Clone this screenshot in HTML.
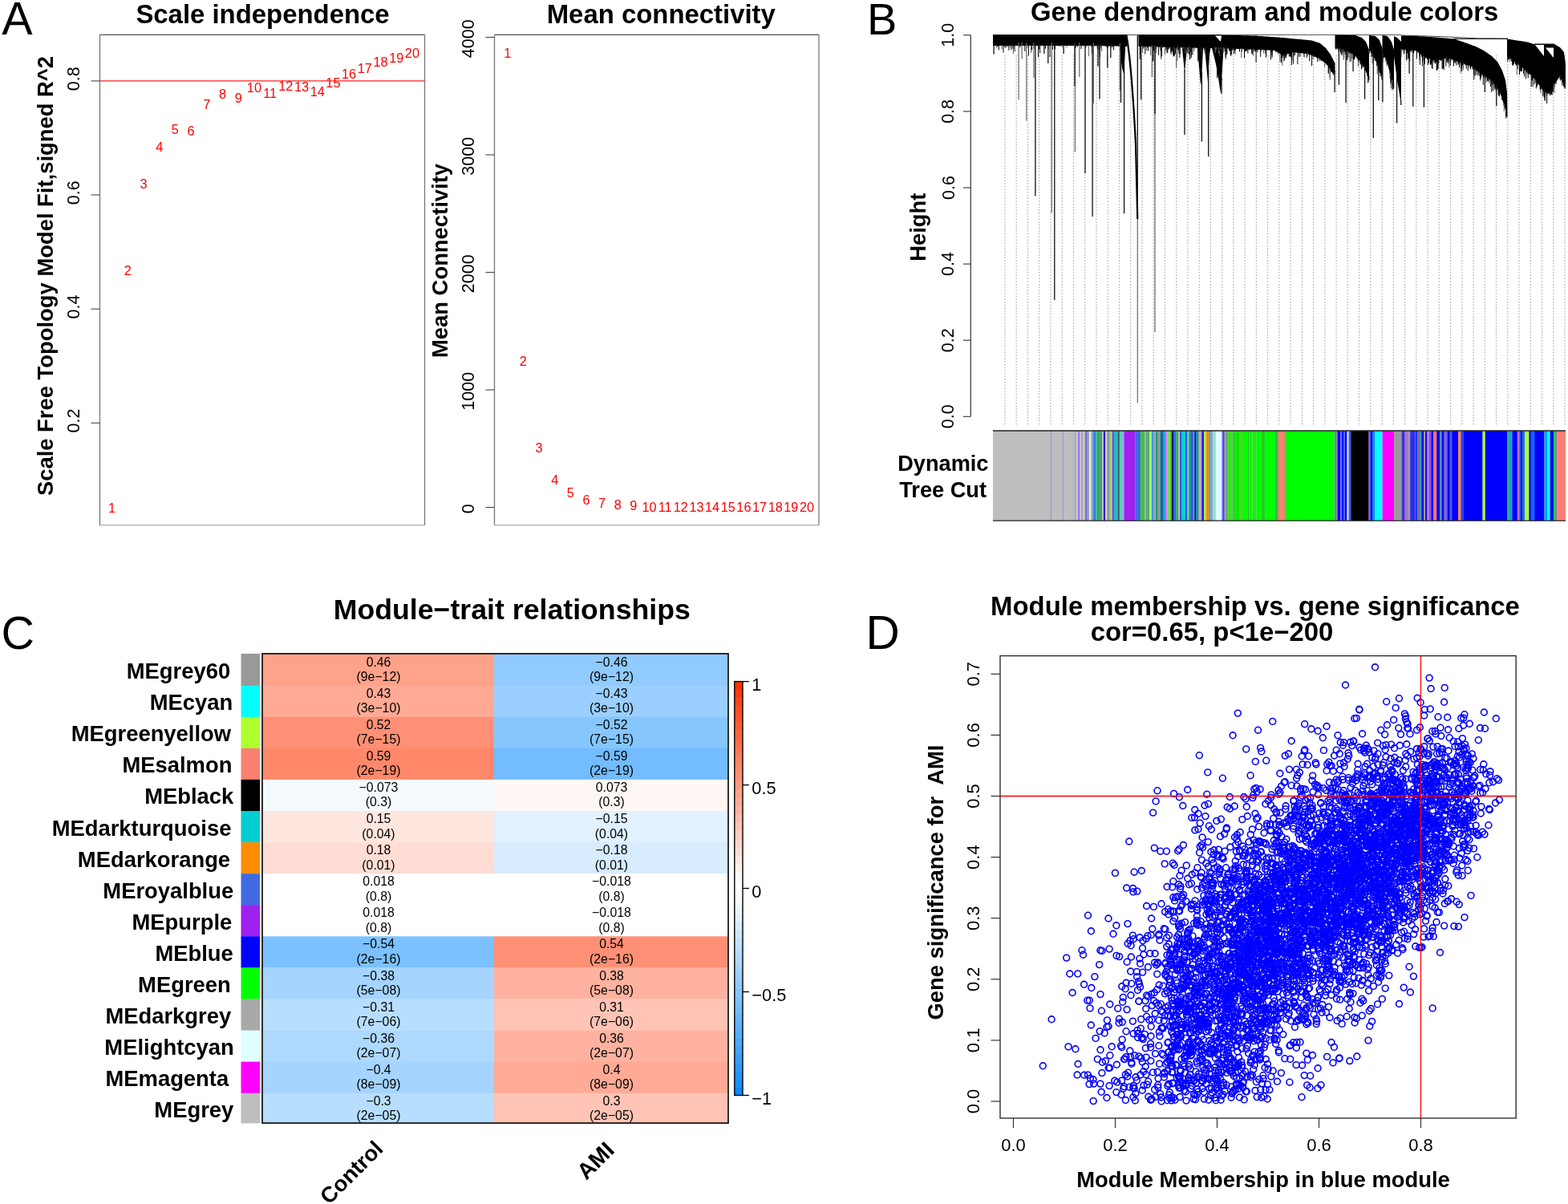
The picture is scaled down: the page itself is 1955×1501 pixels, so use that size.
<!DOCTYPE html><html><head><meta charset="utf-8"><title>WGCNA figure</title><style>html,body{margin:0;padding:0;background:#fff;overflow:hidden}svg{display:block}</style></head><body><svg width="1955" height="1501" viewBox="0 0 1955 1501" font-family="'Liberation Sans', Arial, Helvetica, sans-serif"><rect width="1955" height="1501" fill="#fff"/><text x="2.3" y="43.3" font-size="57.5">A</text><text x="1081" y="42.6" font-size="56">B</text><text x="1.6" y="809.3" font-size="57.5">C</text><text x="1079.5" y="809.3" font-size="58.5">D</text><text x="327.5" y="28.7" font-size="32.9" font-weight="bold" text-anchor="middle">Scale independence</text><line x1="124.5" y1="43.3" x2="529.5" y2="43.3" stroke="#222" stroke-width="1.1"/><line x1="529.5" y1="43.3" x2="529.5" y2="654.7" stroke="#777" stroke-width="1.3"/><line x1="124.5" y1="654.7" x2="529.5" y2="654.7" stroke="#999" stroke-width="1.1"/><line x1="124.5" y1="43.3" x2="124.5" y2="654.7" stroke="#777" stroke-width="1.3"/><line x1="113.5" y1="527.3" x2="124.5" y2="527.3" stroke="#444" stroke-width="1.1"/><text x="99" y="524.6" font-size="21.5" text-anchor="middle" transform="rotate(-90 99 524.6)">0.2</text><line x1="113.5" y1="385.2" x2="124.5" y2="385.2" stroke="#444" stroke-width="1.1"/><text x="99" y="382.5" font-size="21.5" text-anchor="middle" transform="rotate(-90 99 382.5)">0.4</text><line x1="113.5" y1="243" x2="124.5" y2="243" stroke="#444" stroke-width="1.1"/><text x="99" y="240.3" font-size="21.5" text-anchor="middle" transform="rotate(-90 99 240.3)">0.6</text><line x1="113.5" y1="100.9" x2="124.5" y2="100.9" stroke="#444" stroke-width="1.1"/><text x="99" y="98.2" font-size="21.5" text-anchor="middle" transform="rotate(-90 99 98.2)">0.8</text><text x="66" y="344" font-size="27.4" font-weight="bold" text-anchor="middle" transform="rotate(-90 66 344)">Scale Free Topology Model Fit,signed R^2</text><line x1="124.5" y1="100.8" x2="529.5" y2="100.8" stroke="#ff2020" stroke-width="1.2"/><text x="139.6" y="639" font-size="16.3" text-anchor="middle" fill="#ff0000">1</text><text x="159.3" y="342.6" font-size="16.3" text-anchor="middle" fill="#ff0000">2</text><text x="179" y="234.5" font-size="16.3" text-anchor="middle" fill="#ff0000">3</text><text x="198.7" y="188.5" font-size="16.3" text-anchor="middle" fill="#ff0000">4</text><text x="218.4" y="167" font-size="16.3" text-anchor="middle" fill="#ff0000">5</text><text x="238.1" y="168.9" font-size="16.3" text-anchor="middle" fill="#ff0000">6</text><text x="257.8" y="136" font-size="16.3" text-anchor="middle" fill="#ff0000">7</text><text x="277.5" y="123.4" font-size="16.3" text-anchor="middle" fill="#ff0000">8</text><text x="297.2" y="128.3" font-size="16.3" text-anchor="middle" fill="#ff0000">9</text><text x="316.9" y="115.1" font-size="16.3" text-anchor="middle" fill="#ff0000">10</text><text x="336.6" y="121.5" font-size="16.3" text-anchor="middle" fill="#ff0000">11</text><text x="356.3" y="113.2" font-size="16.3" text-anchor="middle" fill="#ff0000">12</text><text x="376" y="113.5" font-size="16.3" text-anchor="middle" fill="#ff0000">13</text><text x="395.7" y="119.7" font-size="16.3" text-anchor="middle" fill="#ff0000">14</text><text x="415.4" y="108.6" font-size="16.3" text-anchor="middle" fill="#ff0000">15</text><text x="435.1" y="98.2" font-size="16.3" text-anchor="middle" fill="#ff0000">16</text><text x="454.8" y="90.8" font-size="16.3" text-anchor="middle" fill="#ff0000">17</text><text x="474.5" y="82.8" font-size="16.3" text-anchor="middle" fill="#ff0000">18</text><text x="494.2" y="77.9" font-size="16.3" text-anchor="middle" fill="#ff0000">19</text><text x="513.9" y="72.4" font-size="16.3" text-anchor="middle" fill="#ff0000">20</text><text x="824.3" y="28.9" font-size="32.9" font-weight="bold" text-anchor="middle">Mean connectivity</text><line x1="616.5" y1="43.3" x2="1021" y2="43.3" stroke="#222" stroke-width="1.1"/><line x1="1021" y1="43.3" x2="1021" y2="654.7" stroke="#777" stroke-width="1.3"/><line x1="616.5" y1="654.7" x2="1021" y2="654.7" stroke="#999" stroke-width="1.1"/><line x1="616.5" y1="43.3" x2="616.5" y2="654.7" stroke="#777" stroke-width="1.3"/><line x1="605.5" y1="632.5" x2="616.5" y2="632.5" stroke="#444" stroke-width="1.1"/><text x="591" y="634.3" font-size="21.5" text-anchor="middle" transform="rotate(-90 591 634.3)">0</text><line x1="605.5" y1="486" x2="616.5" y2="486" stroke="#444" stroke-width="1.1"/><text x="591" y="487.8" font-size="21.5" text-anchor="middle" transform="rotate(-90 591 487.8)">1000</text><line x1="605.5" y1="339.5" x2="616.5" y2="339.5" stroke="#444" stroke-width="1.1"/><text x="591" y="341.3" font-size="21.5" text-anchor="middle" transform="rotate(-90 591 341.3)">2000</text><line x1="605.5" y1="193" x2="616.5" y2="193" stroke="#444" stroke-width="1.1"/><text x="591" y="194.8" font-size="21.5" text-anchor="middle" transform="rotate(-90 591 194.8)">3000</text><line x1="605.5" y1="46.5" x2="616.5" y2="46.5" stroke="#444" stroke-width="1.1"/><text x="591" y="48.3" font-size="21.5" text-anchor="middle" transform="rotate(-90 591 48.3)">4000</text><text x="558" y="325" font-size="27.4" font-weight="bold" text-anchor="middle" transform="rotate(-90 558 325)">Mean Connectivity</text><text x="632.8" y="72.1" font-size="16.3" text-anchor="middle" fill="#ff0000">1</text><text x="652.4" y="456.3" font-size="16.3" text-anchor="middle" fill="#ff0000">2</text><text x="672.1" y="563.8" font-size="16.3" text-anchor="middle" fill="#ff0000">3</text><text x="691.7" y="603.8" font-size="16.3" text-anchor="middle" fill="#ff0000">4</text><text x="711.4" y="620.3" font-size="16.3" text-anchor="middle" fill="#ff0000">5</text><text x="731" y="628.6" font-size="16.3" text-anchor="middle" fill="#ff0000">6</text><text x="750.6" y="632.8" font-size="16.3" text-anchor="middle" fill="#ff0000">7</text><text x="770.3" y="634.8" font-size="16.3" text-anchor="middle" fill="#ff0000">8</text><text x="789.9" y="636.3" font-size="16.3" text-anchor="middle" fill="#ff0000">9</text><text x="809.6" y="638.3" font-size="16.3" text-anchor="middle" fill="#ff0000">10</text><text x="829.2" y="638.3" font-size="16.3" text-anchor="middle" fill="#ff0000">11</text><text x="848.8" y="638.3" font-size="16.3" text-anchor="middle" fill="#ff0000">12</text><text x="868.5" y="638.3" font-size="16.3" text-anchor="middle" fill="#ff0000">13</text><text x="888.1" y="638.3" font-size="16.3" text-anchor="middle" fill="#ff0000">14</text><text x="907.8" y="638.3" font-size="16.3" text-anchor="middle" fill="#ff0000">15</text><text x="927.4" y="638.3" font-size="16.3" text-anchor="middle" fill="#ff0000">16</text><text x="947" y="638.3" font-size="16.3" text-anchor="middle" fill="#ff0000">17</text><text x="966.7" y="638.3" font-size="16.3" text-anchor="middle" fill="#ff0000">18</text><text x="986.3" y="638.3" font-size="16.3" text-anchor="middle" fill="#ff0000">19</text><text x="1006" y="638.3" font-size="16.3" text-anchor="middle" fill="#ff0000">20</text><text x="638.3" y="772.2" font-size="35.7" font-weight="bold" text-anchor="middle">Module−trait relationships</text><rect x="300.5" y="814.9" width="23.5" height="40.1" fill="#999999"/><rect x="327" y="814.9" width="289" height="40.1" fill="#FFA28A"/><rect x="616" y="814.9" width="292" height="40.1" fill="#90CAFF"/><text x="287.2" y="846.1" font-size="27.4" font-weight="bold" text-anchor="end">MEgrey60</text><text x="472" y="830.7" font-size="15.8" text-anchor="middle">0.46</text><text x="472" y="849.1" font-size="15.8" text-anchor="middle">(9e−12)</text><text x="762.5" y="830.7" font-size="15.8" text-anchor="middle">−0.46</text><text x="762.5" y="849.1" font-size="15.8" text-anchor="middle">(9e−12)</text><rect x="300.5" y="854.7" width="23.5" height="39.4" fill="#00FFFF"/><rect x="327" y="854.7" width="289" height="39.4" fill="#FFAA95"/><rect x="616" y="854.7" width="292" height="39.4" fill="#9ACFFF"/><text x="290.2" y="885.2" font-size="27.4" font-weight="bold" text-anchor="end">MEcyan</text><text x="472" y="869.8" font-size="15.8" text-anchor="middle">0.43</text><text x="472" y="888.2" font-size="15.8" text-anchor="middle">(3e−10)</text><text x="762.5" y="869.8" font-size="15.8" text-anchor="middle">−0.43</text><text x="762.5" y="888.2" font-size="15.8" text-anchor="middle">(3e−10)</text><rect x="300.5" y="893.8" width="23.5" height="39.4" fill="#ADFF2F"/><rect x="327" y="893.8" width="289" height="39.4" fill="#FF9075"/><rect x="616" y="893.8" width="292" height="39.4" fill="#86C6FF"/><text x="288.1" y="924.3" font-size="27.4" font-weight="bold" text-anchor="end">MEgreenyellow</text><text x="472" y="908.9" font-size="15.8" text-anchor="middle">0.52</text><text x="472" y="927.3" font-size="15.8" text-anchor="middle">(7e−15)</text><text x="762.5" y="908.9" font-size="15.8" text-anchor="middle">−0.52</text><text x="762.5" y="927.3" font-size="15.8" text-anchor="middle">(7e−15)</text><rect x="300.5" y="932.8" width="23.5" height="39.4" fill="#FA8072"/><rect x="327" y="932.8" width="289" height="39.4" fill="#FF886A"/><rect x="616" y="932.8" width="292" height="39.4" fill="#72BCFF"/><text x="289.4" y="963.3" font-size="27.4" font-weight="bold" text-anchor="end">MEsalmon</text><text x="472" y="947.9" font-size="15.8" text-anchor="middle">0.59</text><text x="472" y="966.3" font-size="15.8" text-anchor="middle">(2e−19)</text><text x="762.5" y="947.9" font-size="15.8" text-anchor="middle">−0.59</text><text x="762.5" y="966.3" font-size="15.8" text-anchor="middle">(2e−19)</text><rect x="300.5" y="971.9" width="23.5" height="39.4" fill="#000000"/><rect x="327" y="971.9" width="289" height="39.4" fill="#F5FAFF"/><rect x="616" y="971.9" width="292" height="39.4" fill="#FFF7F4"/><text x="291.3" y="1002.4" font-size="27.4" font-weight="bold" text-anchor="end">MEblack</text><text x="472" y="987" font-size="15.8" text-anchor="middle">−0.073</text><text x="472" y="1005.4" font-size="15.8" text-anchor="middle">(0.3)</text><text x="762.5" y="987" font-size="15.8" text-anchor="middle">0.073</text><text x="762.5" y="1005.4" font-size="15.8" text-anchor="middle">(0.3)</text><rect x="300.5" y="1011" width="23.5" height="39.4" fill="#00CED1"/><rect x="327" y="1011" width="289" height="39.4" fill="#FFE6DF"/><rect x="616" y="1011" width="292" height="39.4" fill="#E1F1FF"/><text x="288.4" y="1041.5" font-size="27.4" font-weight="bold" text-anchor="end">MEdarkturquoise</text><text x="472" y="1026.1" font-size="15.8" text-anchor="middle">0.15</text><text x="472" y="1044.5" font-size="15.8" text-anchor="middle">(0.04)</text><text x="762.5" y="1026.1" font-size="15.8" text-anchor="middle">−0.15</text><text x="762.5" y="1044.5" font-size="15.8" text-anchor="middle">(0.04)</text><rect x="300.5" y="1050.1" width="23.5" height="39.4" fill="#FF8C00"/><rect x="327" y="1050.1" width="289" height="39.4" fill="#FFDDD4"/><rect x="616" y="1050.1" width="292" height="39.4" fill="#D7ECFF"/><text x="287.1" y="1080.6" font-size="27.4" font-weight="bold" text-anchor="end">MEdarkorange</text><text x="472" y="1065.2" font-size="15.8" text-anchor="middle">0.18</text><text x="472" y="1083.6" font-size="15.8" text-anchor="middle">(0.01)</text><text x="762.5" y="1065.2" font-size="15.8" text-anchor="middle">−0.18</text><text x="762.5" y="1083.6" font-size="15.8" text-anchor="middle">(0.01)</text><rect x="300.5" y="1089.2" width="23.5" height="39.4" fill="#4169E1"/><rect x="327" y="1089.2" width="289" height="39.4" fill="#FFFFFF"/><rect x="616" y="1089.2" width="292" height="39.4" fill="#FFFFFF"/><text x="291.2" y="1119.7" font-size="27.4" font-weight="bold" text-anchor="end">MEroyalblue</text><text x="472" y="1104.3" font-size="15.8" text-anchor="middle">0.018</text><text x="472" y="1122.7" font-size="15.8" text-anchor="middle">(0.8)</text><text x="762.5" y="1104.3" font-size="15.8" text-anchor="middle">−0.018</text><text x="762.5" y="1122.7" font-size="15.8" text-anchor="middle">(0.8)</text><rect x="300.5" y="1128.2" width="23.5" height="39.4" fill="#A020F0"/><rect x="327" y="1128.2" width="289" height="39.4" fill="#FFFFFF"/><rect x="616" y="1128.2" width="292" height="39.4" fill="#FFFFFF"/><text x="289.3" y="1158.7" font-size="27.4" font-weight="bold" text-anchor="end">MEpurple</text><text x="472" y="1143.3" font-size="15.8" text-anchor="middle">0.018</text><text x="472" y="1161.7" font-size="15.8" text-anchor="middle">(0.8)</text><text x="762.5" y="1143.3" font-size="15.8" text-anchor="middle">−0.018</text><text x="762.5" y="1161.7" font-size="15.8" text-anchor="middle">(0.8)</text><rect x="300.5" y="1167.3" width="23.5" height="39.4" fill="#0000FF"/><rect x="327" y="1167.3" width="289" height="39.4" fill="#7CC1FF"/><rect x="616" y="1167.3" width="292" height="39.4" fill="#FF9075"/><text x="290.8" y="1197.8" font-size="27.4" font-weight="bold" text-anchor="end">MEblue</text><text x="472" y="1182.4" font-size="15.8" text-anchor="middle">−0.54</text><text x="472" y="1200.8" font-size="15.8" text-anchor="middle">(2e−16)</text><text x="762.5" y="1182.4" font-size="15.8" text-anchor="middle">0.54</text><text x="762.5" y="1200.8" font-size="15.8" text-anchor="middle">(2e−16)</text><rect x="300.5" y="1206.4" width="23.5" height="39.4" fill="#00FF00"/><rect x="327" y="1206.4" width="289" height="39.4" fill="#A4D4FF"/><rect x="616" y="1206.4" width="292" height="39.4" fill="#FFB29F"/><text x="287.8" y="1236.9" font-size="27.4" font-weight="bold" text-anchor="end">MEgreen</text><text x="472" y="1221.5" font-size="15.8" text-anchor="middle">−0.38</text><text x="472" y="1239.9" font-size="15.8" text-anchor="middle">(5e−08)</text><text x="762.5" y="1221.5" font-size="15.8" text-anchor="middle">0.38</text><text x="762.5" y="1239.9" font-size="15.8" text-anchor="middle">(5e−08)</text><rect x="300.5" y="1245.5" width="23.5" height="39.4" fill="#A9A9A9"/><rect x="327" y="1245.5" width="289" height="39.4" fill="#B8DEFF"/><rect x="616" y="1245.5" width="292" height="39.4" fill="#FFC4B5"/><text x="288.2" y="1276" font-size="27.4" font-weight="bold" text-anchor="end">MEdarkgrey</text><text x="472" y="1260.6" font-size="15.8" text-anchor="middle">−0.31</text><text x="472" y="1279" font-size="15.8" text-anchor="middle">(7e−06)</text><text x="762.5" y="1260.6" font-size="15.8" text-anchor="middle">0.31</text><text x="762.5" y="1279" font-size="15.8" text-anchor="middle">(7e−06)</text><rect x="300.5" y="1284.6" width="23.5" height="39.4" fill="#E0FFFF"/><rect x="327" y="1284.6" width="289" height="39.4" fill="#AED9FF"/><rect x="616" y="1284.6" width="292" height="39.4" fill="#FFB29F"/><text x="291.7" y="1315.1" font-size="27.4" font-weight="bold" text-anchor="end">MElightcyan</text><text x="472" y="1299.7" font-size="15.8" text-anchor="middle">−0.36</text><text x="472" y="1318.1" font-size="15.8" text-anchor="middle">(2e−07)</text><text x="762.5" y="1299.7" font-size="15.8" text-anchor="middle">0.36</text><text x="762.5" y="1318.1" font-size="15.8" text-anchor="middle">(2e−07)</text><rect x="300.5" y="1323.6" width="23.5" height="39.4" fill="#FF00FF"/><rect x="327" y="1323.6" width="289" height="39.4" fill="#A4D4FF"/><rect x="616" y="1323.6" width="292" height="39.4" fill="#FFAA95"/><text x="285.2" y="1354.1" font-size="27.4" font-weight="bold" text-anchor="end">MEmagenta</text><text x="472" y="1338.7" font-size="15.8" text-anchor="middle">−0.4</text><text x="472" y="1357.1" font-size="15.8" text-anchor="middle">(8e−09)</text><text x="762.5" y="1338.7" font-size="15.8" text-anchor="middle">0.4</text><text x="762.5" y="1357.1" font-size="15.8" text-anchor="middle">(8e−09)</text><rect x="300.5" y="1362.7" width="23.5" height="37.7" fill="#BEBEBE"/><rect x="327" y="1362.7" width="289" height="37.7" fill="#B8DEFF"/><rect x="616" y="1362.7" width="292" height="37.7" fill="#FFC4B5"/><text x="291.3" y="1393.2" font-size="27.4" font-weight="bold" text-anchor="end">MEgrey</text><text x="472" y="1377.8" font-size="15.8" text-anchor="middle">−0.3</text><text x="472" y="1396.2" font-size="15.8" text-anchor="middle">(2e−05)</text><text x="762.5" y="1377.8" font-size="15.8" text-anchor="middle">0.3</text><text x="762.5" y="1396.2" font-size="15.8" text-anchor="middle">(2e−05)</text><rect x="327" y="814.9" width="581" height="585.2" fill="none" stroke="#1a1a1a" stroke-width="1.8"/><text x="479.2" y="1433.8" font-size="27.4" font-weight="bold" text-anchor="end" transform="rotate(-45 479.2 1433.8)">Control</text><text x="767.5" y="1435.5" font-size="28.2" font-weight="bold" text-anchor="end" transform="rotate(-45 767.5 1435.5)">AMI</text><rect x="915.8" y="1355.2" width="10.2" height="10.7" fill="#0D8CFF"/><rect x="915.8" y="1344.9" width="10.2" height="10.7" fill="#1791FF"/><rect x="915.8" y="1334.5" width="10.2" height="10.7" fill="#2196FF"/><rect x="915.8" y="1324.2" width="10.2" height="10.7" fill="#2B9BFF"/><rect x="915.8" y="1313.9" width="10.2" height="10.7" fill="#359FFF"/><rect x="915.8" y="1303.6" width="10.2" height="10.7" fill="#3FA4FF"/><rect x="915.8" y="1293.3" width="10.2" height="10.7" fill="#49A9FF"/><rect x="915.8" y="1283" width="10.2" height="10.7" fill="#53AEFF"/><rect x="915.8" y="1272.6" width="10.2" height="10.7" fill="#5EB2FF"/><rect x="915.8" y="1262.3" width="10.2" height="10.7" fill="#68B7FF"/><rect x="915.8" y="1252" width="10.2" height="10.7" fill="#72BCFF"/><rect x="915.8" y="1241.7" width="10.2" height="10.7" fill="#7CC1FF"/><rect x="915.8" y="1231.4" width="10.2" height="10.7" fill="#86C6FF"/><rect x="915.8" y="1221" width="10.2" height="10.7" fill="#90CAFF"/><rect x="915.8" y="1210.7" width="10.2" height="10.7" fill="#9ACFFF"/><rect x="915.8" y="1200.4" width="10.2" height="10.7" fill="#A4D4FF"/><rect x="915.8" y="1190.1" width="10.2" height="10.7" fill="#AED9FF"/><rect x="915.8" y="1179.8" width="10.2" height="10.7" fill="#B8DEFF"/><rect x="915.8" y="1169.5" width="10.2" height="10.7" fill="#C2E2FF"/><rect x="915.8" y="1159.1" width="10.2" height="10.7" fill="#CDE7FF"/><rect x="915.8" y="1148.8" width="10.2" height="10.7" fill="#D7ECFF"/><rect x="915.8" y="1138.5" width="10.2" height="10.7" fill="#E1F1FF"/><rect x="915.8" y="1128.2" width="10.2" height="10.7" fill="#EBF5FF"/><rect x="915.8" y="1117.9" width="10.2" height="10.7" fill="#F5FAFF"/><rect x="915.8" y="1107.5" width="10.2" height="10.7" fill="#FFFFFF"/><rect x="915.8" y="1097.2" width="10.2" height="10.7" fill="#FFFFFF"/><rect x="915.8" y="1086.9" width="10.2" height="10.7" fill="#FFF7F4"/><rect x="915.8" y="1076.6" width="10.2" height="10.7" fill="#FFEEEA"/><rect x="915.8" y="1066.3" width="10.2" height="10.7" fill="#FFE6DF"/><rect x="915.8" y="1056" width="10.2" height="10.7" fill="#FFDDD4"/><rect x="915.8" y="1045.6" width="10.2" height="10.7" fill="#FFD4CA"/><rect x="915.8" y="1035.3" width="10.2" height="10.7" fill="#FFCCBF"/><rect x="915.8" y="1025" width="10.2" height="10.7" fill="#FFC4B5"/><rect x="915.8" y="1014.7" width="10.2" height="10.7" fill="#FFBBAA"/><rect x="915.8" y="1004.4" width="10.2" height="10.7" fill="#FFB29F"/><rect x="915.8" y="994.1" width="10.2" height="10.7" fill="#FFAA95"/><rect x="915.8" y="983.7" width="10.2" height="10.7" fill="#FFA28A"/><rect x="915.8" y="973.4" width="10.2" height="10.7" fill="#FF9980"/><rect x="915.8" y="963.1" width="10.2" height="10.7" fill="#FF9075"/><rect x="915.8" y="952.8" width="10.2" height="10.7" fill="#FF886A"/><rect x="915.8" y="942.5" width="10.2" height="10.7" fill="#FF8060"/><rect x="915.8" y="932.1" width="10.2" height="10.7" fill="#FF7755"/><rect x="915.8" y="921.8" width="10.2" height="10.7" fill="#FF6E4A"/><rect x="915.8" y="911.5" width="10.2" height="10.7" fill="#FF6640"/><rect x="915.8" y="901.2" width="10.2" height="10.7" fill="#FF5E35"/><rect x="915.8" y="890.9" width="10.2" height="10.7" fill="#FF552A"/><rect x="915.8" y="880.6" width="10.2" height="10.7" fill="#FF4D20"/><rect x="915.8" y="870.2" width="10.2" height="10.7" fill="#FF4415"/><rect x="915.8" y="859.9" width="10.2" height="10.7" fill="#FF3C0B"/><rect x="915.8" y="849.6" width="10.2" height="10.7" fill="#FF3300"/><rect x="915.8" y="849.6" width="10.2" height="515.9" fill="none" stroke="#000" stroke-width="1.4"/><line x1="926" y1="849.6" x2="934" y2="849.6" stroke="#000" stroke-width="1.3"/><text x="937.3" y="860.8" font-size="21.8">1</text><line x1="926" y1="978.6" x2="934" y2="978.6" stroke="#000" stroke-width="1.3"/><text x="937.3" y="989.8" font-size="21.8">0.5</text><line x1="926" y1="1107.5" x2="934" y2="1107.5" stroke="#000" stroke-width="1.3"/><text x="937.3" y="1118.8" font-size="21.8">0</text><line x1="926" y1="1236.5" x2="934" y2="1236.5" stroke="#000" stroke-width="1.3"/><text x="937.3" y="1247.7" font-size="21.8">−0.5</text><line x1="926" y1="1365.5" x2="934" y2="1365.5" stroke="#000" stroke-width="1.3"/><text x="937.3" y="1376.7" font-size="21.8">−1</text><text x="1565" y="766.8" font-size="32.9" font-weight="bold" text-anchor="middle">Module membership vs. gene significance</text><text x="1511" y="799" font-size="32.9" font-weight="bold" text-anchor="middle">cor=0.65, p&lt;1e−200</text><defs><marker id="mk" markerUnits="userSpaceOnUse" markerWidth="12" markerHeight="12" refX="6" refY="6" viewBox="0 0 12 12" overflow="visible"><circle cx="6" cy="6" r="3.9" fill="none" stroke="#0000FF" stroke-width="1.6"/></marker></defs><polyline fill="none" stroke="none" marker-start="url(#mk)" marker-mid="url(#mk)" marker-end="url(#mk)" points="1652.8,1062.3 1459.9,1318.8 1582.2,1215 1604.4,1254.9 1823.7,980.9 1653.6,1210 1659.3,1125.4 1611.9,1190.3 1558.5,1197 1777.6,953.9 1560.4,1165.5 1517.4,1293.8 1686.5,1081.8 1662.6,1198.2 1696.9,1090.2 1646.6,1175.3 1592.4,1210.3 1601.9,1111.8 1785.8,1161 1675.6,1039.1 1585.2,1186.2 1819.6,1069.7 1633.9,1104.8 1660,986.2 1666.8,1107.7 1520.9,1246.1 1518.4,1149.7 1581.3,1191.6 1830.7,1019.7 1580.7,1139.8 1644.2,1157.3 1576.4,1226.7 1410.4,1193 1738.9,944.3 1735.9,1116.3 1508.5,1184.7 1828.4,970.4 1666.2,971.9 1607.5,959.1 1726.3,1104.3 1821,1028 1571.6,1242.2 1500.5,1243.3 1618.2,1110.8 1757.2,1031.7 1462.6,1350.7 1791.1,1058.8 1680.1,1166.4 1728.9,1074.3 1811.4,976.8 1553.2,996 1631.7,1213.3 1758.2,987.5 1593.4,1229.9 1632.8,1030.8 1589.1,1142.9 1726.7,1090 1538.4,1208.3 1751.2,1090.1 1728,1124.2 1778.9,1142.1 1550.9,1210 1501.3,1361.3 1656.2,1110.2 1776.6,1025.8 1493.9,1342.4 1718.5,975.6 1674.7,1080.1 1551.2,1370.9 1608.9,1175 1768,1037.8 1476.8,1252 1563,1281.6 1730.6,1056.6 1676.1,1166.6 1622.4,1082.1 1566.4,1348.7 1490.1,1365.2 1696.8,1021 1560.4,1182 1520.4,1339.9 1689.1,1103.4 1801.5,1009.8 1625.2,1018.6 1567.1,1254.4 1741,1108.5 1595.1,1178.5 1725.8,1159.8 1772.7,1050.6 1480.2,1172.3 1575.1,1148.8 1483.3,1302.5 1593,1236 1769,1017.5 1762.3,1006.7 1557,1180.7 1794.4,1137.4 1579.5,1026.9 1533,1243.2 1667.2,1272.5 1758.4,1237 1639.8,1106.4 1457.4,1311.6 1794.7,1028.1 1449.9,1282.2 1440.8,1367.4 1633.7,1341.2 1454.8,1235 1659.7,1152.7 1698.4,1079.1 1857.6,966.4 1519.1,1334.6 1760.3,1016.8 1716.5,1149.6 1673.3,1059.8 1492.6,1357.8 1462.6,1183.6 1727.2,969 1618,1215.1 1763.1,1005.9 1504.7,1203.7 1602,1165.1 1769.2,1123.7 1682.6,1192.2 1564.9,1150.7 1513.8,1312.4 1763.8,1143 1608.7,1232.8 1501.3,1250.3 1771.7,1088.5 1559.9,1124.3 1806.2,992.7 1657.9,1226.6 1488.6,1151.2 1665.1,1216 1771.3,1038.6 1735.3,984.1 1565.1,1265.3 1475.8,1232.1 1685.3,1123.4 1523,1284.3 1444.8,1303.7 1506.6,1205.9 1468.7,1060.7 1827.9,946.1 1595.6,1140.8 1611.3,1188.4 1588.2,1267.2 1669.9,1223.5 1760.8,1021.4 1718.7,1120.4 1656.2,1213.6 1715.1,1113.1 1773.2,1051.2 1460.2,1199.2 1846.3,1014 1485.3,1127.7 1770.4,906.8 1660.1,1191.8 1707.1,1142.9 1729.8,1057.8 1559.2,1342.8 1578,1358.6 1746.7,983.6 1653.2,1162.4 1521,1191.5 1705,1208.5 1786.3,1119 1591.5,1097.2 1543.1,1199.2 1533.4,1156.3 1723.9,1078.8 1574.8,1131.9 1830.3,1085.2 1856.5,1008.5 1471.5,1356.1 1567.3,1277.8 1733.2,1008 1612.8,1065.6 1663.4,1134.7 1803.5,970.3 1497.2,1310.3 1700.7,1048.4 1768.4,1020.4 1684.5,1058.5 1656.2,1013.2 1597.8,1107.5 1373.4,1260.2 1552.1,1273.4 1504.8,990.2 1683.1,1086.9 1681.9,1116.1 1728.6,1060.4 1771,1090.6 1741,1122.8 1643.6,1258 1639.3,1145.6 1727.2,1232.1 1683,1240.5 1690.2,1152.5 1697,1142 1727.1,934.7 1673.9,968.2 1621.9,986.4 1672.1,1040.1 1754.8,1094.9 1556.9,1218.5 1555.1,1181.5 1610.1,1136.2 1826.2,1003.4 1560.8,1202.1 1518,1137.1 1807,1072 1448.7,1313.5 1566.5,1053 1478.1,1228.9 1531.8,1195.7 1534.3,1117.1 1370.7,1202.6 1738,992.3 1754.4,1122.7 1721.9,1167.3 1613.1,1107 1696.6,1024 1703.4,1016.8 1451.4,1342.9 1630.3,1141.7 1652.8,1077.2 1727.8,1122.9 1575.5,1184.9 1777.7,1033.1 1358.1,1351.6 1521.8,1095.3 1726.6,1112.7 1494.5,1311.8 1488.2,1268 1542.5,1158.1 1685.2,1137.4 1788.5,1046.9 1539,1246.8 1498,1291.7 1619.7,1115.9 1770.1,991.9 1653.4,1161.2 1662.1,1154.5 1535.1,1319.6 1729.6,1176.5 1663.6,942 1506.6,1137.2 1751.9,1041.4 1521.2,1251.4 1776.3,884.6 1686.6,971.6 1780.1,1085.2 1619.7,1017.1 1744.1,1009.9 1656,1091.8 1786.1,1069.7 1775.4,939.6 1552.1,1058.7 1790.5,1046.2 1669.8,1082 1533.1,1122.2 1626.2,1149.3 1667.1,1142.1 1579.4,1029.6 1827.9,960.7 1720.3,1166.5 1509,1154.7 1664.3,1036 1629.3,1171.9 1526.7,1203.6 1574.1,1230.3 1532.6,1258.4 1704.1,1076.9 1461.7,1350.2 1819,937.5 1819,1022.1 1696.1,1006.8 1359.4,1344.3 1732.1,1016.8 1456.5,1254.2 1629.9,1114.5 1608.3,1169.2 1549,1234.9 1599.1,1092.7 1524.2,1177.1 1604.1,1127.2 1743.5,993.5 1460.2,1232.6 1748.8,1098.2 1496.2,1026.1 1540.6,1053.1 1818,1011.3 1612.2,1235 1636.7,1029.1 1699.9,979.8 1586.7,1092.9 1526.6,1326.1 1620.6,1171.6 1758.4,1078.7 1760.2,991.8 1707.1,1066.6 1565.2,1089.8 1482,1347.2 1852,983.3 1770.4,1098.6 1687.4,1159.5 1458.5,1224.2 1458.4,1361.9 1575.6,1104.2 1736,1090.5 1691.6,1035.4 1547.7,1140.3 1599.8,1185.3 1655.3,1166 1792.2,969 1563.7,983.8 1722,1043.2 1680.2,1163 1529.3,1124.3 1475.7,1219.6 1588.9,1097.6 1560,1122 1439.3,1057.1 1677.5,854 1675.6,1030.6 1753.6,1011.9 1623.7,1121 1721.7,910.1 1681.3,1155.6 1509.5,1365.7 1565,1359.5 1557.9,1189.7 1696.8,1088.8 1775,1168.1 1660.4,1182.6 1508.9,1111.2 1715.1,944.2 1564.1,1282.6 1577.8,1258.8 1655.5,1067.2 1580.4,1175.1 1660.5,1032.1 1541.6,1351.2 1739,1159.7 1534.6,1115.3 1549.9,1287.6 1705.1,933 1474.3,1350.5 1629.8,1093.9 1641.4,1020.9 1779.9,989.1 1481.1,1347.5 1758.2,1023 1647,1352.6 1790,976.8 1422,1340 1846.9,1005.6 1767.9,1069.4 1547.7,1323.9 1777.5,1148.1 1651.4,1169.4 1654.2,1064.3 1489.4,1180.2 1485.3,1248.9 1462.8,1309.7 1790.8,986.6 1504.7,1228.5 1736,1026.7 1534.3,1205.8 1556.5,1134 1726.2,1118.3 1567.6,1128 1494,1033.7 1585.7,1124.9 1712,1053 1533.4,1294.8 1519.2,1150.4 1671.3,1045.2 1701.5,1020.9 1360.4,1160.8 1434.6,1370.9 1534.3,1176 1472.1,1292 1766.9,997.3 1583.2,1121.1 1669.7,1218.2 1468.2,1298.4 1694.9,884.9 1727.5,987.6 1434.8,1322.6 1753.7,1011.3 1666.2,935.2 1615.6,1098 1697.6,1160.4 1514.6,1097.9 1592.2,1129 1596.4,1098 1542.9,1278.4 1724.7,1138.5 1569.7,1160.2 1831.8,1057.1 1449.7,1261.7 1765.8,993.8 1622.8,1123.8 1753.7,1072.7 1610.6,1107.8 1577.3,1079.5 1666.7,1137.8 1597.6,1228 1738.5,1058.5 1610.8,1071.6 1583.4,1184.6 1747.2,1093.3 1710.5,992.6 1782,973.5 1699.7,1088 1569.1,1071.9 1564.3,1242 1609.8,1149.7 1611.5,1054.5 1715.3,1099 1612.9,1202.6 1593.5,1270.4 1566.2,1209.8 1696.6,1084.7 1611.1,1144.9 1497,1301.4 1382.2,1331.5 1602.2,974.7 1514.7,1368.6 1771.7,1108 1560.6,1142.8 1682.5,1075.7 1747.4,1162.6 1680.7,1101.5 1649.5,1087.7 1565,1014.3 1564,1097.9 1693.5,1062 1471.1,1345.4 1602.5,1137.3 1812.1,1015.7 1601.8,1050.1 1736,1080.3 1551,1206.1 1754.4,1016 1702.7,999 1682.5,1199.4 1703.3,1038.1 1445.9,1291.7 1550.1,1099.1 1667.2,1090.3 1645.6,1150 1709.1,1064.3 1728.2,1032.1 1655.9,1170.8 1605.8,1078.8 1483.4,1186.3 1604.5,1118.8 1508.3,1313.6 1594.8,1156.8 1576.2,1305.7 1536.8,1125.2 1603.9,1170.8 1482.6,1245.7 1651.5,1145.2 1527.5,1218 1733.5,1166.1 1403.3,1339.8 1721.5,1039.5 1729.5,1046.1 1570.2,1126 1463.9,1244 1559.5,1195 1512.6,1100.3 1652.7,1102.1 1684.6,1112.8 1581.6,1258.1 1763.8,1041.3 1691.3,895.4 1612.2,1062.8 1726.7,915.7 1544.8,1213.2 1580.3,1219.8 1689.5,1061.6 1740.5,1075.9 1676,955.8 1750.5,1161.2 1776.2,1083.3 1578.3,1237.8 1773,1059.9 1808.5,1006.9 1717.2,967.3 1752.2,1013.7 1744.8,1016.3 1554.9,1232.2 1709.7,1108.1 1711.4,1001.4 1538,1359.4 1491.5,1267.4 1691.1,1202.8 1692.7,1179.9 1713.8,1145.5 1552.5,1191.6 1721.7,1210 1654.7,1205.7 1470.2,1343.5 1626,1263.7 1572.4,1302.3 1535.5,1200.1 1631.2,1096.5 1587.4,1233.2 1690.4,1091.9 1552.5,1335.7 1537.9,1227.1 1573.8,1230.1 1727.8,1081 1746.8,1036.6 1785.5,1024.7 1573.6,1156.9 1708.2,1011.1 1644.6,1175.9 1782.2,1100.4 1710,1001.9 1703.1,1142 1723.1,1174.5 1553.4,1241.6 1619.5,1114 1543.1,1280.1 1660.6,1064.4 1559.6,1177.8 1469.8,1135.3 1515.1,1211.9 1639,1051.4 1755,1170.8 1793.1,1032.6 1749.3,1027.6 1703.3,929.1 1710.9,1061.9 1665.1,982.7 1670.9,1076.7 1569.5,1124.8 1717.5,1186.2 1519.9,1363.1 1726.7,1043.7 1527.2,1061.1 1622,1024.8 1686,1202 1746,1046.1 1469.4,1165.3 1722.4,1180.2 1583.2,1028.2 1505.6,1325.7 1615.8,1108.2 1498.1,1269.9 1778.6,1016.7 1470.6,1136 1649.2,1209 1618.7,1212.4 1845,979.2 1601.2,1124.9 1563.4,1243.5 1626.3,1132.9 1619.4,1166.5 1594.8,1054.7 1526.4,1235.3 1648.2,1093.5 1446.8,1061.2 1798.8,1036.1 1620,1260.1 1714.8,995.4 1754.1,1015.3 1550.6,1229.9 1535.4,1191.9 1722.2,1011.8 1438.4,1130.4 1706.2,1021 1609.3,1185.4 1735.1,1046 1696.1,1049.1 1813.4,1071.4 1633.6,1108.1 1643.2,1049.5 1800.6,965.9 1672,1140.5 1669.7,1121.8 1716.5,1083.6 1700.7,1189.3 1417.8,1111.1 1431.6,1348.2 1592.3,1082.4 1631.7,1216.5 1762.7,1164.6 1560.3,1229.5 1574.5,1287.2 1497.2,1148.7 1805.1,956.8 1569.6,1030.4 1574.3,1244.1 1799.6,957.1 1653,1236.4 1614.9,1010.1 1791.1,967.7 1340.9,1307.8 1596.8,1063.5 1793.3,1018.5 1579.6,1076.2 1674.4,929.2 1699.1,1035.2 1467.4,1200.2 1829.3,974.8 1475.3,1199 1590.2,1233.2 1764.8,1017.7 1698.8,1078.5 1544.4,1328.6 1591.6,1174.6 1836.7,1036.8 1488.9,1188.4 1624.3,1136 1561.6,1141.4 1629.5,1209.4 1545,1226.3 1680.9,1057 1602.5,1139.2 1412.4,1273.1 1605.7,1110.6 1781.5,1097.9 1691.2,1104.7 1641.1,1131.7 1641.7,1273.2 1786,1021.2 1685.4,1115.3 1588.4,1207.4 1536.7,1239.3 1541,1224.8 1636.5,1315.5 1707.6,1049.5 1601.2,975.4 1533.1,1334.9 1673,1218.4 1750.1,1145.1 1541.9,1114.7 1792.8,1100.8 1364.9,1217.6 1802.5,996.2 1677.4,1087.7 1499.1,1043.9 1630.7,1243.6 1520.3,1086.6 1624.6,1133.9 1474.8,1004.5 1457.3,1352 1812.4,1021.1 1555.3,1303.1 1524.4,970.2 1670.8,1126.8 1698.3,1266.1 1380,1368.5 1538.4,1138.4 1719.3,1022.6 1401.5,1320.5 1655,1201.4 1705.8,1139.9 1545.3,1232 1671.5,1141.9 1738.6,1059.4 1617.3,1214.9 1471.9,1281.2 1817.2,990.1 1658.5,1095.6 1337.1,1237.5 1500.4,1215.9 1525.6,1307.8 1590.8,1106 1372,1308.8 1569.4,1160.9 1700.7,1096 1549.7,1234 1594.4,1113.5 1573.6,1350.7 1746.5,1048.3 1464.5,1302.4 1555.1,1342.5 1700.2,1165.4 1441.8,1250.4 1568.1,1064.6 1570.9,1279.5 1576.3,1221.2 1620.5,1169.7 1714.4,946.5 1549.8,1355.7 1520.7,1131.7 1787.7,950 1698.3,1018.4 1578.9,1167.6 1789.1,1131.8 1751.3,1074 1478,1209.1 1644.1,1140.6 1682.7,1031.3 1546.4,1133.9 1792.4,1137.3 1434.5,1301.1 1633.7,1024 1403.1,1232.8 1470,1293.7 1680.9,1190.8 1636,1245.5 1589.1,1276.7 1584.8,1205.6 1525.9,1104.3 1530.6,1090.5 1756.5,1029.2 1676.2,1112.9 1401.5,1354.6 1785.2,957.3 1406,1151.6 1592.5,1214.3 1591.3,1040.1 1525,1364.5 1662.4,1214.4 1538.1,1225.4 1578.5,1199.3 1604,1154.1 1679.2,1167.1 1444.3,1253.3 1493.4,1182.7 1431.5,1205.5 1591.5,1182.7 1765.3,996.4 1624.1,1071.6 1636.3,1008.5 1486.3,1090.3 1738.5,1043.7 1643.1,911.3 1643.6,1175.5 1473.1,1320.3 1789.7,1029.8 1503,1104.7 1702.1,1171.6 1612.5,1033.2 1768.8,1021.1 1748.9,971.3 1657.7,1034 1849.2,959.8 1658.3,1163.7 1723.1,1154.6 1643.1,1167.3 1498,1093.7 1471,1154.1 1457.8,1321.3 1537,1221.3 1586.1,1127.7 1716.2,1056.6 1786.7,1112.8 1664.4,1093.7 1734.8,1027.7 1785.7,986.1 1826.2,1009 1482.7,1174.8 1721.3,1086.3 1604.2,1216.8 1529,1176.1 1495.3,941.7 1653.3,1180.8 1689,1193.7 1531.8,1174.3 1410,1240.8 1590.2,1102.6 1588,1201.2 1504,1140 1647.8,1058.3 1625.1,1114.1 1610.2,1139.7 1549.7,1213.2 1610.2,923.8 1752.5,1028.3 1475.5,1325.7 1581.3,1240.4 1712.6,1086.3 1507.6,1260.2 1598,1150.5 1642.6,979.2 1582.4,1186.6 1565.3,949.4 1790.5,1092.3 1545.3,1109.3 1527.1,1130.2 1734.7,1075.9 1566.3,1176.6 1383.6,1331.2 1660.2,1098.7 1701.8,1158 1461.6,1252 1786.8,1030.4 1741.8,951.1 1736.2,998.4 1586.7,1213.6 1579.8,1079.5 1733.2,1120 1708.8,974.1 1684.3,1084.7 1743.8,907.6 1643.5,1107.1 1480.7,984.5 1628.2,1151.2 1750.2,1040.9 1579.6,1173.1 1414.7,1315.9 1770.1,1087.4 1395.1,1275.3 1540,1143.1 1711.3,1081.4 1718.7,1115.4 1525.2,1147.9 1392.9,1349.1 1565.5,1173.7 1815.8,1017 1671.3,1145.2 1672.5,1065.5 1701.4,1089.5 1499.6,1348.1 1561,1149.8 1590.1,1215.7 1717.8,1135.2 1706.3,1205.9 1556.3,1135 1532.8,1155.7 1636,1168.9 1736.1,1018.6 1664.6,1123.2 1744.9,984.8 1686,1103.6 1616.4,1229.7 1489.5,1236.4 1708.2,1047 1735.4,993.8 1683.5,1173.3 1717.1,1083 1750.4,1057.6 1563.2,1163.1 1507.9,1218.1 1556.2,1197.2 1482.7,1299 1732.7,1052.4 1709.1,1052.8 1491.5,1303.9 1713.6,1141 1726.3,1048.7 1681,1090.2 1541.6,1352.5 1530,1287.7 1360.8,1231.5 1468,1248.7 1688.2,1153 1596,1262.9 1538.4,1190.3 1716.4,1203.3 1729.6,1052.5 1669.1,1040.2 1769.7,1019.5 1785.3,1004.2 1476.2,1178.7 1799.8,958.3 1480.7,1213.1 1794.7,1021.9 1738.7,1023.5 1456.7,1139.9 1545.6,1086.2 1640.4,1079.3 1476.8,1170.9 1580.5,1180 1470,1178.2 1779.1,1089.6 1461.7,1105.9 1802.3,1010.3 1777.1,1053 1800.5,1002.9 1473.6,1249 1508,1251.2 1498,1321.5 1540.2,1144.8 1663.4,1305.4 1477.2,1319.8 1814.1,930.4 1589,1257.7 1389.8,1347.3 1525,1256.7 1576.5,1159.3 1567.2,1081.9 1613.9,1101.5 1471.2,1260.3 1725.1,1150.9 1752.7,955.9 1471.1,1234.2 1839.9,999.4 1763.8,1014.9 1588.3,1047.8 1563.9,1228.7 1574.7,1201.4 1593.2,1036 1761.9,1091.7 1493.2,1251.4 1564.1,1311.1 1469.8,1247.7 1798.6,933.8 1467.6,1209.8 1548.1,1230 1485.9,1280.1 1524.5,1300.7 1532.1,1208.8 1723.3,1188.4 1555.4,1069 1763.9,1037.5 1696.9,1124.7 1796.5,995.5 1533.7,1280.9 1808.7,950.7 1722.9,1209.7 1738.7,1085.5 1743.7,1029.4 1797.6,1054.2 1583.9,1258.6 1610.5,1162.9 1702.8,1088.6 1508,1338.7 1833.6,975.4 1778.7,1067.9 1834.9,986.3 1597.8,1151.9 1690.2,1081.8 1691.9,1146.1 1469.7,1255.2 1562.8,1267.2 1731.9,1128.1 1592.7,1148.6 1477.5,1337.6 1503.8,1351.3 1675.9,1093.8 1612.4,1179.5 1858,961.8 1709.2,989.3 1482.6,1218.3 1750.4,1039.3 1502.6,1305.6 1820.4,1039.1 1654.8,1161 1712.4,1229.4 1627,1119.9 1776,1008 1785.9,1129.9 1770.9,1132.1 1489.9,1277 1446.7,1363.7 1540.7,1160.1 1758.5,1055 1599.3,1126.6 1510,1313.7 1651.4,1194.8 1779.4,1035.5 1474.5,1266.4 1585.6,1146.8 1727.7,1006.7 1570.7,1321.2 1819.2,1127.6 1716.8,1088.7 1560.5,1097.4 1796.7,1002.5 1526.7,1201.3 1786.3,1027.6 1517.6,1192.4 1546.1,1147.6 1711.8,965.2 1762,1065.2 1714.5,1068.3 1704.6,1013.8 1650.6,1029.3 1520.5,1227.9 1676.2,1098.6 1534.4,1201.3 1748.8,1049.2 1530.2,1006.3 1507.5,1144 1610,1088 1647.6,1092.3 1569.5,1195 1692.4,1057.7 1497.4,1238.5 1626.6,1133.9 1502.9,1215.6 1571.8,1358.4 1599.6,1144.2 1524.5,1203.8 1635.1,1141.2 1686.3,1062.3 1689.6,985.4 1686,1154.7 1613.7,1075 1593.7,1143 1695.2,1061 1661.4,1073.4 1575.1,1214.9 1649.3,1136.2 1602,1186.3 1636.7,1160.3 1668.7,1109 1528.5,1081.7 1795.5,1072.3 1794.3,968.4 1561.1,1136.4 1664.3,1149 1679.1,1075.1 1414.1,1087.2 1659.3,1168.1 1561.3,1172.8 1710.2,1055.3 1638.5,1168.4 1675,1093.3 1663.1,1169.8 1681.8,1048.4 1581.8,1194.5 1515.3,1345.4 1636.7,1124.3 1649.3,919.8 1669,1048.4 1633.2,1124 1544.2,1162 1741.9,1050.6 1831.9,1046.7 1540.4,1274.1 1671.4,1221.5 1451.8,1338.8 1412.9,1111.9 1574.4,1186.3 1825.3,1028.1 1486.1,1180.1 1657.9,1050.3 1542.4,1178.9 1769,1068.4 1628.9,1313.1 1728.3,1059.9 1826.2,1055.1 1585.9,1110.5 1684.2,1151.2 1659,1055.9 1750.7,1021.6 1612.7,1030 1623.6,1158 1718.1,1038.9 1587.2,1076.7 1391.9,1153.8 1618.9,1104.2 1639.1,1147 1695.1,1181 1585.3,1144.2 1667.5,1066.3 1656.1,1048.5 1562.5,1195.9 1801.4,1048.5 1790.4,987.1 1738.1,1126.4 1495.7,1254.4 1655.1,1047.9 1620.8,1060.4 1809.4,1043.8 1608.7,1152.4 1712.5,1087 1763.5,1055.9 1622.3,1243.8 1713.4,1042.3 1810,1013.4 1736,1061.4 1661.4,1101.3 1616.1,1148.7 1691.2,1044 1668.4,984.4 1764,1078.1 1545.4,1158.5 1788.7,954.9 1659.8,1155.2 1702.9,1041.4 1399.2,1295.9 1544.7,1217.7 1660.4,1133.4 1407.8,1049 1455.1,1105.5 1472.5,1183 1667.5,1045.8 1523.3,1322.1 1758.3,1072.2 1675.7,1049.2 1659.5,1028.2 1818,1011 1802.3,1072.7 1698.9,985.9 1759.7,1030.6 1658.3,1175.5 1565.2,1067.6 1793,893.7 1690.6,1081 1630.2,1212.6 1455.5,1371.8 1599.8,1289.6 1710.6,1087.7 1735.9,1141.2 1565.2,1178 1613.2,1084.1 1801.8,1015.3 1761.1,1009.6 1696.4,1020.7 1363.2,1372.6 1441.1,998.9 1581.6,1131.1 1718.8,1007.5 1467.4,1249.6 1700.4,936 1710.6,1273.4 1679.8,1152.2 1700.5,1043.4 1595.9,1176.6 1760.1,971.5 1776.3,1005.6 1765.2,1008.1 1737.4,994 1779.7,1035.4 1708.1,1031.8 1554.6,1099.1 1537.6,1259.4 1455.1,1190.6 1480.4,1200 1653.7,1177.2 1569.6,1345.6 1496.7,1317.7 1614.3,1155.6 1523.5,1192.2 1597.4,1183.1 1470.2,1190.4 1781.6,1016.9 1802.7,1051.3 1570.3,1122.4 1612.2,1138.3 1652.5,1120.6 1641.1,1038.3 1510.3,1034 1537,1272.5 1753,1079.3 1503.2,1123.9 1549.3,1128.7 1794.3,1046.6 1540.9,1303.1 1705.9,1055.9 1670.9,1020.5 1657.4,975.3 1472.6,1202.8 1716.9,1127.3 1713.3,1129.4 1545.9,1151.2 1732,1101.4 1585.1,1149.9 1679.2,1107 1568,1184.4 1729,1037.7 1809.4,995.6 1588.1,1243.8 1766.4,944.6 1754,1065.2 1343.1,1340 1649.3,1140.1 1704.7,1132.3 1506.1,1279.6 1731.7,997.4 1587.4,1126.4 1784.1,858.5 1495,1208.5 1708.9,969.3 1744.1,1114.1 1769.7,984.4 1672.7,1122.7 1584,1149 1739.7,1018 1660.2,1024.4 1534,1320.2 1492.9,1081.7 1480,1179.6 1533.6,1159.4 1739.5,1057.7 1580.1,1236.7 1602.3,942.1 1749.8,1096.6 1597.6,1262.5 1735.8,1091.1 1693.9,1144.4 1767.5,1038.4 1551.9,1204.3 1676.8,1032.2 1582.1,1173.4 1571.3,1210.8 1501.7,1181.4 1619.1,1082.3 1830.5,952.8 1589.5,1121.3 1531.2,1273.4 1537.9,1095.7 1791.6,1085.2 1798.9,1114 1789.9,996.5 1495.3,1272 1613.6,1056 1484.2,1309.4 1561.1,1222.1 1576.3,1102.8 1614,1143.3 1767.8,973.3 1667.3,1144.2 1471.1,1252 1751.4,1006.2 1720.2,1066.8 1785.9,1101.3 1512.7,1076 1656.9,1196.8 1472.7,1252.5 1527.6,1108.1 1586.3,1076.4 1569.2,1179.3 1553.6,1174.9 1779.2,997.2 1828.1,949.5 1696.4,1040.3 1598.9,1186 1467.8,1303.4 1567.6,1245.4 1751.4,1053.9 1674.1,1099.5 1734.6,1153.7 1563.3,1099.1 1661.1,1119.2 1553.7,1195.2 1681.8,1126.8 1767.8,1046.1 1588.7,1220.5 1503,1214.8 1561.4,1199.2 1676.7,991.3 1832,981.7 1712.6,991.5 1650.1,1005.9 1426,1353.3 1831.7,949.2 1713.7,1191 1687.1,1141.4 1717.9,1043.7 1638,1054.9 1654.9,1035.7 1732.8,1158.2 1516.6,1179.7 1812.9,1154.6 1658.5,1080.2 1538.7,1169.4 1682.6,1022.8 1584.3,1165.1 1651.2,1051.7 1575.3,1050.6 1483.1,1174.7 1616.6,970.4 1700.6,1081.4 1562,1315.8 1519.3,1283.1 1605.7,1227.3 1681,938.8 1631.7,942.7 1698.6,914.8 1572.3,1146.1 1674.1,1140.5 1511.4,1258.6 1494.6,1299.4 1443,985.7 1715.4,1051 1572.2,1224.1 1557.5,1103.7 1691.1,1082.2 1600.7,1084.4 1544.5,1318.4 1771.9,1039.9 1778.7,1107.7 1514,1217.5 1645,1182.9 1667.1,1040.7 1820.8,971.4 1550.1,1248.3 1506.3,1344.9 1742.5,1031 1503.3,1238.7 1712,970.1 1607.7,1201.3 1631.3,1030.4 1472.6,1243.6 1422.7,1270.7 1701.9,1160.6 1663,1161 1840.5,998.3 1506.7,1271.5 1694.8,1058.4 1655.4,1030.1 1757,1061.4 1382,1145 1729.8,987.9 1607.8,1250.3 1657.6,1182.8 1671.2,1176.2 1593.8,1175.8 1659.3,1019 1558.9,1259 1804.5,969.8 1646.9,1000.8 1655,1197.9 1731.8,1216.1 1612.7,1121.2 1697.5,1029.8 1793.1,1085.3 1751.5,1066 1801.8,1095.8 1630.1,1118.3 1581.4,998.3 1642.4,1095.7 1685.4,1114.1 1620,1137.8 1647.7,1138.3 1581.2,1333 1617.9,1196.7 1629.3,1043 1664.4,1124.7 1573.7,1292.2 1563.4,1244.2 1601.8,1182.8 1690.7,973.1 1359,1256.9 1585.1,1276.9 1576.8,1186.6 1711.9,993.6 1689.5,1027.7 1748.7,1040 1682.8,1007.2 1768.7,1071.6 1343.7,1213.9 1673,1096.9 1513.6,1242.2 1460.7,1367.9 1588,1220.6 1691.4,1067.7 1558.8,1223.2 1584.4,1003.6 1406.6,1337.2 1647.2,1217 1511.2,1224.5 1702.1,955.8 1730.3,1161.1 1586,1148.6 1686.8,1132.4 1349,1184.7 1764.6,1040 1769,1057.9 1568.6,1065.1 1643.1,1131.7 1691.9,1063.4 1718.7,1095.8 1633.4,1093.8 1584,1088.3 1771.6,1106 1650.8,1112.1 1471.4,1207.9 1630.6,1159.4 1832,984 1635.9,1089.9 1681.6,1111.6 1566.5,1073.7 1512.9,1167.9 1522.1,1209.6 1522.6,1229.1 1392.4,1327.3 1629,1082.3 1494.7,1179.8 1543.2,1293.7 1473.9,1282 1696.9,1046.9 1649.2,1130 1606.5,1065.2 1597,1193.8 1750.4,1058.7 1578.7,1104.8 1637.3,1125.1 1640.3,950.9 1653.4,985.2 1777.3,1015.6 1543.5,1171.9 1752.1,1008.8 1534.1,1200.1 1618.4,1107.3 1674.8,1048.4 1694.5,1067.6 1692.2,1035.5 1571.5,1280.5 1795.9,1012 1591.9,1186.4 1544.1,1178 1715.8,1056.5 1767.2,870.3 1493.8,1361.1 1547.8,1254.1 1534.4,1177.4 1467.3,1182.2 1697.8,1169.8 1701.7,1029.6 1774.4,1056.7 1709.7,1104 1538.8,1323.7 1590.6,1080.3 1637.9,1016 1857.4,1009.5 1764.8,1060.3 1570.7,1110.2 1620.5,1129.4 1779.7,1017.3 1740.7,993.9 1663,1128.7 1722.8,1072.2 1766.7,1043 1690.7,1225.8 1715.1,963.9 1621.9,1179.7 1733.2,1060.2 1428,1247.6 1691.3,1049.4 1559.3,1138.1 1869.4,997.1 1592.3,1220.1 1597.6,1176.7 1522.7,1326.6 1464.9,1371.3 1693.6,1029.5 1492.6,1135 1692,1135.8 1737.3,1000.2 1749.4,976.6 1615.9,1143.9 1485.9,1019.4 1549.2,1354.9 1553.5,1283.3 1598.8,1105.6 1767,962.7 1594.3,1309.8 1531.4,1305 1649.1,1041.9 1674.4,991.4 1589.9,1164.2 1433.9,1188.6 1554,1249.6 1719.6,1090.2 1644.4,981.6 1573.8,1125.2 1792,988.9 1588.6,1202.3 1568.1,1019.4 1695.5,1146 1447.4,1251.7 1607.6,1130.3 1715.4,1014 1643.5,1131.4 1697.8,991 1451.3,1157.8 1740.2,882.4 1471.4,1108 1418.5,1234.4 1538.6,1193.1 1631.4,1135.7 1452.2,1266.1 1492.8,1240.3 1772.1,1105.5 1763.5,1139.3 1529.3,1240.7 1555.6,1174.9 1583.9,1027.4 1586.1,1058.6 1488.5,1181.9 1589.3,1176.1 1485.2,1306.7 1487.1,1202.6 1640.9,1068.9 1723.9,986.9 1507.7,1189.9 1506.5,1137.9 1612.9,1211.2 1664.4,1058.5 1626.9,1167.7 1527.7,1264.4 1813.1,966.4 1795.5,1080.2 1765.5,1055.4 1587.8,1234.9 1590.1,1092.2 1834,1116.4 1457.4,1177 1522.3,1278.9 1705.4,1090.3 1621.5,1203.3 1706.9,937.9 1522.3,1195.7 1652.3,1054 1548.2,1220.2 1660.4,1142.4 1573.5,1275.6 1614.3,1146.2 1410.1,1178.8 1717.1,1148.3 1526.6,1159.6 1458.9,1221 1678,1136.2 1540.6,1082.8 1770.1,1015.9 1602.4,1105.8 1540.1,1328.1 1511.2,1189.1 1534.9,1268.7 1795,951.9 1603.9,1255.4 1627.4,1266.4 1549.7,1067.1 1543.4,1176.4 1645.6,1102.3 1701.3,966.2 1671,1101.2 1623,1270.2 1826.2,1023.3 1786.4,1028.5 1556.2,1123.5 1617.1,1168.1 1736.1,972.2 1591,1012.1 1553.1,1087.8 1628.2,1240.6 1746.3,1035.5 1524.1,1237.4 1704.4,1077.7 1776,956.2 1568.6,1246 1582.7,1122 1488.2,1370.1 1463.9,1237.5 1734.3,1104.4 1560.4,1276.5 1485.3,1242 1671.3,1082.4 1595,1170.3 1806.3,1033.6 1558.7,1290.2 1553.3,1088 1586.9,1115 1511.3,1204.6 1649.1,1155.9 1692,1081.8 1614.5,1162.2 1693.2,987.9 1590.6,1087.2 1606.6,1231.2 1471.5,1209.6 1515.4,1141.6 1750.1,988.8 1667.8,1024.7 1628.7,1258.7 1507.3,1183.3 1455.9,1237.5 1684.2,1149.3 1694.8,1095.9 1526.8,1213.4 1651.7,1073.2 1612.1,1153.9 1519.5,1337 1631.4,1011.7 1547.4,1154.2 1332,1304.9 1576.8,1207.5 1578.3,1098.5 1388,1164.3 1713.8,1105.5 1674.7,1193.4 1436.4,1253.6 1815.2,964.4 1630.2,1135.9 1505.1,1344.4 1584.7,994.1 1757.7,1041.4 1533.9,1199.4 1577,1159.6 1663.9,1211.6 1450.2,1229.2 1562,1216.2 1544.6,1082.5 1571.5,1168.4 1526.7,1039.6 1583.6,1200.5 1721.3,1055.7 1738.3,950.7 1607.2,1082.1 1571.7,1166 1516.1,1293.5 1655.1,1087.5 1732.7,982.9 1748.7,1045.8 1752.9,1083.9 1377.1,1287.9 1590.3,1185 1506.3,1049.6 1687.5,1009.8 1751.5,1028 1713.7,1100.4 1718,1071.6 1783,1121.9 1772.9,1139 1531.6,1093.9 1628,1066.1 1588,1252 1693.7,1113.8 1510.6,1287.3 1739.7,982.2 1619.5,1002 1774.7,1055.4 1721,1046.6 1460.4,1305.1 1760.2,1153.3 1635.3,1007.2 1661,1074.1 1527.9,1291.6 1667.8,975.6 1650.9,1108.6 1804.4,1065.9 1725.2,1119 1633.9,1138 1578.2,1158.8 1603,1098.6 1712.9,1057.2 1472.8,1277.2 1489.8,1009.5 1524.2,1202.3 1458.7,1202.2 1813.9,1024.9 1512.1,1265.5 1671.6,1154.4 1657.3,1082.9 1670.6,959.8 1565,1245.9 1811.2,1030.2 1771.9,1009.9 1537.2,1084 1793.8,1060.9 1737.3,1071.1 1608.6,1055.8 1614.2,1103.9 1547.2,1213.2 1374.4,1324.2 1639.5,1165.6 1445,1164.6 1480.8,1095.3 1630.7,995.9 1690.9,1115.6 1640.6,1109.5 1814,1035.5 1758,914.9 1562,1282.9 1516.9,1174.2 1711.9,1065.1 1592,1042.1 1517.5,1163.8 1654.5,1102.5 1709.2,1220 1626.2,1340.6 1720.6,986.4 1726.3,1085.2 1480,1305.7 1720.9,1012.5 1692.5,1145.3 1530.4,1309.3 1645.3,1040 1561.2,1231.7 1562.6,991.2 1572.1,1282.4 1544.1,1298.3 1529.2,1352.7 1545.2,1197.5 1485.1,1316 1688,1081.7 1722.6,1026.3 1733,1003.5 1532.5,1250.5 1531.5,1313.5 1540.2,1135.1 1779.8,920.9 1616.4,1306.2 1569.7,1161.7 1447.8,1260.3 1485.4,1304.3 1626.8,1152.5 1513.4,1255.8 1802.7,987.3 1504.1,1274.4 1639.4,1148.7 1730.9,1182.6 1613,1078.9 1749.4,960.5 1543.9,1273.1 1591.2,1210.6 1764,1073 1614,1122.3 1529.3,1102.3 1695.1,1196.5 1675.2,1179.7 1753.9,1137.5 1720,1206.6 1711.2,1142.1 1690.8,1115.1 1730.7,1090.5 1646.9,1044.3 1642.9,1068.6 1570.2,1181 1692,1116.1 1703.8,1054.2 1796.8,1053.6 1563.9,1151.6 1613.6,1250 1470.5,1253 1794,1063.6 1530.1,1205.1 1637.3,1046.8 1536.2,1249.4 1663.7,1051.2 1790.5,952.4 1693.2,1076.2 1651.1,1104.6 1631.9,1102.1 1572.9,1229.4 1577,1196 1658.2,1050 1561,1159.3 1596.2,1013.3 1483.3,1158.8 1813.1,1010 1734.5,1113.6 1584.6,1205.3 1595.1,1029.3 1637,1250.3 1652.6,1114.5 1704.5,1017.1 1413.3,1353.5 1718.7,1001.1 1642.4,1141.6 1706.2,934.3 1531.6,1234.7 1460.1,1202.3 1603.6,1186.4 1675,1080.1 1659.4,1166.8 1623.1,1153.8 1586.1,1126.7 1637.2,1212.5 1678.8,1208.2 1718.1,953.3 1608.1,1129.5 1781.8,983.5 1523.4,1288.1 1769.9,1139.9 1670.2,1074.9 1665.7,1152.3 1655.7,1233 1716.6,968.4 1570.5,1258.4 1745.1,1147.2 1593.3,1202.8 1652.6,1073.2 1578.9,1166 1724.2,1059.8 1796.6,1107.1 1535.3,1230.3 1623.9,1177.6 1497,1266.1 1625.1,1076 1625,1085.4 1635.3,1071.6 1553.1,1360.7 1587.5,1087.6 1825.3,1052.6 1462.7,1258.8 1540.4,1133 1713.3,1115 1458.7,1323.1 1604.3,1030.3 1827.6,940.8 1562.8,1187.5 1492.3,1147.5 1717.9,939.7 1575.2,1220.2 1557.1,1256.4 1768.2,1005.4 1556.8,1292.4 1577.3,1135.5 1811.7,1028.1 1542.2,1046 1523,1153.6 1647.3,1059.3 1546.9,1179 1756.7,1080.8 1833.5,1030 1695.7,1170.9 1682.8,1322.6 1601.9,1114.5 1662.3,1054.9 1418.7,1288.5 1772.2,1082.5 1535.5,1142.7 1503.2,1165.6 1739.6,1048.1 1715.9,1001.9 1439.2,1237.5 1749.1,1061 1679.7,1128.9 1612.7,1158.1 1723.6,1006.3 1482.9,1311.2 1787.3,1097.9 1739.6,1065.4 1648.2,1076 1824.1,1010.9 1719.8,1106.1 1707.6,1052.6 1552.2,1115.2 1684.7,1115.3 1712.7,1052.6 1632.6,1073.6 1670,1190.9 1463.6,1136.4 1582.9,1358.6 1576.6,1201.7 1783.7,1020.1 1659.6,1134.2 1705.2,1076.7 1762.7,1018.8 1843.7,1041.1 1676.9,1005.3 1392.1,1191.4 1577.6,1051.1 1730.5,1078.2 1474.2,1238.9 1648.1,1177.8 1785.8,911.7 1556.5,1312.9 1720.3,999.7 1783.2,883.9 1791.1,979.9 1742.6,1188.3 1494.6,1265.6 1686.2,1070.2 1681.4,969.7 1818.4,965.3 1530.2,1258.1 1690.9,1041.7 1604,1088.3 1676.1,1006.9 1760.3,1066.1 1412.4,1166.1 1686.4,1083.7 1639.5,1087 1551.4,1175.3 1583.5,1143 1666.8,1233.6 1532.1,1286.7 1763.7,1002.8 1461.3,1247.4 1550.9,1099.3 1509.3,1215.9 1738,1083.4 1475.6,1115.5 1499,1224.8 1772.6,990.8 1443.5,1201.3 1588.4,1156 1520.8,1325.7 1637,1148.7 1664,1085 1467.1,1196.6 1535.2,1302.5 1742.3,1057.6 1519.4,1059.1 1759.1,1009.7 1792.2,998.4 1435.6,1145 1613,1182.4 1546.9,1148.3 1624.6,1158.9 1678.1,1144.3 1543.6,1049.7 1764.6,1158.6 1826.6,1028.9 1763.7,1092.9 1618.5,1072 1729.3,1038.7 1560,1226.3 1745.5,1037.3 1693.5,1063.7 1654.6,1094.2 1679,1123.4 1641.6,1137.4 1814.1,1015.7 1621.9,1097.6 1567,1159.5 1744.5,1251.5 1630.3,1046 1796.8,917.5 1701.8,1042.5 1723.9,1060.3 1635,1055.8 1472.2,1333.9 1783.3,1074.3 1716.3,1120.5 1618,1213.3 1602.7,1127 1473.2,1274.4 1548.9,1264.8 1611.1,1017.4 1827.5,989.7 1502.3,1228.5 1592.2,1063.1 1799.8,993.6 1774.1,973.3 1700.1,1066 1464.8,1308.3 1692.9,1161.1 1610.1,1173.5 1476.6,1191.7 1748.4,1132.7 1774.9,1122.4 1770,958 1516.5,1258.1 1740.8,1177.5 1723.7,1080 1553.7,1097.4 1473.2,1151.3 1640.9,1114.6 1737.7,1057.6 1617,1006.1 1579.8,1232.5 1532.7,1317.1 1480.4,1222.9 1683.6,1014.9 1764.1,970.1 1607.2,1256.9 1789.7,994.7 1725,1127.8 1412.6,1107.5 1576.1,1038.3 1722.3,1014.6 1537.1,1338.3 1781.4,939.7 1614,1223.4 1557.8,1173.8 1600.9,1255.1 1551.7,1248.2 1540.2,1096.7 1744.3,947.6 1564.2,1265.2 1687.5,1015.4 1721.1,1117.5 1378.4,1322.7 1699.6,1069.5 1670.2,939.8 1670.3,1105.5 1684.2,981.7 1654.7,1113.8 1644.8,1111.5 1663.7,1013.8 1618.9,1272.3 1623.6,1235.7 1583,1208 1461.8,1336.2 1499.6,1056.4 1685.2,1056.5 1576.2,1204.2 1763.7,1015.1 1504.6,1238.9 1575.5,1129.6 1662.3,961.4 1601.8,1210.7 1836.7,979.5 1616.4,959.2 1785.9,1024.6 1627,1150.8 1567.2,1367.6 1801.3,1126.5 1541,1254.9 1730.7,1105.3 1759.9,1026.8 1728.1,928.7 1672.2,1081.5 1649.5,1075.8 1496.2,1055.4 1467.3,1180.2 1705.5,1132.7 1600.7,1207.9 1529.1,1033.7 1617.7,1096.9 1771.1,933.3 1537,1137.1 1692.8,1075.8 1715.9,1042.1 1575.1,1195.2 1637.7,1160.7 1738.6,1082.4 1707.6,960.4 1728.6,1010.8 1544.9,1351.9 1610.4,1132.3 1576.6,1203.5 1624.1,1094 1729,1064.8 1754.9,1067.8 1503.5,1274.3 1757.9,1022.5 1435.2,1279.7 1500,1343.8 1708.3,1092.6 1751.8,1073.6 1732.1,1038.9 1495.8,1282.8 1767.4,953.2 1635.4,1068.8 1488.2,1255.1 1764.2,1047.1 1726.1,1094.6 1650,1063.3 1373.9,1185.4 1714,1050.8 1816.5,975 1817.3,942.8 1531.3,1262.5 1732.4,1017 1504.9,1255.9 1552,1244.5 1380.4,1271.9 1677.9,1089 1612.7,998.7 1487.8,1307.3 1600.3,1026.4 1521.2,1119.1 1620,1037 1687.6,924.1 1843.4,980.4 1726.6,1065.8 1686.5,1071.8 1533.5,1143.8 1591.8,1133 1610.8,1198.6 1784.9,964.7 1782.3,923.5 1451.1,1272.3 1541.4,1061.6 1767,1066.6 1488.7,1245.6 1653.6,1151 1736.9,1070.2 1476.6,1329.3 1554.6,1168.9 1739.9,1033 1776.9,1071.1 1702,1123.4 1628.7,1149 1779.4,1092.6 1717.1,1074.5 1806.8,1073.1 1521.7,1271.6 1737.6,1081.2 1571.2,1050.5 1566,1211.5 1608,1111.7 1619.3,1185.8 1645.1,1148.5 1663.2,975.7 1640.5,1049.3 1762.2,1043.4 1711.7,1057.6 1705,1053.5 1577.7,1083.5 1485.9,1270.7 1578.3,1131.5 1607.5,1201.6 1563.2,1244.5 1638.9,1139.8 1726.6,1133.8 1654.5,1078.9 1693.1,1043.7 1462.3,1076.2 1469.9,1356.1 1507.8,1192.7 1564.3,1252.2 1720.5,1120.4 1710.6,994.3 1677.9,1085.1 1599.5,1247.5 1700,1066.1 1788.5,1026.1 1584.9,1284.8 1616.6,1105.9 1739.4,1093.6 1775.9,1024.2 1634.2,1147.9 1534.7,1234.4 1527.9,1241.1 1552.6,1202 1731,1010.7 1678.8,1097.3 1511.4,1248.3 1736,1160.3 1836.9,945.6 1670.1,1069.2 1680.9,1151.6 1581.4,1264.1 1563.3,1173.3 1759.1,1025 1819.1,1039.7 1583.4,1201.7 1593.9,985 1732.7,1065.8 1411,1326.3 1809.6,949.6 1684.7,1140.4 1470.1,1232.6 1613.6,1170.7 1437.6,1013.1 1752.8,939.8 1716.5,1121.7 1660,1185.6 1694.7,1059 1671.6,1129.4 1740.7,975.4 1678.2,1209.7 1571.1,984 1445.4,1286.4 1490.6,1265.5 1696.1,1106.6 1586.2,1070.3 1544.4,1125.4 1728.8,1014 1868.5,972.6 1668,1010.3 1660.9,1091.7 1540.1,1234.7 1764.4,1009.5 1544.3,1326.1 1544.6,1138.6 1529.7,1236.8 1718.5,1172.3 1662.2,1091.7 1831.8,1005.2 1678.8,1103 1665.7,1071.5 1502.6,1222.6 1694,1027.7 1552.6,1228.6 1732,1108.6 1614.8,1058.3 1422.3,1282.1 1559.4,1191.8 1713.7,964.7 1554.2,1187.4 1580.2,1093.5 1514.5,1173.2 1651.7,1165.1 1573.9,1093.7 1528.9,1332.3 1714.2,1100.8 1788.7,1077.2 1733,1110.9 1727.6,1092.8 1652.8,1154.5 1770.3,965.9 1607.4,1092 1591,1078.3 1730.7,1142 1757,1074.9 1771.8,1049.9 1570.4,1107.2 1842.4,1041.3 1573.8,1181.4 1584.3,1266.2 1467.5,1168.3 1695.6,1039.8 1510.2,1089 1520.5,1235.5 1588.4,1228.5 1589.1,1108.7 1614.2,1213.5 1699.6,1047.6 1696.7,1094.7 1565.2,1113.2 1699.9,1206.5 1719.8,1145.6 1639.8,1250.6 1464.7,1144.4 1703,1093.8 1677.2,1151.4 1626.5,1012.6 1782,972.1 1471.4,1341.6 1583.8,1128.3 1535.3,1306.5 1537.9,1274.5 1789.7,1043.6 1814.1,948.3 1483.6,1339.7 1641.8,1121.7 1533,1188.6 1608.9,1302.7 1750.2,1231.1 1669.2,1048.4 1535.8,1161.6 1715.8,1147.6 1789.9,954.9 1606.5,1073.2 1665.5,1150.3 1494.1,1172.8 1511.1,1362.1 1576,1136.1 1536.5,1292.2 1601.2,1201.8 1767.8,1095.1 1462.5,1289 1516.8,1214.2 1782.1,845.1 1493,1184.9 1557.8,1296.6 1479.3,1078.9 1800.6,1084.4 1788.4,997.7 1532.8,1151.7 1619.7,1073.3 1674.2,1165 1828.7,1032.6 1643.6,1085.4 1640.3,1112.9 1712.2,1066.6 1467.8,1225.4 1647.3,1076 1600.5,1057.9 1534.3,1247.1 1713.7,1094.3 1570,1177.7 1674.4,1011.6 1461.4,1272.3 1667.6,1120.3 1565.3,1273.4 1526.8,1120.9 1716.1,1005.3 1731,1188.1 1535.4,1205.3 1572.8,1270 1408.8,1310 1467.3,1307.2 1602.8,1008.7 1524.4,1223.2 1743.1,1028.5 1424.2,1293.5 1598.6,1099.3 1743.4,1007.2 1397.6,1303.8 1676,1216.1 1498.7,1309.8 1455.9,1300.1 1624.1,952.9 1636.3,1090.4 1534.2,1245.3 1639.2,1135.8 1637.3,1219.6 1628.8,1256.5 1742.8,975.5 1692.1,1151.5 1723.4,1124.8 1569.2,1166.3 1681.7,942.1 1533.4,1008.2 1534.9,1120.3 1516.1,1238.3 1796,907.2 1738.9,971.9 1591.5,1207.7 1652,1165.9 1555.5,1133.1 1581.9,1193.8 1511.1,1100.2 1703.4,1046.6 1693.5,1101.6 1765,1083.6 1794,1081.5 1565.9,1176.7 1462.8,1148.5 1568.1,1074.7 1760.8,1145 1782.8,1110.6 1686.9,1147.9 1759.5,1068 1508.3,1093.3 1617.7,1080.5 1822.4,940.8 1721.9,1172.1 1522.9,1251.9 1855.9,1028.7 1649.4,1198.3 1667.8,1062.4 1695.9,1099.4 1749.3,1058.3 1697.5,1065.1 1820.8,1000.2 1363.6,1351.1 1663.2,1146.4 1556.5,1186.3 1554.4,1219.1 1752.8,1113.2 1773.9,1062.3 1593,1170.5 1748.2,1086.8 1719.6,1047.2 1740.1,974.3 1712.6,1091.7 1395.4,1270.2 1627.6,1080.7 1431.9,1367.3 1733.1,1060.3 1736.2,971.8 1528.6,1268.7 1626.7,902.7 1525.1,1070.7 1672.8,1091.7 1661.9,1139.7 1587.1,1178.8 1691.8,1317 1743,952.1 1633,1148.2 1653.6,1174.1 1826.9,976.4 1744.9,1060.6 1598.7,1064.6 1758.1,1004.3 1592,1278.9 1661.5,1125.1 1729.6,1012.7 1759.5,1059.7 1637.9,1090.3 1613.2,1066.5 1650.5,1077.5 1617.6,1123.5 1545.5,1368 1815.6,1005.5 1605,1178.7 1789.7,1121.1 1749.1,1034.3 1782.3,1113 1808.2,977.6 1700.9,1123.4 1579,1274.2 1617.9,1183.9 1501.4,1240.1 1695.6,1109.4 1625.2,1122.4 1711.7,1085.5 1537.1,916.8 1805.8,1051.7 1749.5,1057 1804.3,1057 1768.2,1025.3 1812.3,1055 1653,1184.4 1653.4,1127.2 1705.2,1074.6 1611.1,1188.8 1616.6,1090.1 1765.6,972.2 1521.2,1211.7 1600.2,1053.4 1707.6,1106.8 1739.1,1020.1 1723.3,1245.4 1647,1096.2 1700.2,1127.3 1416.1,1342.8 1719.4,1215.3 1500.2,1272.1 1653.5,1069.2 1651.5,1087.3 1732.3,964.7 1795.9,990.8 1687.7,1132.9 1758.6,937 1558.8,1174 1517.2,1158.1 1523.8,1068.5 1424.2,1359.3 1725.3,950.7 1592,1261 1837.5,1057.9 1585.7,1116.2 1611.8,1146.9 1583.5,1235.9 1664.3,1100.2 1659.8,1117.5 1484.2,1312.5 1560.5,1323.7 1585.6,1160.8 1622.4,1032.6 1744.2,982.6 1755.8,908.2 1567,1179.4 1773.4,1105.8 1796.3,1046.6 1406.2,1176.4 1671.3,925.5 1749.9,1055 1601.2,1231.6 1812.4,952.9 1800.9,1016.4 1680.7,1068.1 1668.9,1104.7 1712.1,1050.7 1642.1,1117 1696.9,1147.9 1765.4,1030.3 1554.7,1087 1465.1,1269.9 1500.8,1116.6 1664.5,1078.7 1783.9,995.2 1777.4,1008.6 1644.3,1134.8 1707.4,1004.5 1717,1059.2 1686.1,1226.5 1693.1,952.3 1549.1,1257.4 1715.8,1097.8 1574.3,1134.3 1553.8,1085.4 1503.3,1324.9 1542.6,1095.6 1594.4,1312 1818.9,908.2 1573.4,1257.1 1753.9,1058.2 1676.4,1000.3 1689.6,1091.3 1769.1,1093.3 1420.1,1248.2 1525.8,1239.8 1460.8,1286.5 1791.2,974.1 1383.8,1252 1408.3,1355.2 1763.4,1117.1 1781.1,1167.8 1467.2,1343.5 1725.6,1085.8 1693.9,1005.8 1574.7,1139.5 1583.7,1168.3 1700.2,1119.9 1584.2,1167.5 1813.8,951.8 1460.8,1183.3 1655.5,1092.9 1603.1,1004.8 1517.5,1357.1 1687.6,923.9 1717.6,1040.1 1559.7,1119.9 1819.7,944.3 1536.4,1173.7 1780.3,977.4 1762.1,962.4 1680.8,1047.1 1788.8,1032.8 1677,1122.3 1692.4,1057.9 1462.8,1118.7 1703.6,1201.4 1521,1159.1 1698.1,1245.2 1541.8,1304.3 1679.1,1154.5 1502.9,1017.6 1734.3,988.6 1684,1249.2 1720.7,1018.1 1469.5,1308.6 1514.2,1233.6 1626.3,1203.7 1533.9,1221.9 1651.9,1103.2 1650.5,1180.6 1559.4,1121.5 1728.9,1167.4 1550,1126.6 1641.9,1039.5 1684.7,1061.4 1594.5,990.1 1718.1,1136 1705.4,1097.3 1538.5,1178.3 1566.9,1104.6 1696.2,1124.7 1603.6,1120.1 1532.1,1114.4 1604.9,1230.6 1829.6,1045.1 1557.1,1234.8 1643.1,1198.1 1499.5,1222.7 1724.2,953.8 1415.3,1372 1635.5,1052.8 1452.5,1136.6 1770.3,1061.2 1531.6,1319.2 1578.4,1179.7 1535.7,1119.2 1690.6,1104 1675.6,1094 1546.9,1281.6 1723.9,1192.9 1744.1,1172.3 1587.2,1117.7 1498.4,1346.9 1789.8,1094.7 1486.6,1191.9 1581.7,1096.8 1644.7,1091.7 1759.7,1039.8 1644.8,1141.8 1540.2,1337.1 1663.2,1048.5 1645.3,1185.8 1351.6,1227.3 1487,1275.7 1707.2,1157.9 1421.6,1201.3 1633.9,1172.8 1786.9,972.2 1696.6,1041 1494.3,1207.5 1786.8,1024.6 1727.8,1079.8 1577.9,1002.3 1793.2,1025.7 1706.8,1190.6 1697.4,1154.7 1557,1049.6 1665.9,998.3 1705.6,1161.9 1665.9,1155.7 1567.2,1174.6 1503.7,1158.5 1457.5,1221.1 1770.8,1052.6 1776.7,970.7 1800.6,875.3 1470.9,1196.4 1796.8,1056.6 1509.9,1243 1633.4,1111.8 1492.4,1133.7 1515.7,1357 1621.8,1114.5 1569.1,1196.7 1620.4,963 1584,1142.5 1796.7,1046.5 1622.8,1200.3 1805.5,909.8 1815.6,1006.5 1597.1,1147.5 1510.7,1212.5 1683.2,1052.7 1480.3,1261.8 1688.4,1068.7 1561.9,1279.1 1593.6,1183.3 1642,1129.3 1717.4,1112.1 1594.1,1132.7 1692.9,1077.5 1766.6,910.1 1594.4,1024.3 1674.5,1081.4 1562.9,1147.1 1701.8,938.2 1481.3,1259.7 1728.8,1113.2 1690.5,1089.3 1683.1,1029.3 1398.8,1229.8 1636.2,1004.2 1492.1,1323.3 1699.8,1199.8 1745.3,1130.2 1570.5,1135.9 1838.8,967.3 1478.4,1350.5 1712.2,1063.5 1790.5,1048.7 1783.6,1074.9 1700.5,1166 1726.6,1152.1 1685.1,1097.5 1590.7,1166.1 1753.6,991.9 1486.6,1310.5 1734.6,960 1814.8,1020.5 1647,1096.9 1414.2,1357 1692.7,1153.1 1672.1,1086.4 1592.2,1206.2 1617.1,1174.7 1805.1,1053.1 1705.4,1144.3 1628.2,1199.4 1715.6,1083.9 1711.7,1079.4 1785.7,1111.1 1552.2,1184.3 1627,1035.1 1590.6,1270.6 1769.5,1181.4 1804.3,1066.8 1589.2,1186.1 1670,1319 1657.4,1005.9 1520.7,1294.9 1588.9,1212.5 1653.6,1043.6 1510.7,1299.6 1528.6,1247.3 1606.5,939.8 1517.6,1355.6 1639.5,1146 1795.4,1074.7 1417.5,1217.7 1630.5,1127.3 1776.9,985.1 1492.7,1343.8 1596.8,1124.5 1661.8,1137.2 1705.8,1097.2 1721,1146.2 1749.2,1129.4 1728.6,1100.2 1728.4,1015.5 1725,1103.5 1773.2,1117.4 1482.7,1346.2 1518,1162.2 1692.4,965 1714.4,1091.8 1567.4,1182.7 1845.5,907.5 1675.1,1044 1368.4,1320.4 1693,1163.7 1826.6,1024.8 1466,1327.3 1621.3,1142 1662.7,1109.1 1620.2,1134.8 1731.5,1059.1 1604.1,1025.2 1490.2,1195.4 1818.5,1001.1 1658.4,1109.3 1766.5,933.5 1555.5,1180.2 1698.9,1054.1 1501.7,1333.6 1737.9,1113.4 1533.3,993.5 1614.8,1015.6 1576.5,1232.9 1742,1122.5 1413.3,1170.7 1484.2,1253 1654.5,1098.3 1595,1224.4 1497.3,1272.2 1810.4,986.9 1598.9,1082 1654.5,1017.2 1620.2,1179.4 1605.4,1211.1 1505.9,1109.6 1669.8,1089.4 1562,1249 1630.9,1117.2 1743.1,992.1 1697,1095.3 1487.6,1294.6 1572.9,1105.8 1677.1,1120.6 1808.7,1015.6 1535.9,1212.2 1593.5,1219 1604,1136.9 1658.9,983.3 1591,1177.1 1679.4,1005.6 1515.7,1272.8 1625.4,1123.5 1731.9,1099.1 1586.9,1258.6 1466.8,1222.7 1646.3,1044.5 1574.3,1125.9 1531.3,1105.9 1486.2,1207.5 1548.7,1168 1415.9,1363.1 1506.9,1254 1466,1303.9 1704.7,1051.5 1668.8,1097.6 1784.4,988.6 1607.2,1083.4 1621.5,1110.7 1694.8,1078.4 1747.8,1019.4 1445,1271.9 1752.6,892.7 1799.5,1029.5 1694.6,1126.7 1620.2,1088.3 1733.3,1159.7 1529.5,1139.7 1600.2,1092.9 1616.8,1222.4 1597.1,1199.7 1671.7,1223.5 1505.9,1328.4 1662,1324.9 1559.5,1294.4 1602.7,1149.5 1717.9,1060 1715.8,1106.3 1618.9,1039.7 1779.2,1034.3 1578.1,1117.5 1835.4,1004.5 1663.4,992 1518.1,1314.1 1675.1,1044.6 1675.2,995.5 1538.1,1283.1 1539.2,1005 1601.1,1252.3 1350.5,1190.2 1400.3,1243.4 1652,1163.1 1560.8,1128.8 1723.1,1054.8 1677.8,1227.1 1515.3,1265 1485.2,1346.7 1536.3,1238.9 1525.4,1319 1639.9,1161.5 1650.1,1013.4 1540,1325.2 1587.9,1192.6 1670.2,1016.4 1572.9,1168.8 1455.7,1335.3 1727.6,1096.6 1464,1292.5 1621.1,1124.4 1693.4,1010.5 1587.1,1334.9 1642.9,1050.4 1598.1,1110.3 1506.8,1371.2 1566.3,1209.7 1599.8,1239.4 1781.9,1040.1 1765.3,1000.7 1586.9,1172.3 1723.3,1020.4 1526.1,1222.4 1719.2,1106.4 1631.8,1179.3 1696.7,934.9 1784,999 1835.9,960.1 1734,1039 1522.4,1021.2 1673.7,1066 1643.8,1137.6 1453.2,1216 1496.5,1244.6 1748.6,1050 1621,1269.2 1758.9,1046.2 1803.9,1056.4 1541.3,1204.7 1769.9,1054 1768.6,1007.2 1631.9,1029.4 1627.7,1209.4 1464.8,1188.8 1702.7,1103.3 1525.1,1282.2 1744.3,1007.1 1665.6,1007.9 1570.8,1119.5 1576.8,1275.6 1626.9,1113.8 1656.8,1093.5 1561.2,1202.8 1812.3,1015.3 1627.8,1266.9 1584.5,1201.6 1793.5,981.2 1750.1,1013.3 1746.1,1129.5 1653,1196.7 1629.2,1161 1635.2,1171.4 1623.8,1018.7 1607.9,1094.4 1723.3,998.7 1639.5,1094.6 1679.5,1060.8 1655.9,1102.9 1499.1,1272.8 1751.2,1069.2 1660.1,1072.9 1692.9,959.7 1713,995.2 1487.5,1284.7 1721.5,1122.9 1667.3,1068.1 1728.6,1141.1 1469.7,1155.4 1730.8,1039.6 1524,1248.7 1562,1113.1 1469.7,1102.5 1624.9,1156.2 1699.1,1033.9 1482.8,1327.3 1539.3,1267.6 1864.5,1001 1826.6,928.1 1636.4,1090.4 1676.6,1081.7 1461.9,1329.2 1781.3,1027.1 1585.6,1177.8 1614.9,1242.7 1721.5,962.1 1778.9,1022.1 1521.5,1179.4 1745.4,985.3 1542.9,1295.3 1753.8,927.8 1815.6,954.9 1707.1,1088 1638.1,1264.7 1656.2,1092.5 1576.7,1188.7 1751.7,1135.7 1569.6,1116 1627.2,1140.1 1759.7,1040.9 1488.6,1270.8 1761.4,1066.9 1545.8,1203.4 1565.9,1199.5 1708.7,1187.6 1632.5,1199 1746.5,1033.2 1615.8,1205.7 1636.3,1095.3 1405.1,1258.6 1802.3,1072.9 1671.3,1105.5 1670.7,1246.3 1735.2,1185.1 1556.1,1276 1651.2,1072.5 1641.4,981.3 1421.1,1168.8 1544.8,1120.5 1573.3,1277.3 1612.6,1210.2 1443.8,1355.6 1583.8,1130.6 1786.2,989.7 1663.5,1166.9 1578.7,1199.9 1740.4,1096.2 1767.7,1082.7 1674,1026.8 1554.3,1005.8 1498.4,1072.1 1688.6,1170.8 1476.1,1359.6 1695,1005.1 1482.5,1102.7 1491.1,1350 1706,1297.1 1490.9,1282.1 1481.9,1329.9 1693.3,1094.6 1506.4,1195.8 1747.6,1027.9 1696.7,1158.5 1446,1172.2 1511.1,1071.4 1731.2,1006.5 1579,1070.5 1510.9,1156.7 1850.4,888 1623,1101.2 1404.1,1225.3 1575.9,1133.1 1673.6,1077 1617.4,1108.7 1703.9,1055.3 1799.4,1110 1702.4,1004.9 1418.1,1284.4 1624.9,983.7 1675.8,1042.2 1765.8,1068.5 1687.1,1182.8 1561.4,1340.3 1530.3,1245.4 1486.3,1353.7 1540.5,1205.1 1680.8,997.7 1622.3,1083.4 1782.2,1053.6 1813.6,991.2 1614.1,1005.3 1598.4,1097.7 1596.6,1098.5 1671.1,1129.9 1538.1,1296.8 1777.7,1019.8 1737.7,897.4 1638.1,1150.5 1798.3,1031.6 1561.2,1288.9 1577,1122.5 1688.5,1143.9 1417.4,1346.9 1752.4,1095.2 1782.4,1113.3 1516.9,1185.5 1721.4,1011.1 1786.1,1156.8 1521.5,1164.4 1778.7,976.9 1791.5,939.7 1703.4,1086.5 1610.2,979.2 1531.2,1209.3 1634.1,1017.1 1424.5,1182 1694.5,1026.4 1577.7,1229.1 1456.6,1299.2 1619.8,1196.4 1574.5,1237.4 1488.2,1258.1 1766,1118.9 1783.1,1026.6 1504.4,1286 1710.8,944.6 1795.5,1187.5 1642.2,1247.6 1567.4,1187.2 1537.7,1236.8 1785.9,1064.7 1783,1026.9 1656.2,1166.5 1373.2,1361.3 1584.7,1188 1552.3,1238.6 1493.1,1237.2 1554,1307.7 1704.5,1013.9 1766.4,1009 1686.9,1238.6 1742.6,1022.7 1515.1,1186.4 1543.5,1263.2 1495.9,1322.9 1519,1225 1680.5,1149.6 1695.7,1206.9 1557.9,1213.6 1556.9,1170.8 1732.8,1066.4 1628.9,1277 1768.9,1089.8 1683.9,1109.5 1660.4,1034.5 1756.3,1148.1 1683.6,1066.2 1734,1087.4 1731.4,1173.1 1561.6,1236.1 1554.9,1196 1818.3,1091.2 1515.1,1122.9 1756.6,1077.2 1725.8,1136.9 1577.7,1153.3 1715.1,1197.6 1559.4,1340.3 1695.4,1037.4 1520.1,1285.4 1707.3,1260.2 1833.2,950.8 1544.3,1189 1667.6,1124.5 1673.5,1114.3 1648.8,1161.5 1554.9,1173.4 1590.5,1055.5 1725.7,1070.3 1861.5,974.8 1466.4,1266 1483.7,1288.5 1629.6,1161.8 1704.3,1045.5 1729.5,1131.1 1746.5,915.5 1604.3,1222.2 1672,998.6 1424.2,1324 1541.3,1263 1625.8,1221.1 1572.7,1215.5 1626.2,936.2 1578.3,1320.5 1587.7,1154 1796,1052 1498.1,1209.7 1558.3,1168.3 1711.6,1033.7 1607.9,1349.2 1629.3,1101.6 1830.3,957.9 1581.7,1256.6 1717.5,1009.4 1826,1143.6 1638.8,1053.1 1599.4,1119.5 1673.7,1033.8 1585.4,1075.8 1434.6,1305.8 1601.8,1194.6 1467.8,1206.4 1674.3,1041.5 1690.6,1203.6 1754.3,1130.8 1505.8,962.9 1801.3,992.6 1731.8,1149.4 1701.3,963.6 1514.5,1082.2 1618.1,1172.6 1577.4,1144.8 1647.6,1121.4 1579.1,1272.9 1763.4,1035.1 1723,1197.1 1534.4,1144.3 1681.5,1086.5 1775,1038.5 1590.6,1301.5 1493,1297.1 1601.3,1141.5 1675.5,950.8 1418.7,1293.5 1736.5,1022.7 1484.3,1332.6 1806.4,1069.4 1745.4,1072.6 1648.2,1131.6 1608.7,1174.6 1582.8,1127.8 1562.7,1209.9 1635.7,1121.4 1658.9,1022.4 1627,1081.8 1613.3,1128 1605.9,1174.5 1758.1,1041.5 1771.1,875.7 1600.6,1186.7 1513.2,1157.3 1773.2,1069 1548.8,1199.2 1561.4,1127.9 1632.9,1120.2 1593.5,1061.9 1563.2,1160.5 1652.2,1081.8 1472.2,1292.6 1796.4,1023.3 1474,1127.5 1669.4,1150.3 1669.8,1216.7 1537.8,1094.6 1750.6,982.3 1770.2,1021.3 1577.3,1276.6 1545.4,1060 1667.3,1047.3 1661.4,1130.4 1489.5,1187 1725,1138.4 1545.3,1195.8 1417.3,1211.4 1792.6,1090.7 1590.6,1092.7 1716.8,1007.6 1654.8,1070.2 1548.5,1340.7 1615.5,1109.5 1729.6,1113.6 1487.8,1220.4 1550,1124.6 1551.8,1124.2 1720.2,1127.5 1608.5,1183.5 1608.5,1072.8 1650.6,1015.4 1824.7,933.4 1568.3,1157.3 1667.2,1051.7 1444.1,1344.5 1607.8,1189.1 1480,1170.4 1552.9,1182.1 1687.9,1048.9 1554.6,1094.2 1685.1,1063.4 1576.1,1366.7 1634.5,1073.7 1605,1193.4 1558.7,1202.3 1481.4,1179.6 1516.5,1118.2 1474.4,1119.8 1763.5,1047.9 1598.3,1205.1 1597.9,1042.9 1641.2,1112.1 1593.2,1111.9 1595.3,1088.9 1710.8,1132.9 1728.7,1032.7 1705.6,1127.3 1681.8,1089.2 1490.1,1122.9 1786.9,931.1 1595.9,988.1 1518.2,1157.7 1576.7,1098.4 1562.7,1224.9 1665.8,1141.6 1824.6,1025.2 1658.4,1036.6 1636.7,1106.8 1589.2,1248.2 1605.8,1216.9 1763,946.1 1568.5,910.2 1792.2,1100.6 1666.8,1086 1555.8,1217 1817.4,975.7 1706.7,1018.2 1682,1078.9 1640,1109.7 1582.8,1149 1673.4,1139.4 1660,954.6 1767,978.4 1458.4,1279.1 1745.7,1097.8 1572.8,1170.7 1612,1187 1420.9,1195.1 1738.7,1043.1 1481.8,1306.7 1577.5,1221.8 1513,1302.8 1685.3,999.5 1599.3,1056.8 1829.8,1073.5 1576.9,1269.6 1591,1160.2 1771.8,973.1 1718.4,1173.2 1760.7,1040.2 1716.5,1196.5 1538.2,1227.1 1525.8,1280.9 1546.5,1187.1 1509.9,1061.9 1484.9,1186 1748,994 1621.7,983.3 1536.5,1163.1 1537.9,1171.2 1597.9,1200.3 1631.9,1137.3 1746.1,1038.4 1739.2,1152.6 1461.6,1261.4 1681.8,1094.3 1675.1,1109.7 1514.7,1344.2 1768.6,1133.8 1735.7,1086.3 1719.4,1094.2 1634.1,1210.2 1574.6,1117.4 1707,968.7 1727,1005.9 1751.6,1144.3 1513.1,1302.7 1648.5,1072.3 1554.6,1209.8 1747.2,1074.4 1684.8,1131.3 1598.2,1202.4 1781.4,974.8 1548.1,1126.7 1800.7,1154.1 1695.8,1111.4 1532.1,1188.8 1689.9,1141.5 1525.7,1352.7 1552.3,1153.5 1616.7,1064 1649.7,1157.5 1821.7,1028.5 1457,1351.2 1556.5,1130.9 1538.8,1163.6 1751.1,1131 1580.4,1128.9 1683.4,998.7 1608.5,1125.2 1638,1125.3 1490.8,1229.6 1567.2,1202.4 1495.3,1198.8 1591.5,1051.3 1856.8,975.8 1524.4,1239.8 1617.2,1009.3 1731.1,1142.7 1689.2,1186.8 1643.3,1242.9 1719,1147 1526.3,1298.3 1591.3,1148.7 1743.5,1042.1 1740.4,1111.2 1523,1102.6 1561.7,1316.3 1657.3,1160.4 1515.1,1257.8 1587.5,1259.5 1700.1,1082.7 1644.2,1214.8 1689.9,1120.4 1548.6,1124.6 1757.1,1063.4 1675.1,1047.3 1687.9,1177 1539.5,1244.2 1544.3,1357.2 1692.6,969.4 1536.4,1099.5 1826.4,1052.9 1616.8,979.9 1690.5,1174.4 1670.2,996.5 1646.7,1001.5 1806,936 1503.7,1224.8 1801.3,959.6 1504,1334.4 1555.8,1182.9 1645.8,1101.9 1733.3,1008.6 1536.7,1227.6 1479.7,1260.9 1510.3,1121.5 1729.5,903.8 1509.9,1150.7 1640.5,1125.5 1668,916.7 1593.4,1189 1833.1,1016.4 1618.8,1170.6 1612.6,1299.6 1697.3,1228.1 1724.1,1128.2 1773.5,1053.7 1689.1,1035.2 1728.3,1103.9 1515,1341.1 1484.5,1253.2 1609.3,1272.8 1818.2,930.7 1702.1,1178.1 1527.7,1290.5 1794.2,1004.6 1600.1,1209 1559.2,1324.9 1669.7,1319.7 1759.9,1059.1 1563.6,1105.4 1787.1,1058.2 1514.2,1205.1 1830.6,1037 1602.3,1074.2 1607.8,1145.9 1577,1276.3 1609.2,1074.3 1485.2,1257.4 1682.3,1042.5 1730.6,1030 1704.6,985.6 1649.5,1079.9 1672.6,1146.9 1786.3,1051 1601.7,1148.4 1460.2,1314.8 1617.7,1093.7 1552,1148.4 1622.8,1119.3 1472.6,1201.3 1529.9,1097.2 1661.9,982.3 1607.9,1113.2 1571.1,1105.7 1731.7,1039.3 1675.8,1154.7 1634.9,908.8 1566.5,1178 1673.2,988.7 1580.3,1130.1 1597.5,980.3 1682.3,1224.2 1585.8,1190.2 1551.1,1236.6 1540.7,1213.9 1826.5,989.2 1578.7,948.2 1509.8,1123.7 1455.5,1323.9 1440.2,1263.5 1563,1127.9 1464.1,1078.5 1555.4,1138 1671.5,1021.7 1785.8,1087.9 1458.8,1188.7 1581.1,1273.7 1614.9,1089.6 1676.5,1070.2 1701.3,1081.2 1683.7,1173.9 1498.8,1254.1 1649.4,1074.9 1591.5,1108 1742.1,1131.8 1695.6,1039.2 1505.8,1157.4 1762.1,1012.8 1685.7,929.6 1677.1,993.1 1690.4,1126.1 1529.3,1176.4 1674.2,971.9 1553.2,1094.6 1836.4,980.3 1567.4,1227.6 1575.4,1142.4 1780.4,920.7 1748,1074.4 1618.9,1063.9 1628.2,998 1752.8,1062.4 1700.8,1109.1 1501.9,1170.4 1725.2,976.6 1745.3,929.3 1601.9,1319.7 1712.3,1015.4 1555.3,1293.7 1655.3,1113.2 1694.9,931.8 1412.9,1367.9 1801.2,857.4 1716,1143.5 1730.3,1112.7 1777.7,954.9 1561.4,1033.9 1662.4,1042.9 1528.5,1257.4 1726.7,1010.5 1790,959.3 1632.9,1174.5 1732.9,1117.5 1778.7,1124.5 1722.7,981.8 1707.6,967 1744,1029.1 1733.5,955.8 1784.1,1039.4 1480.7,1164.3 1738.5,1156.1 1520.5,1174.1 1770.5,1057.1 1529.2,1232.7 1716.5,1215.9 1745,1119.2 1687.6,1018.1 1687.9,1183.6 1485.7,1231.2 1736.3,1008.3 1570.5,1113.6 1471.5,1349.3 1606,1240.9 1474.3,1232.3 1680.8,1079.8 1496.9,1176.8 1464.6,1122.9 1631.2,1136.6 1550.4,1348.5 1741.5,984.6 1701.6,1114.8 1744.8,1142 1644.9,1097.7 1540.8,1079.5 1742,1143.5 1462,1208.1 1543.3,889.1 1568.3,1246.8 1506.1,1128.1 1579.3,1130.1 1551.5,1199.6 1711.2,1138.6 1832.5,1006.4 1745.2,1072.1 1798.2,1006.7 1533.7,1114.8 1528.6,1261.5 1528.2,1227.6 1779.3,966.4 1498.1,1087.9 1566.8,1114.4 1534.3,1107.3 1704.5,1139.8 1498.6,1185.5 1502.7,1344.7 1788.1,1003.3 1469.4,1342 1514.7,1141 1827.6,957.7 1724.8,980 1479.8,1279.3 1660.1,1141 1582.4,1150 1656.5,1121.2 1520.5,1306.4 1812.1,1021.8 1609,1190.4 1673.5,1054.3 1623.7,1111.3 1618,966.6 1458.3,1192 1550,1200.2 1735.9,1184.1 1558.9,1184.5 1701.2,1053.8 1476.9,1185.8 1549,1156.5 1605.1,1186.4 1687.9,998.3 1520.6,1148.9 1773.8,955.9 1666.1,1236 1810.8,1008.3 1654.4,1070.3 1665.2,1184.7 1630.6,1179.9 1547,1222.3 1410.7,1324.5 1625.9,1205.9 1671.9,1132.4 1721.4,1113.4 1540.7,1094.8 1623.7,1147.8 1711.5,1123 1782.7,977.1 1774.4,1064.5 1497.3,1254.2 1700.2,1127.4 1466.8,1328.4 1657.2,1119.5 1455.4,1205.6 1329.7,1194.1 1635.8,1174.5 1422.9,1319.2 1476,1227.7 1502,1004 1686.2,1119 1485.4,1133 1680.4,1072.8 1550.7,1151.3 1525.9,1269.9 1643.8,1172.5 1627.6,1040.7 1592.2,1226.8 1587.4,1089.1 1775.6,1157.9 1677,1109.8 1561.3,1114.8 1771.1,1057.7 1760.4,1053.5 1574.1,1190.2 1553.9,1293 1498.9,1320.2 1473.1,1085.2 1580.7,1137.6 1531.4,1262.2 1701.8,1084.2 1719.6,1083.3 1571.6,1062.1 1704.1,1141.1 1598.2,1122.4 1576.3,1227.4 1656.1,1102.8 1588.9,1165.4 1571.7,1270.7 1753.7,992.4 1769.6,998.8 1633.2,1161.6 1717,1193.4 1593.5,1188.1 1620.5,1170.6 1587.2,1143.3 1792.5,1017 1643.2,1218.8 1694,1008.1 1629.5,1109.9 1582.3,1125.2 1643.9,1031.4 1582.6,1205.9 1743.1,974.8 1460.6,1328.7 1546.1,1037.5 1485,1287.5 1635.9,1175.9 1489.5,1019.1 1624.2,1220 1598.8,1222 1845.7,959.4 1584.2,1035.9 1599.7,1225.2 1697.9,1201.7 1800.2,1025.2 1687.2,1074.9 1682.6,1210.4 1504,1164.9 1770,943.2 1443.1,1336.3 1760.9,1096.4 1530.6,1136 1734.6,928.1 1615.2,1194.8 1709.5,1159.7 1567.2,987.1 1626.9,1124.9 1351.7,1340.3 1634.2,1078.1 1556,1285.1 1740.9,1130.9 1668.5,1041.5 1638.6,1163.4 1829.9,942.1 1643.8,1087.2 1660.3,1007 1610.4,1063.3 1724.7,1028.2 1805.8,1048.6 1705.6,993.3 1626.5,1108.6 1586,1132.8 1664,1206.3 1818.5,975.3 1696.2,1069.5 1758.6,1104.6 1705.7,1126.1 1694.7,1171.8 1522.5,1276.7 1787.4,967 1699,972.2 1631.5,1190.8 1524.2,1069.3 1594.2,1155.7 1475.4,1053.5 1539,1280.5 1735.3,1003.7 1600,1204.4 1556.9,1285.3 1750.4,1049.4 1704.8,1095.9 1571.2,1186 1596.2,1090.2 1774.4,1069.6 1623.7,1084.9 1635.1,1072 1584.4,1217.2 1689.6,1111.5 1536,1178.6 1478.8,1305.4 1697.5,1025.4 1613.4,1099.1 1727.3,1201.4 1823.4,920.6 1484.4,1215.5 1481.5,1160.1 1550.5,1196.9 1556.1,1192.8 1683.4,1104.4 1516.5,1345.7 1580.4,1351.9 1613.8,1118.7 1727.2,1104.2 1817.6,924.7 1636,1174.7 1452.9,1201.4 1471,1091.7 1607.2,1091.8 1606.4,1139.4 1823.6,1048.9 1725,1021.2 1725.3,1087.1 1539.2,1135.6 1827.1,1028 1632.7,1083.7 1708.8,1022.8 1752.3,1069.4 1554.5,1360.8 1720.6,1149.1 1598.9,1122.7 1718.5,1074 1634,1070.7 1798.8,1003.4 1728.3,1051.6 1605.8,1021.2 1544.8,1204.7 1651.2,1070.9 1527.8,1127.7 1537.7,1259.5 1501.2,1307.8 1738.6,1114.3 1674.6,1118.7 1803.6,1023.7 1429.6,1129.5 1535.6,1334.3 1476.5,1230.1 1765.4,974.7 1557.4,1292.8 1708.2,1025.8 1428.4,1306.7 1515,1250.6 1531.6,1232.9 1637.5,1185 1709.4,1054.5 1532,1159.3 1423.6,1294.2 1471.5,1157.9 1544.3,1328.2 1622.9,1061 1713.7,1087.6 1653.8,1039.6 1736.7,1026.8 1516.8,1118 1755,902.4 1754.6,1003.8 1706.7,1166 1588.3,1271.5 1734.4,1158.1 1605.7,1063.8 1781.7,972.4 1706.7,1066.1 1560,1123.6 1704,1000.2 1712.1,1021.4 1626.5,1110.2 1635.2,1104.3 1775.2,1067.1 1722.8,1067.9 1594.8,1163.2 1462.4,1280.6 1429.6,1267.2 1719.7,1016.1 1741.1,1005.5 1565,1320.5 1584.7,1141.9 1502.2,1200.5 1487,1166.9 1491.8,1261.3 1715.8,1148.5 1747.2,991 1562.7,1191.3 1471,1177.1 1676,1180.1 1500.2,1198 1625.9,1004.8 1821.4,1025.1 1584.9,1342.1 1695.1,1034.8 1788.9,1098.8 1629.2,1049.8 1574.7,1251.4 1515.8,1218.7 1741.1,1089.5 1484.1,1192.4 1734.5,1106.2 1567.9,1224.8 1563.5,1110.9 1490.6,1370.7 1747.2,968.9 1695.9,1097.9 1493,1241.7 1518.3,1237.7 1383.1,1183.1 1563.8,1214.2 1643.5,1135.6 1743,1066.8 1704.5,1111.4 1775.7,892 1479.8,1223.6 1592.8,1202.5 1533.7,1193.2 1543.6,1227.4 1600.4,1055.9 1684.2,1101.2 1479.8,1281.6 1497.1,1093.1 1739.4,965.6 1591.1,1027.9 1605.5,1138.5 1660.9,1155 1730.6,1027.3 1816.6,1084.9 1440.6,1313.6 1390.4,1088.4 1674.9,1021.9 1709.9,1021.1 1654.6,1317.4 1767.7,985.2 1611.8,1078.4 1675.9,1069 1735.8,1133.2 1508.2,1345.3 1553.9,1215.6 1524.5,1260.2 1513.4,1227.1 1559.6,1105 1547.8,1146.7 1508.3,1252 1749,1183.8 1496,1280 1581.9,1069.3 1505.6,1168.3 1514.4,1293.2 1503.2,1338.7 1571.5,1182.8 1681.4,1062.5 1439.6,1358.3 1624.6,1262.3 1463.6,1292.8 1508.5,1311.2 1561.9,994.6 1700.6,933 1786.6,1088.7 1679.4,1028.5 1801.8,973.5 1781.1,972.5 1731.7,1027 1627.7,1008.5 1749.6,1150 1586.2,1252.3 1583.2,1213.2 1615.5,1213.1 1678.8,1034.8 1762.9,1057.7 1827.7,1071.8 1590.6,1188.2 1656.4,1102.4 1774.3,1080.6 1650.1,1112.7 1479.8,1219.4 1715.1,1026 1408.9,1172.8 1580.4,1326.6 1753.7,1013.4 1623,1367.7 1507.1,1129.9 1609.3,1115.1 1758,1038.4 1586.8,1149.3 1460.7,1243.9 1622.1,1161.4 1597.3,1174.2 1604.6,1158.8 1497.7,1176.6 1603.4,1270.4 1767.4,1052.8 1530.3,1323.6 1609.8,1181.3 1445.2,1228 1620.6,1160.9 1470.6,1294.2 1755.1,1167 1527.4,1327.4 1715.5,1158.6 1619.5,1193.9 1516.1,1123.6 1599.7,1097.6 1540.2,1359 1632.1,1109.2 1646.6,1018.9 1621.6,993.7 1837,1018.8 1640.9,953 1713.5,1155.3 1549.3,1188.1 1601.1,1100 1682,1107.5 1569.2,1246.2 1664.2,1050.3 1620.5,1137.8 1581.4,1215.2 1656.6,1205.7 1386.2,1304.8 1425.8,1335.7 1729.5,984.3 1469.9,1251.1 1743.6,1040 1618.2,1211.1 1608.5,1097.3 1677.2,1057.9 1672.1,1019.2 1575.5,1258.8 1719.2,1129.2 1543,1311 1832.3,902.3 1513.1,1065.4 1642.9,1356.9 1527.5,1244.7 1840.2,1037.6 1690,1068.3 1630.1,1201.2 1568.3,1135.3 1431.4,1242.3 1546.4,1149.9 1739.7,1022.3 1561.4,1145.1 1705.8,1215.2 1639.6,977.9 1699.4,1131.5 1491.7,1212.1 1556.4,1156.3 1797.8,1072.4 1577,1183.2 1609.8,1022.6 1551.2,1200.6 1391.9,1361.6 1503.8,1096.2 1452.2,1076.9 1650.4,1164 1581.6,1177 1727.7,1191 1588.9,1119.1 1478.4,1217.3 1786.4,1085.5 1621.7,1111.5 1737.6,987.7 1730.1,1033.4 1688.3,1218.5 1488.2,1347.6 1685.7,1112 1740,1079.4 1519.9,1089.6 1741.7,1072.1 1666.6,1184.2 1585,1175.8 1569.9,1291.5 1526.5,1272.6 1518.8,1068 1448.1,1372.9 1748.2,1016.3 1643,1148.9 1551.3,1216 1573.2,1245.9 1779.2,939.1 1484.6,1357.4 1616.7,1158.2 1565.6,1146.7 1761.5,1108.6 1552.2,1159.4 1765.1,963.7 1459.3,1317.6 1507.6,1193.4 1687.4,1039.4 1428.1,1329.6 1425,1172.7 1739.3,997.9 1689.7,994.3 1518.9,1179.6 1501.8,1276.4 1648.8,1252.5 1608.8,1158.7 1792.9,1085 1648.7,1068.8 1652.5,1241.1 1429,1318.1 1695.3,1014.9 1597.6,1164.7 1511.1,1108.9 1651.3,1221.6 1542.9,1230.8 1693.2,1063 1692.8,1157.9 1647.6,1226.5 1762.8,1114.3 1535.2,1368.2 1579.9,1167.5 1499.9,1330.5 1569.4,1048.8 1554.4,1122.4 1665.9,1161.3 1734.2,1094.1 1548.5,1327.9 1442.8,1214.4 1761.7,1137.6 1589.8,1090.9 1794.8,939.1 1769.2,1028.8 1640.3,1118 1712.1,1164.5 1589.9,1143.6 1571.7,1185.8 1544.7,1230.6 1716,1179.3 1530.5,1203.9 1780.6,942.2 1655.4,1117.6 1716.2,1178.2 1733.2,968.1 1671.7,1044.5 1721.4,1090.5 1829.6,1023.6 1770.7,962.9 1652,1127.5 1498.9,1315.5 1700.2,1025.3 1497.7,1264.9 1629.8,1242.3 1756,1024 1549.4,1116.7 1616.1,1132.7 1646.2,1037.9 1653.7,1060.8 1817.6,996.3 1670.9,1186.8 1737.1,973.1 1511.2,1208.4 1660.8,1171.5 1497,1272 1730.6,1047.1 1479.6,1264.7 1508.4,1139.8 1790,959.5 1639.7,1083.7 1583,1198.6 1674,1153.6 1715,1105.2 1702.6,1085 1580.4,1124.9 1675.2,985.5 1484.7,1208.6 1732.2,1144.5 1718.8,991.9 1686.6,1049.3 1685.3,1064.2 1686.8,1058.5 1745.6,1043.3 1730.4,1069.5 1536.1,1232.8 1420.4,1226.5 1649.4,1165.8 1507.6,1357 1544.2,1130.6 1725,1057 1630.1,953.4 1709.3,1257.5 1750.5,1021.3 1432.9,1271.4 1434.7,1371.3 1680.7,1195.8 1556.6,1159.4 1514.4,1172.3 1556.2,1135.5 1457.9,1229.1 1706.6,1039.9 1494.7,1338.8 1620.9,1123.9 1725,1091.4 1539.5,1043.8 1460.2,1203.5 1693.4,1111.4 1455.2,1324.3 1615,1161 1627.7,1047.9 1430.3,1352.2 1479.8,1316.9 1702.2,1041.7 1424.6,1212.1 1529.3,1331.9 1642.1,1074 1520.2,1268.2 1596.6,1249.6 1695.5,1162.3 1787.3,1048.1 1725.1,1084.3 1713.5,1041.2 1550,1197.4 1522.1,1371.2 1748,1055.4 1714,1076.6 1756.5,1099.4 1682.1,1044.7 1766.5,986 1454.2,1211.2 1501.6,1258.8 1792.2,930.6 1736.8,976 1483.8,1311.2 1518.2,1351.9 1730.4,1139.4 1687.8,1134.2 1578.4,1117.1 1705.7,1065.6 1522.8,1305.8 1668.1,1027.4 1741.5,1117.3 1710.6,978 1703.8,1107.8 1626.2,1154.7 1564.7,1096 1691.2,1024.9 1643.5,990.6 1580.9,1134.6 1578.6,1164.5 1718,1085.6 1766,1027.4 1453.3,1200.3 1557.6,1222.2 1482.1,1343.9 1659.8,1240.5 1699.7,1247.6 1687.6,1141.8 1674,1119.4 1780.7,1106.8 1767.8,1061.8 1572.8,1368.2 1541.4,1268.4 1654.6,1115 1727.1,1051.6 1579.8,1113.8 1728.8,1017.2 1713,935.9 1742.1,1021.6 1625.6,1201.4 1797.5,1037.9 1657.9,1207.9 1586.1,1194.1 1800,1061.5 1649.2,1158.4 1775.7,1090.5 1684.9,1152.1 1522.7,1115.5 1680,1172.3 1757,1205.2 1729.3,976.2 1489.9,1034.9 1660,1299.5 1726.8,1006.1 1537.9,1220.4 1789.1,949.9 1725.5,994.5 1543.5,1067.8 1714.8,1079.1 1529.2,1315.3 1546.2,1197.5 1805.8,1104.4 1588.2,1055.7 1508.4,1088.1 1723.5,1016.9 1708,1041.2 1659,1147.3 1648.5,1123.7 1590.9,1050.9 1468,1176.5 1578.7,1208.8 1499.7,1102.5 1496.7,1176.7 1485.3,1101.4 1578.8,1052.8 1651.2,1159.1 1752.4,896.3 1483.6,1260.8 1694.3,1026.5 1623.4,1145.9 1695,1076.2 1755,1105.3 1495.5,1063 1740.4,1031.3 1523.3,1136.1 1498,1304.1 1671.5,1094.3 1713.6,1036.2 1520.7,1083.4 1714.3,1151.7 1724.5,1135.5 1626.9,934.7 1619,1004.5 1477.5,1149.6 1617.7,1064.7 1662.8,1079.2 1537.3,1361.4 1545.5,1165.4 1504.7,1280.6 1565,1169.6 1419.9,1248.3 1467.2,1208.2 1572.5,1139 1689.5,1067.4 1671.2,1118.2 1689.1,1275 1665.9,990.4 1743.5,1038.8 1534.4,1275.8 1606.2,1152.7 1550.1,1077.8 1755.1,1036.7 1612.7,1222.3 1565.3,1221.8 1674.8,1163 1822.1,983.6 1680,1211.5 1535.5,1354.9 1395.6,1192.6 1694.8,884.3 1670.7,1096.9 1791,1038.1 1473.4,1283.4 1752.8,1109.3 1508,1253.1 1508.2,1198 1612.9,1248.4 1671.2,1077.2 1649.9,1012.5 1724.5,1055.3 1501.4,1370.1 1584.7,1163.3 1534.9,1199.8 1708.9,989.9 1729,1049.6 1726.4,1125.8 1865.3,895.8 1702.9,1128.7 1652.8,1119.7 1643.3,1183 1560.3,1254.6 1541.9,1233.7 1545.5,1110.5 1453.3,1255.9 1734,1064 1789.4,1079.8 1744.4,1029.5 1717.3,996.2 1746.5,985.9 1718.2,1132 1662,1168.1 1615.6,1161 1674.5,1178.5 1633.4,1256.6 1571.6,1250.4 1742.1,1024.7 1518.9,1315.1 1623.3,1180.3 1797.4,1009 1490.6,1218.6 1360.3,1278 1824.5,1056.4 1454.4,1061.2 1460.6,1372 1539.7,1084.3 1621.1,1299.3 1550.7,1236.8 1545.9,1212.9 1612.7,1135.8 1515,1334.8 1553.7,1257.7 1615.4,1254.1 1724.1,1080.4 1539.1,1242.6 1571.3,1178.9 1701.5,990.7 1529.5,1337.4 1632.4,1214.9 1482.6,1208.9 1510.9,1116.4 1517.3,1221.7 1474.9,1250.7 1564,1327.9 1836.7,1015.7 1734,978.2 1606.7,1145.7 1656.8,950.1 1685.9,1129.5 1560.1,1060 1491.1,1229.2 1479.9,1198.8 1709.2,1002.5 1717.7,971.2 1598.6,1146.5 1818,995.7 1627.6,1266.3 1684.1,1007.9 1525.1,1211.6 1398,1364.7 1656.8,1202.7 1682,1150.7 1611.1,1194.1 1617,1299.4 1757.7,1107.9 1659.2,1177.1 1518.2,1200 1355.7,1247.2 1641.2,1097 1521.7,1295.3 1592.5,1348.3 1506.4,1080.3 1691.5,1074.5 1517.8,1222.3 1554.5,1266 1518.2,1297.4 1566.6,1021.1 1512.1,1229.2 1790.2,976.3 1668.4,973.7 1803.2,1046.7 1563.3,1297.8 1738.7,1063.8 1798.3,1081.3 1672.4,1042.6 1704.3,1139.5 1570.8,1140.8 1425.9,1190 1711.4,991.4 1586.7,1088.6 1650.9,1041.2 1746.7,998.2 1649.1,1096.1 1841.5,1040 1708.5,1140.3 1569.9,1194.4 1518.2,1237.1 1809.9,1045.7 1689.3,1019.2 1468.9,1295.5 1743.1,1126.3 1480.5,1306 1510.6,1356.8 1659.4,1029.3 1595.8,1138.9 1588.2,1209.2 1419.9,1316.9 1627.8,1079.9 1516,1371.8 1626.2,1230.2 1517.8,1272.3 1371.9,1351.1 1772.5,1025.7 1555.9,1169.8 1848.3,1037.1 1570.9,1247.1 1749.5,1099.3 1547.8,1263.4 1555.6,1218.5 1602.2,1117.7 1622.2,1235.7 1713.4,1109.7 1742.7,1067.1 1578.4,1109.6 1604.9,1217.7 1430.9,1166.6 1461.6,1230.6 1686.2,976.8 1767.1,983.9 1706.3,1022.7 1536.8,1189.6 1727,1053.8 1633.9,1066 1536,1363.1 1816.1,1124.2 1528.4,1217.6 1712.3,1006 1755.5,1074.9 1791.9,974.8 1619.1,1035 1735.9,960.8 1533.9,1056 1620.6,1115.4 1704.3,1023.5 1479,1276.1 1451.9,1337 1615.9,1094.2 1801.8,944.9 1604.4,1237.4 1435.5,1239.5 1545.3,1208 1730.1,1064.1 1642.8,1134.1 1829.8,1060.6 1802.9,993.3 1629.5,1154.4 1618.5,1018.2 1754.7,907.6 1658.5,996.1 1710.3,1129.8 1571,1180 1709,1075.3 1724.8,1093.3 1518.2,1065.7 1748.7,1022.8 1658.3,1211.9 1823.1,1020.3 1549.2,1187.7 1688.8,895.7 1721.4,1019.9 1545.8,1150.3 1598.4,1070.7 1805.4,1123.8 1797,1064.1 1635.3,1052.5 1597.7,1228.3 1509.4,1332.3 1608.6,1167.8 1791,1149.5 1782.7,1036.6 1622.5,1182.1 1617.9,1176.8 1623,1142.7 1688.9,1168.9 1736,999 1758.6,1045.7 1479.3,1310.7 1488.5,1224.5 1689.2,1057.1 1659.5,989.2 1758,1001.2 1762.5,983.9 1461.1,1337.1 1665.8,1157.9 1503.4,1121.3 1826,987.7 1772.6,1011.1 1683.6,925.3 1685.5,1163.2 1643.8,1028.4 1722.3,1169.2 1421.6,1230.5 1587.6,1164.9 1757.4,1062.6 1669.7,1071 1490.1,1254.9 1702.4,1013.6 1509.6,1261.8 1751,1048.5 1566.7,1273.3 1799.9,1001.2 1659.4,1148.7 1530.9,1254.2 1789.2,911.5 1813.8,988.7 1678.4,1144.3 1631.5,1108 1625.1,1145.5 1833.4,1036.9 1638,1122.8 1734,945.8 1672.8,1131.3 1577.1,1255.9 1764.4,997.1 1569.2,1311.3 1795.9,1035.3 1648.2,1189.5 1623.2,942.8 1740.5,1073.4 1587.8,1136.1 1675.7,994.2 1641.7,1080.3 1576.8,1185 1634.8,1150.5 1734.8,1024.3 1793.8,1031.5 1526,1169 1698.9,1032.4 1557.5,1112.2 1726.6,978 1436.1,1370.2 1794.4,1088.1 1685,1078.3 1586.5,1152.6 1801.7,1103.5 1499.3,1128.1 1543.3,1163.8 1825.5,936 1662.1,1072.2 1851,1040.1 1798.4,950.7 1529.4,1151.7 1645,1201 1699.3,1222.8 1735,1044.7 1826.3,985.5 1825.7,1004.8 1609.3,1187.7 1756.9,1129.2 1459.7,1184.2 1437.5,1336.9 1744.5,976.6 1494,1185.5 1694.7,1122.6 1494.9,1270.5 1587.1,1271.9 1726.5,1198.4 1751.4,889.9 1583.9,1174.1 1435,1291.8 1624.4,1188.6 1771.6,1181.5 1655.2,1095.5 1733.1,1036.5 1514.4,1330.9 1555,1251.7 1833.4,983.6 1583.5,1141.4 1748.3,1181.8 1591.4,1151.1 1588.3,1170.9 1820.2,986.2 1781,1023.4 1520.3,1198.7 1578.5,1118.8 1576.6,1109.5 1569.6,1100.1 1843.3,922.7 1563.1,1153.7 1661.9,1065.2 1690.1,1127.4 1680.3,1099.7 1545.2,1200.7 1784.2,990.8 1632.5,1138.1 1696.3,1158.1 1658.3,1094.2 1836.9,1010.5 1579.8,1162.3 1620.9,1143.5 1512.3,1104 1655.9,1137.6 1647.3,1169 1607.8,1022.3 1427.3,1289.4 1538.3,1194.5 1773,1180.7 1491.9,1150.3 1675.3,1022.1 1650,982.7 1661.6,1167.9 1650.4,1039.9 1545.7,1343.9 1654,905.5 1645.1,1233.7 1714.5,831.8 1739.2,1058.2 1483.2,1228.2 1675.5,925.6 1366.1,1294.4 1607.2,1263.2 1425.2,1295.6 1501.9,1168 1582.2,1158.7 1824.6,904.3 1577.2,1206.3 1633,1164.4 1623.2,1215 1607.9,1114.6 1544.5,1165.6 1549.8,1230.9 1457.5,1166.2 1728,943.5 1571.7,1319.4 1823.2,930 1616.6,1081.2 1586.1,1100 1691.4,1269.6 1828.2,967.8 1514,1125.4 1645.1,1062.6 1763.1,1068.9 1804.8,1123.4 1734.9,1028.8 1511.9,1102.1 1465.3,1214.5 1654.1,960.8 1459.2,1267 1822.8,1079 1578.9,1158.8 1412.8,1356.1 1638,1100.5 1775.4,999.8 1466.9,1289.8 1807.2,919.7 1595.9,964.3 1690.3,1095.1 1664.4,1167 1522.9,1219 1669.5,1083.2 1583.1,1198 1695.1,1031.2 1640.6,1148.8 1593.6,1050.5 1776.1,959.2 1498,1225.1 1648.3,1219 1639.2,1174.8 1694,1219.4 1643,1089.2 1645,1049.7 1506.2,1115.1 1521,1084.4 1644.9,1172.8 1404.1,1285.7 1532.9,1112.6 1681.2,1136.5 1489.5,1238.9 1608.4,1068.7 1554.5,1244.2 1817.8,994.4 1624.4,1271.3 1556.2,1110.4 1511.9,1143.2 1667.3,1026.4 1587.7,1020.4 1583.3,1284.2 1765.9,1031.6 1775.8,1041.7 1532.1,1089.3 1829.9,997.8 1740.8,1046.7 1605,1142.3 1498.2,1053.4 1511.9,1347.2 1506.3,1214 1596.4,1147.5 1658.9,1068.1 1481.8,1169.5 1676.1,1123.3 1559.5,1175.8 1469.5,1353 1823.1,1091.7 1583.8,1104.3 1474.9,1353.7 1493.5,1153.4 1569.6,1148.5 1606.7,1148 1627.1,1130.6 1728.2,1075.8 1690.8,1013.8 1580.5,1107.9 1724.3,971.5 1773.2,1085.3 1649.3,1178 1553.7,933.9 1579.1,1126 1559.9,1167.7 1457.5,1364.9 1745.2,1119.8 1720.7,1174.8 1561.9,1079 1749.2,1092.5 1549.7,1350.2 1757,1028.1 1633.2,1355.7 1463.4,1253.6 1685.6,1104.5 1609.1,1016.5 1504.3,1152.2 1787.1,1112.3 1713.8,995.6 1636.6,1197.7 1612,1228.2 1610.3,1016.9 1784.6,1065.5 1834.4,982.1 1718.9,1098 1784,953.9 1586.1,1232.1 1511.7,1187.6 1631.5,1215.3 1783.7,1020.7 1478.9,1281.2 1501.3,1250.9 1667.2,1144.7 1606.4,1177.1 1545.6,1237.7 1715.1,1133.5 1747.8,990.5 1677.5,1027.4 1544.2,1235.8 1462.8,1098.7 1721.3,1112.5 1715.4,1111.2 1777.1,977.5 1736.3,1052.4 1681.4,1198.9 1709.3,1148.7 1469.6,1271.8 1525.4,1349.9 1403.9,1317.6 1789.2,1065.2 1495.3,1283.8 1683.3,1143.6 1527.1,1254.3 1573.7,1147 1499,1357 1373.9,1337.6 1790.1,1113.8 1565.8,1288.7 1733.8,1087.2 1687.7,1100.2 1760,1040.4 1796.7,933.7 1584.6,1151.4 1491,1335.9 1752.2,1018.7 1710.8,1050.5 1571.9,1259.5 1516.1,1210.9 1545.7,1296.4 1642.4,1031.9 1790.5,974.1 1674.1,1223.8 1748.7,1064.8 1752.3,1056.1 1667.3,1103.3 1660.4,1095.9 1653.2,1038 1748.8,1004.2 1690.5,1122.7 1503.3,1123.5 1565.8,1193 1589.6,1156.4 1525.8,1101.6 1835.9,1019 1757.5,1056.6 1559.4,1219 1464.3,1278.5 1537.3,1182.2 1575,1344.7 1693.4,1206.2 1537.4,1289.8 1634,1008.4 1532.1,1264.5 1724.8,1001 1572.3,1115 1581.7,1122.2 1410.7,1226.2 1532.4,1291.5 1448,1368 1817.7,956.9 1752.9,1032.7 1464.6,1191.6 1657.8,1000.8 1615.5,1185.5 1771,1007.7 1681.5,990.2 1682.6,1048.2 1721,1089.7 1705.5,1225.8 1450.2,1315.2 1790.3,988.6 1701.6,976.1 1739.4,987.4 1541.7,1344 1745.6,1114.5 1666.5,1078 1745.5,1028.3 1479,1372.1 1590.6,1291.4 1683.3,1239 1475.2,1216.5 1852.8,964.9 1554.2,1276.8 1789.3,1025.8 1470.4,993.7 1806.8,1052.1 1762.6,1036.4 1769.2,1129.7 1818.4,976.7 1539.6,1115.4 1513.6,1059.8 1455.8,1353.7 1676.6,1203.8 1517.1,1243.7 1495.9,1230.9 1572.1,1159.4 1556.2,1216.9 1653.5,1261.9 1629.6,1178.8 1546.9,1353.1 1701.5,1066.8 1573,1274.5 1458.9,1197.8 1528.7,1240.9 1453.4,1326.4 1740.3,1112.5 1626.1,1110.3 1544.1,1146 1580.2,1168 1572.5,1062 1684.5,1034.8 1740.1,1131.1 1692.7,1091 1503.7,1263.3 1455.1,1217.8 1676.7,1183.4 1611,1208.2 1710.8,1180.8 1712,1080.4 1583.8,1109 1484.3,1243.3 1818.1,984.8 1851.5,908.2 1742.5,1133.2 1706,1035.8 1444.8,1166.3 1617.6,1189.3 1731.7,990.6 1489.6,1233.4 1597.3,1139.3 1543.6,1105.6 1753.7,1061.3 1773.8,1112.5 1461.7,1304.2 1848.7,988.3 1656,998.2 1470.1,1202.6 1652.3,1053.9 1478.1,1177.9 1599.2,1192.4 1618.3,1178.7 1597.9,1164.8 1742.2,1099.4 1796.1,956.9 1767.9,1022.4 1620.7,1229.6 1634.9,1067.9 1481.3,1305.8 1423.3,1085.5 1678.3,1001.3 1456.3,1265.9 1621.6,1122.3 1502.3,1100.9 1506,1274.7 1445.6,1326.2 1571.6,1309.6 1625.1,1069.9 1536.2,1098.8 1493.6,1174 1523.4,1353.8 1785.4,968.7 1402.4,1320.2 1673.3,1063.1 1788.5,975.1 1832.9,1015.4 1590,1173.8 1496.6,1230.1 1602.8,1083.1 1786.6,988.5 1565.2,1229.9 1529.4,1032 1655.8,1193.2 1543.9,1194 1670.3,1148.6 1655.2,1047.5 1694.8,1145.9 1728.7,1078.4 1589.1,1294.3 1610.1,1183.9 1728.7,874.7 1510.4,1308.7 1611.6,1129 1670,1114.8 1729.9,1003.8 1661.4,1216.6 1571.9,1293.8 1687.1,1210 1631.6,1147 1623.3,991.8 1607,1062.1 1701.6,1005.2 1684.4,1084.6 1529.9,1295.2 1812.1,924.2 1482.2,1258.2 1538.5,1159.5 1631.9,1254.3 1506.7,1284.4 1727.1,1094.2 1748.8,1000.6 1491.9,1232.6 1774.1,991.7 1628.4,1077.4 1659.7,1075.3 1696.1,1088.4 1515.5,1219.7 1612.9,1237 1567.3,1320.5 1473.5,1227.2 1532.9,1247 1790.8,1075.4 1647.8,1076.7 1603.2,1126.3 1818.4,1155.1 1809.5,1120.5 1466.8,1278.2 1602.2,1095 1741.1,1021.7 1670.7,1133.3 1577.2,1302 1584.2,1034.8 1697,1115.3 1575.8,1176.1 1621.3,1148.7 1449.1,1281.2 1516.9,1293.1 1606,1144.7 1690.5,968.2 1562.6,1204.1 1804,945.2 1744.5,1063.1 1608.8,1087.1 1527.1,1360.6 1771.9,934.5 1659.2,1132.8 1633.9,1064.4 1578.4,1294.7 1772.1,991.2 1463.6,989.4 1501.6,1157.5 1814.3,994 1755.9,1072.5 1714.1,999 1371.2,1285.6 1697.1,1069.9 1460.4,1325 1557.4,1238.9 1766,1112.4 1485.2,1129.1 1778.3,1018.9 1736.3,1044.5 1829.7,954.2 1550,1339 1759.2,1044 1592.1,1296.4 1791.6,1037.3 1652.3,1062.5 1520.2,1246.5 1607.7,1128.9 1602.6,1121 1521.3,1115.3 1648.4,1134.3 1456.5,1133.4 1767.4,1117.8 1629.3,1065.1 1473.2,1170.7 1514.1,1234.1 1607.9,1207.5 1617,1194.3 1699.1,1012.4 1717.7,926.1 1580.4,1127.5 1705.8,1136.4 1787.9,974.7 1790.1,914.9 1544.7,1215.5 1656.3,1084.2 1532.6,1158.2 1787.2,1167.4 1538.3,1341.5 1567.3,1262.5 1562.4,1206 1675.2,1133.2 1767.9,983.9 1546.7,1264.9 1823.1,983.7 1635.9,973.1 1489,1176.1 1761.3,1009.3 1711.3,1087.7 1702.2,1163.1 1554.8,1219.4 1650.1,1147 1601.2,1126.9 1634.3,1121.6 1636.9,1223.1 1671.2,1105.2 1634.7,1168.8 1533.1,1268.3 1583.1,1107.6 1633,1000.9 1471.9,1104.9 1533.6,1240.4 1783,1061.6 1667.7,1107.5 1509.5,1135.6 1590.2,1097.6 1363,1345.8 1737.3,1152.9 1572.8,936.9 1716.4,1053.8 1536.2,1363 1456.3,1312.2 1344.1,1326.5 1555.3,1017.5 1598.2,1257.1 1732.7,1106.5 1555.9,1177.8 1515.1,1114.6 1519.5,1359.3 1595.1,1038.4 1786.2,1256.9 1619.4,1145.2 1661.3,1151.5 1568.7,1199.6 1518.8,1192.1 1801.6,1002.3 1718.8,1107.8 1588.2,1119.6 1687,1088.1 1580,1198.9 1596.9,1061.2 1638.1,1091 1468.3,1290.1 1576.4,1256.8 1589.9,1168.1 1475.8,1220.8 1720.4,1043.7 1811.8,973.3 1658.8,1045.5 1680.6,1018.1 1586.7,1123.2 1639.3,1149.1 1703.9,1006 1611.7,1204.2 1712.1,1118.9 1567.6,1234.7 1676.4,1078.4 1587.4,1077.1 1465,1233.4 1507.4,1029.7 1570.9,1313.8 1495.9,1277.3 1732,1160.3 1809.2,949.6 1775.3,1019.3 1614.6,1185.3 1583.9,1159.8 1646.4,1086.2 1651.7,1038.9 1633,1220.6 1659.1,1152.4 1532.6,1207.7 1461.5,1273 1700.2,1149.6 1691.5,1080.5 1580.5,1176.1 1648.1,1149.7 1692.9,1010.6 1740.5,1063.5 1565.9,1124 1753.1,1093.6 1625.4,1253.2 1492.7,1130.7 1810.5,1007.8 1559.3,1040.4 1796.6,974 1476.9,1186.4 1502.2,1270.8 1562.2,1108.6 1733.7,972.4 1572,1225.2 1567.1,1194.1 1658.2,1078 1511.9,1307.6 1594.6,1101.6 1678.1,1118.7 1524.1,1266.7 1492.6,1248.3 1548.3,1264.4 1780.6,1084.5 1494,1014.4 1592.4,1188.6 1631.3,1108.1 1536.6,1324.9 1589.4,1194.1 1591.6,1013.6 1748.2,1012.5 1602,1188.6 1508.7,1137.2 1504.1,1267.6 1688.1,1143.2 1786.3,1010.4 1714.1,1139.5 1536.4,1098.9 1642.3,1158.4 1581.2,1224 1765.7,1088.9 1488.7,1236.6 1738.7,1058.7 1686.2,1095 1567.3,1295.9 1524.8,1153 1708,1042 1505.6,1276.4 1617.5,1256.5 1559.7,1321.2 1694.8,1073.6 1783.6,1022.1 1768.3,970.7 1596.8,1257.2 1633.7,1194.3 1575.8,1272.1 1778.2,1045.7 1747.4,1091.1 1687.8,1061.3 1623.7,1078 1737.4,1061.9 1741.8,1072 1564,1271.6 1488.4,1292 1742.7,1081.1 1646.7,1123.8 1589.5,1196.1 1428.9,1339.8 1775.6,955.8 1782.9,1166.8 1558.4,1133.2 1782.1,1059.1 1772.5,1031.2 1591.6,1171.5 1718.4,1033.1 1529,1221.6 1616.8,1091.4 1679.2,1031.9 1703.2,996.7 1565.2,1058.7 1653.3,1133.4 1620.4,1046.1 1644.1,1143.8 1611.4,1165.3 1591.8,1168.2 1564.5,1244.3 1546.2,1159 1658.9,1147.7 1587.1,1220.4 1577.7,1120.2 1620,1172.7 1489.4,1346.3 1717.5,1251.9 1687,1075 1662.3,1040.8 1643.1,1331.8 1707,1048.6 1505.2,1197.4 1750.5,980.7 1730.7,965.2 1800.3,1065.6 1550.7,1173.8 1706.5,1135.1 1643.7,1122.3 1551.1,1297.9 1808,1023.9 1506.8,1276.5 1720.1,1210.2 1824.3,1041 1748.7,1002.7 1654,1024.9 1586.8,1228.6 1580,1086.4 1558.6,1171.7 1486.4,1228.7 1518.6,1324.7 1383.1,1353.6 1625.6,1125.7 1461.3,1305.8 1671.1,1269.2 1576.5,1163 1677.9,1054.7 1458.3,1368.9 1492.7,1108.8 1462.6,1278.6 1822,1063.9 1815,994.2 1487.3,1301.4 1622.5,1206.1 1696,1250.3 1764.8,1013.6 1469.5,1152.2 1601.2,1061 1380,1280.4 1589.1,1206.3 1511.1,1214.1 1592.7,1144.3 1481.5,1178.8 1768.2,978.5 1845.7,988.9 1471.3,1175.7 1731.4,1099.8 1649.5,1072.6 1664.2,1189.5 1382.1,1279.5 1428.7,1257.5 1646,1047.3 1473.5,1117.4 1612.8,1220.3 1724.4,929.7 1630.2,1146.9 1494.5,1204.9 1647.3,1209.7 1543.5,1092.7 1710.1,1070.9 1640.9,1136.4 1645,1075.9 1679.8,1189.3 1622.3,1217.6 1751.6,1059.9 1535.8,1251.1 1541.5,1353.1 1576,1242.1 1630.2,1273.9 1824.6,956.7 1738.7,1042.7 1510.5,1189.6 1577.1,1331.1 1593.8,1078.7 1568,1252.1 1409.7,1317.5 1675.9,1029.5 1726.5,1086.4 1689.2,1032.4 1496.3,1152.8 1558.2,1086.7 1452.8,1158.4 1696.2,1151.1 1583.9,1130.5 1580.2,1370 1624.8,1026.9 1607.1,1131 1569.3,1149 1812.2,953.7 1745.8,1132.8 1470.1,1307.7 1562.2,1258.3 1648.7,1108.6 1616.6,1206.8 1650.3,1071.5 1300.3,1328.8 1479.9,1266.9 1837.9,969.4 1721.7,1028.8 1645.4,1148.7 1356.5,1141.2 1561.6,1136.9 1633.6,994.8 1525.1,1232.5 1641.1,1075.2 1569.5,1090.5 1459.8,1280.2 1311.1,1270.8 1549.5,1131.6 1675.1,1029.5 1671.9,1090.9 1586.5,1136.4 1678.2,991.3 1618.3,1194.7 1618.4,1271.1 1470.2,1058.7 1707.8,1279.2 1471.1,1302.6 1550,1151.8 1832.6,1019 1483,1251.2 1727.1,1002.5 1509.8,1302 1626.6,1225 1667.9,1174.1 1570.7,1134.3 1794.9,1064.4 1499.6,1124 1815.7,952.1 1481.2,1163.5 1560.5,1147.7 1538.2,1256.3 1563.5,1063.9 1659.2,1172.3 1718,1081.9 1777.3,1105.6 1673.9,1074.3 1698.6,1146.3 1624.4,1016 1752.2,947.8 1652,1102.7 1723.8,1103.1 1554.4,1089.5 1759.8,1093.4 1356.4,1340.1 1830.4,941.7 1531.5,1206.5 1481.6,1300 1582.2,1200.9 1570.4,1318.8 1590.1,1180.3 1519.9,1232.9 1747.3,1006.7 1580.5,1149.8 1521.7,1345.2 1750.2,1082.8 1753,1093.6 1471.1,1367.6 1565.3,1203.4 1546.8,1126.7 1613.7,1185.4 1466.6,1260 1673.2,1276.4 1668.8,1160.2 1562.1,1197.6 1532,1244.4 1591.2,1173.1 1754.6,1139.7 1666.5,1245.3 1679.3,1045.9 1625.2,1064.9 1714.1,1040.6 1592.2,1040.9 1731,1091.1 1582.6,1139.8 1781.3,1091.5 1639.7,1039.6 1654.7,952.7 1752,1018.6 1535.8,1097.2 1824.8,895.1 1731.9,1181.7 1465.7,1118.7 1603.1,1114.1 1639.6,1080.6 1550,1279 1714.4,1119.1 1533.7,1291 1648.5,1136.7 1654.2,1172.1 1631.4,1232.7 1812.4,1040.5 1760.2,1035.7 1698.9,1099.7 1682.2,1257.5 1776.1,984.6 1706.6,1235.1 1775.7,930.8 1761.7,1086.4 1866.5,970.7 1623.6,1328 1506.5,1002.2 1640.7,1057.4 1616.4,1273.1 1699.3,1076.5 1514.2,1180.8 1754,1021.7 1780.5,1071.1 1518.4,1307.9 1471.4,1251 1732.2,964.3 1692.5,1079.4 1661,1117.7 1623.9,1118.1 1716.7,1063 1478.6,1244.7 1474.5,1205.7 1518,1081.2 1641.1,1270.3 1564.2,1184.3 1709.6,1074.6 1802.3,968.8 1622.5,1100.7 1712.3,1168.5 1560,1241.5 1781.5,970.5 1552.3,1063.7 1464.9,1266.1 1496,1253.6 1513.3,1122.1 1608.1,1115.3 1538,1284.6 1655.2,1112.8 1688.1,1095 1721,1118.3 1545.7,1164.3 1333.8,1214 1712.3,955.7 1710.4,1168.5 1535.1,1336.1 1849.8,952.8 1595.5,1028.2 1604.4,1194.8 1508.7,1245 1743.6,1137.8 1544.2,1228.5 1512.3,1171 1617.8,1115 1634.3,1174.3 1653.2,1178.4 1548.8,1021.6 1647.8,1066.4 1478.3,1258 1562,1073.6 1553.3,1150 1649.3,1228.3 1644.8,1013.9 1488.5,1282.7 1630.9,1275.5 1825.6,1032.6 1715.3,1039.9 1567.8,1297 1613.1,997.9 1732.1,1048.3 1809.5,1072.3 1571.6,1220.2 1738.5,932.8 1759.5,1073.1 1657.2,1170.9 1496.4,1209.6 1780.3,979.9 1652.8,1139.9 1713.9,1029.8 1690.2,1075 1801.7,1053 1626.5,1270.5 1666,1132.6 1744.8,1136.9 1774.8,1049 1463.2,1266.5 1448.1,1281.6 1756,1069.6 1788.3,963.5 1665.2,1057.7 1774.6,1068.6 1478.7,1294.4 1566.8,1217.4 1516.8,1169.9 1542.9,1156.8 1699,1148 1543.1,1330 1621.4,1202.1 1679.2,1050 1517,1023.4 1571.6,932.4 1598.6,1103.1 1441.7,1203 1790,1062.6 1723,998.1 1664.5,1150.3 1527.6,1272.1 1678.4,1041.1 1682.6,1071.5 1575.5,1112.5 1605.3,1122 1651.5,1056.1 1646.7,1082.1 1772.7,1040.9 1515.2,1249.9 1559.7,1192.4 1478.5,1228.1 1754.8,942.3 1793,953.4 1358.3,1247.3 1563.4,1225.6 1596.8,1120.6 1825.7,991.4 1840.2,1029.1 1702.8,1179.9 1708.8,1097.7 1494.3,1281.3 1580.7,1203.3 1505.3,1134.2 1628,1063 1630.5,1032.2 1769.9,1064 1638,1081.6 1619.4,1068.3 1657.4,1065.8 1653.1,1221.5 1557.9,1061.3 1597.4,1337.6 1739.4,1059.7 1721.1,1049.8 1566,1050.3 1798.9,1046.2 1706.9,1109.8 1749.1,1088 1613.8,1250.8 1689.9,1150.2 1538.4,1164.6 1679.8,1245.4 1436.2,1271.1 1692.2,998 1704.6,1171 1687.8,1192 1555.5,1197.9 1471.9,1289.7 1574.9,1340.7 1782.4,1112.5 1566,982.4 1543.8,1272.2 1567.8,1121.3 1497.7,1236.3 1548.6,1330.8 1679.7,997.8 1500.9,1178.6 1637.6,1046.6 1533.5,1241.1 1727.3,1036.9 1468,1117.6 1561.8,1121.7 1472.4,1130.1 1462.2,1136 1480.3,1181.4 1682,1091.7 1779.1,1141.3 1637.2,1138.9 1535.8,1256.1 1776.3,1132.8 1485.2,1315.1 1492.6,1325.7 1751.7,1016.5 1740.8,1078.3 1732.8,1180.4 1750.4,1071.2 1720.1,1037.6 1562.7,1333.2 1646.7,1105 1515.4,1319.2 1493.4,1298 1541.4,1170.1 1725.5,976.7 1720.6,1002.6 1756.8,1037.2 1579.7,1218.9 1588.6,1008.8 1768.9,1127.7 1636.7,967.1 1623,1101.7 1655,1131.6 1525.9,1193.1 1676.7,1104.6 1718.6,1224.3 1634.8,1136.6 1582.4,1161.3 1615.1,1154.1 1813.4,1066.2 1665,1161.2 1606.5,1089.8 1455.7,1260.2 1717.4,988 1615.3,1255.1 1753.7,900.1 1774.5,1031.3 1557.3,1115.3 1595.2,1284.1 1578.7,1265.3 1626,1197.8 1520.7,1134.4 1500.4,1226.8 1648.3,1127.3 1577.7,1259.3 1688.2,1175.5 1650.4,935.4 1668.6,1099.4 1539.4,1189 1623.7,1024 1793.7,1015.6 1829.7,977.7 1452.5,1238.9 1545.7,1133.6 1646.5,1257.1 1638,1068.9 1545.5,1191.1 1557.1,1176.2 1403.4,1371.5 1443.7,1352.7 1436.8,1158 1639.2,1073.8 1588.8,1295.8 1583.3,1180.1 1559.2,1105.3 1528.4,1097.9 1621.6,1141.1 1594.6,1096 1705.3,1114.7 1716.6,1107.6 1786,952 1757.8,1048.8 1675.9,1077.2 1821.7,895.3 1580.9,1163.4 1747.4,1027.3 1507.7,1226.9 1707.2,1100.3 1604.9,1190.8 1588.5,1216.1 1731.4,1102.1 1442.7,1233.7 1507.8,1313.4 1717.2,992.1 1650.2,1070.3 1614.4,1280.5 1528,1202.4 1618.9,1122 1400.7,1357 1777.4,1005 1832.2,1008.8 1795.7,1110.5 1483.5,1257.2 1757.4,1058.1 1488.3,1363.9 1817.6,1027.8 1564,1155.4 1566.3,1157.5 1620.4,1064 1629.3,1064.6 1788.6,1103.5 1549.6,1055 1559.1,966.7 1620.7,1082.8 1524.8,1232.7 1587.9,1144.6 1735.2,1077.7 1727.1,987.3 1476.8,1317.4 1752.7,971.2 1714.4,1095.5 1738.4,1059.3 1538.8,1224.9 1600.4,1026.2 1429.7,1240.9 1739.2,1121.7 1681.3,972.5 1554.3,1078.3 1548.2,1190.7 1409.7,1211 1548.3,1307.1 1471.7,1233.4 1488.9,1302.2 1548.8,1145.9 1626.6,1142 1575.1,1213.4 1599.6,1088.1 1393.8,1257.2 1440,1188.8 1681.4,1100.2 1454.8,1168.9 1723.9,1187.4 1807.2,965.9 1648.4,1127.9 1643.3,1243.6 1478.3,1361 1608.7,1320.4 1764.8,1179.8 1463.2,1368.5 1680.1,1158.8 1461.2,1192.9 1819.3,1057.5 1630.1,1194.6 1601.9,1065.2 1479.4,1352 1578.1,1154.4 1782.3,980.5 1592,1184.1 1653.3,1123.3 1619.7,1024.1 1635.1,1023 1570.9,1048.9 1494.1,1194.8 1657.2,1124.2 1636.5,1178.1 1514.4,1308.9 1637,1183.2 1569.4,1157.9 1804.7,894.3 1711.1,1011.1 1688.2,1109.6 1515.3,1154.2 1759.1,1030.6 1757.8,1024.5 1646.2,1236 1704.5,952.2 1658,954.6 1648.7,1085.1 1807.1,993.9 1722.5,1070.9 1722.5,985.2 1626.7,1103.5 1559.7,1186.8 1616.1,1327.6 1548.3,1103 1542.4,1040.8 1798.3,1061.4 1717.4,1087.9 1759.7,969.8 1718.4,1020.2 1618.7,1233 1478.5,1282.1 1404.7,1107 1564.7,1123.1 1657.5,1148.1 1829.8,957.8 1405.2,1199.2 1552,1066.8 1815.8,1087.3 1680.2,946.3 1721.3,1218.8 1773,953.1 1692,1140.6 1697.1,1046.2 1489.9,1088.2 1603.4,1140.5 1554.7,1205.3 1753.2,1031.3 1601.7,1213 1550.1,1244.4 1632.7,1145.4 1558.4,1248.1 1675,1140.7 1720.8,1109.3 1578.6,1260.9 1641.2,1276.6 1724.1,1107.7 1789.5,1074.1 1685,1053.5 1690.3,1174.1 1539.6,1197.4 1669.1,1098.6 1710.9,1156.8 1494.7,1285.8 1683.9,1034.3 1623.8,1044.9 1526.8,1119.2 1741.2,1032.8 1613.6,1110.6 1782.1,983.2 1419.6,1223.4 1601.4,1094.1 1617.8,1107.8 1477.8,1277.8 1730.6,1167.5 1505.8,1126 1735.6,962.7 1372,1239.6 1735,1040.5 1697.1,1146.1 1635.9,1113.7 1641.3,1133.5 1471.9,1335.4 1745.9,1098 1749.6,1057.4 1679.8,1087.6 1758.4,1040.7 1585,990.9 1550.9,993.5 1570.8,1181.9 1772.6,1044.2 1507.2,1095 1671,951.9 1506.2,1208.7 1762.5,1086.8 1696.5,1099.2 1769.1,938.3 1574.7,1067.6 1567.7,1225 1724.8,1054.7 1566,1118.1 1656.5,1255.3 1689.1,1149 1822,1015.9 1470.4,1170.2 1686.3,1115.1 1567.4,1233.3 1658.3,1186.8 1645,1119.7 1383.9,1315.7 1540.3,1073.4 1722,1216.2 1669.1,1077.7 1567.9,1253.3 1537.3,1164.6 1398.6,1347.2 1662.1,1072.5 1708,1016 1744.4,870.7 1488.1,1127.4 1541,1330.4 1523.4,1336.9 1762.4,1217.1 1660.1,1042.3 1578.1,1219.1 1779.2,999.8 1702.1,1111.6 1583,1296.4 1580.7,1275.9 1484.8,1215.8 1619.7,1189.4 1648.2,1262.3 1664.9,1138.6 1596.1,1091.1 1530.7,1309.4 1783.2,1004.5 1505.6,1192.8 1670.4,1231.5 1429,1170.1 1731.6,1006.3 1435.2,1165.7 1807.1,981.6 1439.6,1200 1695.1,1039.1 1531.6,1231.3 1715.3,1044.7 1438.7,1247.7 1498.9,1181.6 1736.6,1035.1 1478.7,1123.6 1665.7,1012.9 1630.3,1321.3 1612.8,1058.5 1705.3,1111.1 1774.8,1103.6 1664.8,1024.6 1608.1,1303.7 1492,1152.1 1686.9,1053.3 1744.5,1099 1459.5,1136 1586.7,899.4 1751.5,1169.8 1592.6,1270 1562.4,1270.8 1498.3,1106.9 1371.9,1184.7 1481.9,1343 1687,1200.4 1784.2,1099.2 1546.3,1061.4 1554.4,1215 1619,1164.6 1622.6,1074.1 1777.8,1024.1 1622,1236.2 1448,1126.8 1637,987.3 1828,932.8 1631.8,1028.4 1405.8,1342 1758.2,1124.8 1561.3,1093 1656.8,1076 1606.4,1265.9 1476.2,1196.6 1737,1147.1 1630.5,1208.5 1738.3,1042.3 1569.1,1103.5 1724,1139.9 1753.1,1087.3 1682.8,1088.5 1569.6,1118.8 1710.4,1072.4 1498.3,1275.1 1568.8,1219.2 1753.7,1033.3 1726.1,985.2 1570.4,1177.7 1547.6,1180.8 1791.2,955.6 1797.6,996.9 1796.6,980.4 1668.6,1089.4 1698.5,968.3 1503.4,1185.5 1595.9,1151.2 1836.9,969.4 1482.4,1242 1540,1139.7 1762.6,1013.9 1774.5,976.7 1744.4,1105.7 1642.7,1111.2 1632.6,1231.7 1731.3,1130.4 1666.5,1168 1825,934.3 1549.6,1193.3 1627.6,984.3 1507.2,1164.7 1646.6,1157.1 1480.8,1162.3 1698.8,1222.3 1669,1200.3 1398.6,1305.7 1628.8,1028.4 1679.5,1061.1 1520.1,1187.7 1736.4,1022.2 1773.7,981.2 1700.8,1083.9 1825.9,890.7 1612.5,1020.5 1658,1268.5 1841.8,1068.7 1452.9,1214.3 1813.4,965.5 1517.9,1346.6 1761.5,1039.2 1721.6,960.3 1523.3,1366 1638.1,1101.6 1796.8,990.9 1692.3,1125.4 1549.5,1214.5 1682.6,1237.4 1573.3,1165.8 1812,1076.4 1546.2,1148.5 1652.7,1129.9 1679.3,1267.2 1628.1,1239.1 1782.1,1029.2 1658.5,1221.1 1804.3,1000.8 1533.6,1141.4 1488.2,1189.6 1635.1,1091 1474.9,1277.7 1614.5,1012.9 1443.6,1200 1639.2,1206.7 1512.1,1237.6 1759.1,988.7 1501.9,1126.8 1561.8,1129.8 1666.4,1113.1 1552.3,1162.2 1571.1,1229.6 1507.6,1127.4 1703.1,1154.2 1708.5,1031.7 1539.1,1263.2 1579.1,1103.6 1622.9,1162.4 1508.1,1297.5 1625.9,1172.5 1563.7,1294.2 1727.4,1055 1664.5,1095.1 1507.4,1310.4 1681.1,1095.3 1675.9,1116.4 1751,1047.9 1707.7,1068.3 1594.4,1142.7 1645.6,1188.6 1705.2,1128.9 1645.3,1045.6 1399.7,1249.3 1762.3,1026.4 1545.8,1177.4 1563.1,1047.4 1521.5,1042.7 1783.2,996.8 1528,1139.3 1731,1159.5 1646.6,1145.6 1648.5,1149.8 1399.3,1274.3 1802.4,1040.6 1717.7,1051.4 1797.4,937.7 1477.2,1315.8 1519.8,1216 1562.3,1239.8 1629.7,1352.9 1572.7,1201.7 1533.8,1214.2 1533,1331.2 1545.3,1185.9 1503.8,1076.2 1701.9,1131.4 1492.7,1364.6 1513,1180.4 1832.3,1009.7 1549.7,1208.6 1727.3,1051.9 1493.4,1232.9 1528.9,1118.3 1592.7,1113.5 1516.8,1127.7 1575,1111.4 1582.3,1137 1678.8,1204.7 1644.6,1055.2 1690.7,1092.6 1622.2,1134.5 1827.1,1004.7 1413.1,1288.6 1782.4,1052 1605.5,1206.3 1603.9,1046.3 1747,1041.6 1688.8,1268.3 1727.9,1104.8 1492.4,1142.1 1835.3,939.9 1681.5,1146.5 1762.2,988.6 1779.6,984.9 1454.7,1180.1 1695.9,1121.9 1555.6,1184.2 1662.8,1040.8 1698.1,1181.1 1727.4,1108 1472.6,1257.3 1580.7,1191 1500.2,1296.2 1523.1,1199.6 1802.6,1063.3 1590.7,1079.3"/><line x1="1771.5" y1="817.6" x2="1771.5" y2="1394" stroke="#ff0000" stroke-width="1.3"/><line x1="1247" y1="992.5" x2="1890.2" y2="992.5" stroke="#ff0000" stroke-width="1.3"/><rect x="1247" y="817.6" width="643.2" height="576.4" fill="none" stroke="#222" stroke-width="1.3"/><line x1="1235.5" y1="1373" x2="1247" y2="1373" stroke="#333" stroke-width="1.2"/><text x="1221" y="1373" font-size="22" text-anchor="middle" transform="rotate(-90 1221 1373)">0.0</text><line x1="1235.5" y1="1296.9" x2="1247" y2="1296.9" stroke="#333" stroke-width="1.2"/><text x="1221" y="1296.9" font-size="22" text-anchor="middle" transform="rotate(-90 1221 1296.9)">0.1</text><line x1="1235.5" y1="1220.8" x2="1247" y2="1220.8" stroke="#333" stroke-width="1.2"/><text x="1221" y="1220.8" font-size="22" text-anchor="middle" transform="rotate(-90 1221 1220.8)">0.2</text><line x1="1235.5" y1="1144.7" x2="1247" y2="1144.7" stroke="#333" stroke-width="1.2"/><text x="1221" y="1144.7" font-size="22" text-anchor="middle" transform="rotate(-90 1221 1144.7)">0.3</text><line x1="1235.5" y1="1068.6" x2="1247" y2="1068.6" stroke="#333" stroke-width="1.2"/><text x="1221" y="1068.6" font-size="22" text-anchor="middle" transform="rotate(-90 1221 1068.6)">0.4</text><line x1="1235.5" y1="992.5" x2="1247" y2="992.5" stroke="#333" stroke-width="1.2"/><text x="1221" y="992.5" font-size="22" text-anchor="middle" transform="rotate(-90 1221 992.5)">0.5</text><line x1="1235.5" y1="916.4" x2="1247" y2="916.4" stroke="#333" stroke-width="1.2"/><text x="1221" y="916.4" font-size="22" text-anchor="middle" transform="rotate(-90 1221 916.4)">0.6</text><line x1="1235.5" y1="840.3" x2="1247" y2="840.3" stroke="#333" stroke-width="1.2"/><text x="1221" y="840.3" font-size="22" text-anchor="middle" transform="rotate(-90 1221 840.3)">0.7</text><line x1="1263.5" y1="1394" x2="1263.5" y2="1406" stroke="#333" stroke-width="1.2"/><text x="1263.5" y="1434.5" font-size="22" text-anchor="middle">0.0</text><line x1="1390.5" y1="1394" x2="1390.5" y2="1406" stroke="#333" stroke-width="1.2"/><text x="1390.5" y="1434.5" font-size="22" text-anchor="middle">0.2</text><line x1="1517.5" y1="1394" x2="1517.5" y2="1406" stroke="#333" stroke-width="1.2"/><text x="1517.5" y="1434.5" font-size="22" text-anchor="middle">0.4</text><line x1="1644.5" y1="1394" x2="1644.5" y2="1406" stroke="#333" stroke-width="1.2"/><text x="1644.5" y="1434.5" font-size="22" text-anchor="middle">0.6</text><line x1="1771.5" y1="1394" x2="1771.5" y2="1406" stroke="#333" stroke-width="1.2"/><text x="1771.5" y="1434.5" font-size="22" text-anchor="middle">0.8</text><text x="1575" y="1480" font-size="27.4" font-weight="bold" text-anchor="middle">Module Membership in blue module</text><text x="1175.5" y="1100" font-size="27.4" font-weight="bold" text-anchor="middle" transform="rotate(-90 1175.5 1100)">Gene significance for&#160; AMI</text><text x="1576.6" y="26.3" font-size="32.8" font-weight="bold" text-anchor="middle">Gene dendrogram and module colors</text><line x1="1210.3" y1="43.8" x2="1210.3" y2="519.3" stroke="#333" stroke-width="1.2"/><line x1="1201" y1="519.3" x2="1210.3" y2="519.3" stroke="#333" stroke-width="1.1"/><text x="1189.5" y="519.3" font-size="21.5" text-anchor="middle" transform="rotate(-90 1189.5 519.3)">0.0</text><line x1="1201" y1="424.2" x2="1210.3" y2="424.2" stroke="#333" stroke-width="1.1"/><text x="1189.5" y="424.2" font-size="21.5" text-anchor="middle" transform="rotate(-90 1189.5 424.2)">0.2</text><line x1="1201" y1="329.1" x2="1210.3" y2="329.1" stroke="#333" stroke-width="1.1"/><text x="1189.5" y="329.1" font-size="21.5" text-anchor="middle" transform="rotate(-90 1189.5 329.1)">0.4</text><line x1="1201" y1="234" x2="1210.3" y2="234" stroke="#333" stroke-width="1.1"/><text x="1189.5" y="234" font-size="21.5" text-anchor="middle" transform="rotate(-90 1189.5 234)">0.6</text><line x1="1201" y1="138.9" x2="1210.3" y2="138.9" stroke="#333" stroke-width="1.1"/><text x="1189.5" y="138.9" font-size="21.5" text-anchor="middle" transform="rotate(-90 1189.5 138.9)">0.8</text><line x1="1201" y1="43.8" x2="1210.3" y2="43.8" stroke="#333" stroke-width="1.1"/><text x="1189.5" y="43.8" font-size="21.5" text-anchor="middle" transform="rotate(-90 1189.5 43.8)">1.0</text><text x="1154" y="283.2" font-size="27.4" font-weight="bold" text-anchor="middle" transform="rotate(-90 1154 283.2)">Height</text><path d="M1253 69V531.4M1267.2 69V531.4M1281.5 69V531.4M1295.7 69V531.4M1310 69V531.4M1324.2 69V531.4M1338.5 69V531.4M1352.7 69V531.4M1367 69V531.4M1381.2 69V531.4M1395.5 69V531.4M1409.7 69V531.4M1423.9 69V531.4M1438.2 69V531.4M1452.4 69V531.4M1466.7 69V531.4M1480.9 69V531.4M1495.2 69V531.4M1509.4 69V531.4M1523.7 69V531.4M1537.9 69V531.4M1552.1 69V531.4M1566.4 69V531.4M1580.6 69V531.4M1594.9 69V531.4M1609.1 69V531.4M1623.4 69V531.4M1637.6 69V531.4M1651.9 69V531.4M1666.1 69V531.4M1680.3 69V531.4M1694.6 69V531.4M1708.8 69V531.4M1723.1 69V531.4M1737.3 69V531.4M1751.6 69V531.4M1765.8 69V531.4M1780.1 69V531.4M1794.3 69V531.4M1808.6 69V531.4M1822.8 69V531.4M1837 69V531.4M1851.3 69V531.4M1865.5 69V531.4M1879.8 69V531.4M1894 69V531.4M1908.3 69V531.4M1922.5 69V531.4M1936.8 69V531.4M1951 69V531.4" stroke="#a8a8a8" stroke-width="1.2" stroke-dasharray="1.5 2.2" fill="none"/><line x1="1238" y1="43.5" x2="1747" y2="43.5" stroke="#555" stroke-width="1.0"/><path d="M1747,44 L1800,45.8 L1840,47.8 L1880,48.3" stroke="#444" stroke-width="1.1" fill="none"/><path d="M1238,43.3 1239,43.3 1240,43.3 1241,43.3 1242,43.3 1243,43.3 1244,43.3 1245,43.3 1246,43.3 1247,43.3 1248,43.3 1249,43.3 1250,43.3 1251,43.3 1252,43.3 1253,43.3 1254,43.3 1255,43.3 1256,43.3 1257,43.3 1258,43.3 1259,43.3 1260,43.3 1261,43.3 1262,43.3 1263,43.3 1264,43.3 1265,43.3 1266,43.3 1267,43.3 1268,43.3 1269,43.3 1270,43.3 1271,43.3 1272,43.3 1273,43.3 1274,43.3 1275,43.3 1276,43.3 1277,43.3 1278,43.3 1279,43.3 1280,43.3 1281,43.3 1282,43.3 1283,43.3 1284,43.3 1285,43.3 1286,43.3 1287,43.3 1288,43.3 1289,43.3 1290,43.3 1291,43.3 1292,43.3 1293,43.3 1294,43.3 1295,43.3 1296,43.3 1297,43.3 1298,43.3 1299,43.3 1300,43.3 1301,43.3 1302,43.3 1303,43.3 1304,43.3 1305,43.3 1306,43.3 1307,43.3 1308,43.3 1309,43.3 1310,43.3 1311,43.3 1312,43.3 1313,43.3 1314,43.3 1315,43.3 1316,43.3 1317,43.3 1318,43.3 1319,43.3 1320,43.3 1321,43.3 1322,43.3 1323,43.3 1324,43.3 1325,43.3 1326,43.3 1327,43.3 1328,43.3 1329,43.3 1330,43.3 1331,43.3 1332,43.3 1333,43.3 1334,43.3 1335,43.3 1336,43.3 1337,43.3 1338,43.3 1339,43.3 1340,43.3 1341,43.3 1342,43.3 1343,43.3 1344,43.3 1345,43.3 1346,43.3 1347,43.3 1348,43.3 1349,43.3 1350,43.3 1351,43.3 1352,43.3 1353,43.3 1354,43.3 1355,43.3 1356,43.3 1357,43.3 1358,43.3 1359,43.3 1360,43.3 1361,43.3 1362,43.3 1363,43.3 1364,43.3 1365,43.3 1366,43.3 1367,43.3 1368,43.3 1369,43.3 1370,43.3 1371,43.3 1372,43.3 1373,43.3 1374,43.3 1375,43.3 1376,43.3 1377,43.3 1378,43.3 1379,43.3 1380,43.3 1381,43.3 1382,43.3 1383,43.3 1384,43.3 1385,43.3 1386,43.3 1387,43.3 1388,43.3 1389,43.3 1390,43.3 1391,43.3 1392,43.3 1393,43.3 1394,43.3 1395,43.3 1396,43.3 1397,43.3 1398,43.3 1399,43.3 1400,43.3 1401,43.3 1402,43.3 1403,43.3 1404,43.3 1405,43.3 1405,58 1404,58 1403,58 1402,57.9 1401,57.9 1400,57.9 1399,57.8 1398,57.8 1397,57.8 1396,57.7 1395,57.7 1394,57.6 1393,57.6 1392,57.6 1391,57.5 1390,57.5 1389,57.5 1388,57.5 1387,57.5 1386,57.5 1385,57.4 1384,57.4 1383,57.4 1382,57.4 1381,57.4 1380,57.4 1379,57.4 1378,57.4 1377,57.3 1376,57.3 1375,57.3 1374,57.3 1373,57.3 1372,57.3 1371,57.3 1370,57.2 1369,57.2 1368,57.2 1367,57.2 1366,57.2 1365,57.2 1364,57.2 1363,57.2 1362,57.1 1361,57.1 1360,57.1 1359,57.1 1358,57.1 1357,57.1 1356,57.1 1355,57.1 1354,57 1353,57 1352,57 1351,57 1350,57 1349,57 1348,57 1347,57 1346,57 1345,57 1344,57 1343,57 1342,57 1341,57 1340,57 1339,57 1338,57 1337,57 1336,57 1335,57 1334,57 1333,57 1332,57 1331,57 1330,57 1329,57 1328,57 1327,57 1326,57 1325,57 1324,57 1323,57 1322,57 1321,57 1320,57 1319,57 1318,57 1317,57 1316,57 1315,57 1314,57 1313,57 1312,57 1311,57 1310,57 1309,57 1308,57 1307,57 1306,57 1305,57 1304,57 1303,57 1302,57 1301,57 1300,57 1299,57 1298,57 1297,57 1296,57 1295,57 1294,57 1293,57 1292,57 1291,57 1290,57 1289,57 1288,57 1287,57 1286,57 1285,57 1284,57 1283,57 1282,57 1281,57 1280,57 1279,57 1278,57 1277,57 1276,57 1275,57 1274,57 1273,57 1272,57 1271,57 1270,57 1269,57 1268,57 1267,57 1266,57 1265,57 1264,57 1263,57 1262,57 1261,57 1260,57 1259,57 1258,57 1257,57 1256,57 1255,57 1254,57 1253,57 1252,57 1251,57 1250,57 1249,57 1248,57 1247,57 1246,57 1245,57 1244,57 1243,57 1242,57 1241,57 1240,57 1239,57 1238,57Z" fill="#000"/><path d="M1396,55 1397,55 1398,55 1399,55 1400,55 1401,55 1402,55 1403,55 1403,62 1402,77 1401,92 1400,88.5 1399,85 1398,76.7 1397,68.3 1396,60Z" fill="#000"/><path d="M1404.5,44 C1409,70 1413,120 1416,180 L1418.3,273" stroke="#000" stroke-width="2.2" fill="none"/><path d="M1419.5,43.3 1420.5,43.3 1421.5,43.3 1422.5,43.3 1423.5,43.3 1424.5,43.3 1425.5,43.3 1426.5,43.3 1427.5,43.3 1428.5,43.3 1429.5,43.3 1430.5,43.3 1431.5,43.3 1432.5,43.3 1433.5,43.3 1434.5,43.3 1435.5,43.3 1436.5,43.3 1437.5,43.3 1438.5,43.3 1439.5,43.3 1440.5,43.3 1441.5,43.3 1442.5,43.3 1443.5,43.3 1444.5,43.3 1445.5,43.3 1446.5,43.3 1447.5,43.3 1448.5,43.3 1449.5,43.3 1450.5,43.3 1451.5,43.3 1452.5,43.3 1453.5,43.3 1454.5,43.3 1455.5,43.3 1456.5,43.3 1457.5,43.3 1458.5,43.3 1459.5,43.3 1460.5,43.3 1461.5,43.3 1462.5,43.3 1463.5,43.3 1464.5,43.3 1465.5,43.3 1466.5,43.3 1467.5,43.3 1468.5,43.3 1469.5,43.3 1470.5,43.3 1471.5,43.3 1472.5,43.3 1473.5,43.3 1474.5,43.3 1475.5,43.3 1476.5,43.3 1477.5,43.3 1478.5,43.3 1479.5,43.3 1480.5,43.3 1481.5,43.3 1482.5,43.3 1483.5,43.3 1484.5,43.3 1485.5,43.3 1486.5,43.3 1487.5,43.3 1488.5,43.3 1489.5,43.3 1490.5,43.3 1491.5,43.3 1492.5,43.3 1493.5,43.3 1494.5,43.3 1495.5,43.3 1496.5,43.3 1497.5,43.3 1498.5,43.3 1499.5,43.3 1500.5,43.3 1501.5,43.3 1502.5,43.3 1503.5,43.3 1504.5,43.3 1505.5,43.3 1506.5,43.3 1507.5,43.3 1508.5,43.3 1509.5,43.3 1510.5,43.3 1511.5,43.3 1512.5,43.3 1513.5,43.3 1514.5,43.3 1515.5,43.3 1516.5,43.3 1517.5,43.3 1518.5,43.3 1519.5,43.3 1520.5,43.3 1521.5,43.3 1522.5,43.3 1523.5,43.3 1524.5,43.3 1525.5,43.3 1526.5,43.3 1527.5,43.3 1528.5,43.3 1529.5,43.3 1530,43.3 1530,60 1529.5,60 1528.5,60 1527.5,60 1526.5,60 1525.5,60 1524.5,60 1523.5,60 1522.5,60 1521.5,60 1520.5,60 1519.5,60 1518.5,60 1517.5,60 1516.5,60 1515.5,60 1514.5,60 1513.5,60 1512.5,60 1511.5,60 1510.5,60 1509.5,60 1508.5,60 1507.5,60 1506.5,60 1505.5,60 1504.5,60 1503.5,60 1502.5,60 1501.5,60 1500.5,60 1499.5,60 1498.5,60 1497.5,59.9 1496.5,59.9 1495.5,59.9 1494.5,59.9 1493.5,59.8 1492.5,59.8 1491.5,59.8 1490.5,59.8 1489.5,59.7 1488.5,59.7 1487.5,59.7 1486.5,59.7 1485.5,59.6 1484.5,59.6 1483.5,59.6 1482.5,59.6 1481.5,59.5 1480.5,59.5 1479.5,59.5 1478.5,59.5 1477.5,59.4 1476.5,59.4 1475.5,59.4 1474.5,59.4 1473.5,59.3 1472.5,59.3 1471.5,59.3 1470.5,59.3 1469.5,59.2 1468.5,59.2 1467.5,59.2 1466.5,59.2 1465.5,59.1 1464.5,59.1 1463.5,59.1 1462.5,59.1 1461.5,59 1460.5,59 1459.5,59 1458.5,59 1457.5,58.9 1456.5,58.9 1455.5,58.9 1454.5,58.9 1453.5,58.8 1452.5,58.8 1451.5,58.8 1450.5,58.8 1449.5,58.7 1448.5,58.7 1447.5,58.7 1446.5,58.7 1445.5,58.6 1444.5,58.6 1443.5,58.6 1442.5,58.6 1441.5,58.5 1440.5,58.5 1439.5,58.5 1438.5,58.5 1437.5,58.4 1436.5,58.4 1435.5,58.4 1434.5,58.4 1433.5,58.3 1432.5,58.3 1431.5,58.3 1430.5,58.3 1429.5,58.2 1428.5,58.2 1427.5,58.2 1426.5,58.2 1425.5,58.1 1424.5,58.1 1423.5,58.1 1422.5,58.1 1421.5,58 1420.5,58 1419.5,58Z" fill="#000"/><path d="M1436,55 1437,55 1438,55 1439,55 1440,55 1441,55 1442,55 1442,60 1441,61.3 1440,62.7 1439,64 1438,62.7 1437,61.3 1436,60Z" fill="#000"/><path d="M1460,55 1461,55 1462,55 1463,55 1464,55 1465,55 1466,55 1467,55 1468,55 1468,60 1467,62.8 1466,65.5 1465,68.2 1464,71 1463,68.2 1462,65.5 1461,62.8 1460,60Z" fill="#000"/><path d="M1474,55 1475,55 1476,55 1477,55 1478,55 1479,55 1480,55 1480,60 1479,70.3 1478,80.7 1477,91 1476,80.7 1475,70.3 1474,60Z" fill="#000"/><path d="M1493,55 1494,55 1495,55 1496,55 1497,55 1498,55 1499,55 1500,55 1500,60 1499,80.8 1498,101.6 1497,106.2 1496,94.7 1495,83.1 1494,71.6 1493,60Z" fill="#000"/><path d="M1502,55 1503,55 1504,55 1505,55 1506,55 1507,55 1508,55 1508.5,55 1508.5,60 1508,68.4 1507,85.2 1506,102 1505,91.5 1504,81 1503,70.5 1502,60Z" fill="#000"/><path d="M1511,55 1512,55 1513,55 1514,55 1515,55 1516,55 1517,55 1518,55 1519,55 1520,55 1521,55 1522,55 1523,55 1524,55 1525,55 1525.5,55 1525.5,62 1525,69.7 1524,85 1523,101 1522,117 1521,110.3 1520,103.7 1519,97 1518,91.3 1517,85.7 1516,80 1515,76 1514,72 1513,68 1512,64 1511,60Z" fill="#000"/><path d="M1515,44.5 L1523,44.5 L1522,52 Z" fill="#fff"/><path d="M1523,43.6 1524,43.6 1525,43.6 1526,43.7 1527,43.7 1528,43.7 1529,43.7 1530,43.8 1531,43.8 1532,43.8 1533,43.8 1534,43.8 1535,43.9 1536,43.9 1537,43.9 1538,43.9 1539,43.9 1540,44 1541,44 1542,44 1543,44 1544,44 1545,44.1 1546,44.1 1547,44.1 1548,44.1 1549,44.2 1550,44.2 1551,44.2 1552,44.2 1553,44.2 1554,44.3 1555,44.3 1556,44.3 1557,44.3 1558,44.4 1559,44.4 1560,44.4 1561,44.4 1562,44.4 1563,44.5 1564,44.5 1565,44.5 1566,44.6 1567,44.6 1568,44.7 1569,44.8 1570,44.9 1571,44.9 1572,45 1573,45.1 1574,45.1 1575,45.2 1576,45.3 1577,45.4 1578,45.4 1579,45.5 1580,45.6 1581,45.6 1582,45.7 1583,45.8 1584,45.9 1585,45.9 1586,46 1587,46.1 1588,46.1 1589,46.2 1590,46.3 1591,46.4 1592,46.4 1593,46.5 1594,46.6 1595,46.6 1596,46.7 1597,46.8 1598,46.9 1599,46.9 1600,47 1601,47.1 1602,47.2 1603,47.3 1604,47.4 1605,47.5 1606,47.6 1607,47.7 1608,47.8 1609,47.9 1610,48 1611,48.1 1612,48.2 1613,48.3 1614,48.4 1615,48.5 1616,48.6 1617,48.7 1618,48.8 1619,48.8 1620,48.9 1621,49 1622,49.1 1623,49.2 1624,49.3 1625,49.4 1626,49.5 1627,49.6 1628,49.7 1629,49.8 1630,49.9 1631,50 1632,50.1 1633,50.2 1634,50.3 1635,50.4 1636,50.5 1637,50.9 1638,51.2 1639,51.5 1640,51.9 1641,52.2 1642,52.6 1643,53 1644,53.3 1645,53.6 1646,54 1647,54.9 1648,55.7 1649,56.6 1650,57.4 1651,58.3 1652,59.1 1653,60 1654,61.3 1655,62.7 1656,64 1657,65.3 1658,66.7 1659,68 1660,70 1661,72 1662,74 1663,76 1664,78 1664.5,78 1664.5,92 1664,92 1663,91.5 1662,91 1661,90.5 1660,90 1659,88.2 1658,86.4 1657,84.6 1656,82.8 1655,81 1654,80.2 1653,79.4 1652,78.6 1651,77.8 1650,77 1649,76.2 1648,75.4 1647,74.6 1646,73.8 1645,73 1644,72.6 1643,72.2 1642,71.8 1641,71.4 1640,71 1639,70.6 1638,70.2 1637,69.8 1636,69.4 1635,69 1634,68.6 1633,68.2 1632,67.8 1631,67.4 1630,67 1629,66.9 1628,66.8 1627,66.7 1626,66.6 1625,66.5 1624,66.4 1623,66.3 1622,66.2 1621,66.1 1620,66 1619,65.9 1618,65.8 1617,65.7 1616,65.6 1615,65.5 1614,65.4 1613,65.3 1612,65.2 1611,65.1 1610,65 1609,65.5 1608,66 1607,66.5 1606,67 1605,67.5 1604,68 1603,68.5 1602,69 1601,69.5 1600,70 1599,69.3 1598,68.6 1597,67.9 1596,67.2 1595,66.5 1594,65.8 1593,65.1 1592,64.4 1591,63.7 1590,63 1589,63 1588,62.9 1587,62.9 1586,62.8 1585,62.8 1584,62.7 1583,62.7 1582,62.6 1581,62.6 1580,62.6 1579,62.5 1578,62.5 1577,62.4 1576,62.4 1575,62.3 1574,62.3 1573,62.2 1572,62.2 1571,62.1 1570,62.1 1569,62.1 1568,62 1567,62 1566,61.9 1565,61.9 1564,61.8 1563,61.8 1562,61.7 1561,61.7 1560,61.7 1559,61.6 1558,61.6 1557,61.5 1556,61.5 1555,61.4 1554,61.4 1553,61.3 1552,61.3 1551,61.3 1550,61.2 1549,61.2 1548,61.1 1547,61.1 1546,61 1545,61 1544,60.9 1543,60.9 1542,60.9 1541,60.8 1540,60.8 1539,60.7 1538,60.7 1537,60.6 1536,60.6 1535,60.5 1534,60.5 1533,60.4 1532,60.4 1531,60.4 1530,60.3 1529,60.3 1528,60.2 1527,60.2 1526,60.1 1525,60.1 1524,60 1523,60Z" fill="#000"/><line x1="1523" y1="43.4" x2="1665" y2="43.4" stroke="#666" stroke-width="1.0"/><path d="M1664.5,43.5 1665.5,43.5 1666.5,43.5 1667.5,43.6 1668.5,43.6 1669.5,43.6 1670.5,43.6 1671.5,43.6 1672.5,43.7 1673.5,43.7 1674.5,43.7 1675.5,43.7 1676.5,43.7 1677.5,43.8 1678.5,43.8 1679.5,43.8 1680.5,43.8 1681.5,43.8 1682.5,43.9 1683.5,43.9 1684.5,43.9 1685.5,43.9 1686.5,43.9 1687.5,44 1688.5,44 1689.5,44 1690.5,44.2 1691.5,44.6 1692.5,44.9 1693.5,45.3 1694.5,45.7 1695.5,46.1 1696.5,46.4 1697.5,46.8 1698.5,47.5 1699.5,48.5 1700.5,49.5 1701.5,50.5 1702.5,51.5 1703.5,53.2 1704.5,55.8 1705.5,58.2 1706.5,60.8 1707,62 1707,99 1706.5,97.8 1705.5,95.4 1704.5,92.9 1703.5,90.5 1702.5,88.1 1701.5,85.6 1700.5,83.2 1699.5,81.4 1698.5,80.2 1697.5,79 1696.5,77.8 1695.5,76.6 1694.5,75.4 1693.5,74.2 1692.5,73 1691.5,71.8 1690.5,70.6 1689.5,69.7 1688.5,69.1 1687.5,68.5 1686.5,67.9 1685.5,67.3 1684.5,66.7 1683.5,66.1 1682.5,65.5 1681.5,64.9 1680.5,64.3 1679.5,63.9 1678.5,63.6 1677.5,63.4 1676.5,63.1 1675.5,62.8 1674.5,62.6 1673.5,62.3 1672.5,62.1 1671.5,61.8 1670.5,61.5 1669.5,61.3 1668.5,61 1667.5,60.8 1666.5,60.5 1665.5,60.3 1664.5,60Z" fill="#000"/><path d="M1707,44 1708,44.1 1709,44.2 1710,44.4 1711,44.5 1712,44.6 1713,44.8 1714,44.9 1715,45 1716,46 1717,47 1718,48 1719,49 1720,50 1721,52.9 1722,55.7 1723,58.6 1723.5,60 1723.5,98 1723,96.6 1722,93.9 1721,91.2 1720,88.5 1719,85.8 1718,83.1 1717,80.4 1716,77.7 1715,75 1714,73.4 1713,71.8 1712,70.1 1711,68.5 1710,66.9 1709,65.2 1708,63.6 1707,62Z" fill="#000"/><path d="M1723.5,44 1724.5,44.2 1725.5,44.3 1726.5,44.5 1727.5,44.6 1728.5,44.8 1729.5,44.9 1730.5,45.7 1731.5,47.1 1732.5,48.5 1733.5,49.9 1734.5,51.3 1735.5,53.7 1736.5,57 1737.5,60.3 1738,62 1738,110 1737.5,108.1 1736.5,104.4 1735.5,100.6 1734.5,96.9 1733.5,93.1 1732.5,89.4 1731.5,85.6 1730.5,81.9 1729.5,78.8 1728.5,76.3 1727.5,73.8 1726.5,71.4 1725.5,68.9 1724.5,66.5 1723.5,64Z" fill="#000"/><path d="M1738,45 1739,45.5 1740,46 1741,46.5 1742,47 1743,48 1744,49 1745,50 1746,51 1747,52 1747,130 1746,124 1745,118 1744,112 1743,106 1742,100 1741,92.5 1740,85 1739,77.5 1738,70Z" fill="#000"/><path d="M1747,44.5 1748,44.5 1749,44.6 1750,44.6 1751,44.6 1752,44.6 1753,44.7 1754,44.7 1755,44.7 1756,44.8 1757,44.8 1758,44.8 1759,44.8 1760,44.9 1761,44.9 1762,44.9 1763,44.9 1764,45 1765,45 1766,45.1 1767,45.1 1768,45.2 1769,45.2 1770,45.3 1771,45.4 1772,45.4 1773,45.5 1774,45.5 1775,45.6 1776,45.7 1777,45.7 1778,45.8 1779,45.8 1780,45.9 1781,46 1782,46 1783,46.1 1784,46.1 1785,46.2 1786,46.3 1787,46.3 1788,46.4 1789,46.4 1790,46.5 1791,46.6 1792,46.7 1793,46.8 1794,46.8 1795,46.9 1796,47 1797,47.1 1798,47.2 1799,47.3 1800,47.4 1801,47.5 1802,47.5 1803,47.6 1804,47.7 1805,47.8 1806,47.9 1807,48 1808,48.1 1809,48.2 1810,48.2 1811,48.3 1812,48.4 1813,48.5 1814,48.8 1815,49.2 1816,49.5 1817,49.8 1818,50.2 1819,50.5 1820,50.8 1821,51.2 1822,51.5 1823,51.8 1824,52.2 1825,52.5 1826,52.9 1827,53.2 1828,53.6 1829,54 1830,54.3 1831,54.7 1832,55.1 1833,55.4 1834,55.8 1835,56.2 1836,56.5 1837,56.9 1838,57.3 1839,57.6 1840,58 1841,58.5 1842,59 1843,59.5 1844,60 1845,60.5 1846,61 1847,61.5 1848,62 1849,62.5 1850,63 1851,63.7 1852,64.4 1853,65.1 1854,65.8 1855,66.5 1856,67.2 1857,67.9 1858,68.6 1859,69.3 1860,70 1861,71 1862,72 1863,73 1864,74 1865,75 1866,76 1867,77 1868,78.8 1869,80.7 1870,82.5 1871,84.3 1872,86.2 1873,88 1874,91 1875,94 1876,97 1877,100 1878,107.5 1879,115 1879.6,147 1879.6,147 1879,144.8 1878,141.1 1877,137.4 1876,133.7 1875,130 1874,127 1873,124 1872,121 1871,118 1870,115 1869,113.6 1868,112.2 1867,110.8 1866,109.4 1865,108 1864,106.6 1863,105.2 1862,103.8 1861,102.4 1860,101 1859,100.4 1858,99.8 1857,99.2 1856,98.6 1855,98 1854,97.4 1853,96.8 1852,96.2 1851,95.6 1850,95 1849,94.2 1848,93.4 1847,92.6 1846,91.8 1845,91 1844,90.2 1843,89.4 1842,88.6 1841,87.8 1840,87 1839,86.2 1838,85.4 1837,84.6 1836,83.8 1835,83 1834,82.7 1833,82.3 1832,82 1831,81.7 1830,81.3 1829,81 1828,80.7 1827,80.3 1826,80 1825,79.7 1824,79.3 1823,79 1822,78.7 1821,78.3 1820,78 1819,77.6 1818,77.2 1817,76.8 1816,76.4 1815,76 1814,75.6 1813,75.2 1812,74.8 1811,74.4 1810,74 1809,73.6 1808,73.2 1807,72.8 1806,72.4 1805,72 1804,72.3 1803,72.5 1802,72.8 1801,73.1 1800,73.3 1799,73.6 1798,73.9 1797,74.1 1796,74.4 1795,74.7 1794,74.9 1793,75.2 1792,75.5 1791,75.7 1790,76 1789,75.6 1788,75.2 1787,74.8 1786,74.4 1785,74 1784,73.6 1783,73.2 1782,72.8 1781,72.4 1780,72 1779,71.6 1778,71.2 1777,70.8 1776,70.4 1775,70 1774,69.3 1773,68.6 1772,67.9 1771,67.2 1770,66.5 1769,65.8 1768,65.1 1767,64.4 1766,63.7 1765,63 1764,62.9 1763,62.9 1762,62.8 1761,62.8 1760,62.7 1759,62.7 1758,62.6 1757,62.6 1756,62.5 1755,62.4 1754,62.4 1753,62.3 1752,62.3 1751,62.2 1750,62.2 1749,62.1 1748,62.1 1747,62Z" fill="#000"/><line x1="1812" y1="48.3" x2="1880" y2="48.3" stroke="#222" stroke-width="1.2"/><path d="M1879,48.5 1880,48.7 1881,48.8 1882,49 1883,49.1 1884,49.3 1885,49.4 1886,49.6 1887,49.8 1888,49.9 1889,50.1 1890,50.2 1891,50.4 1892,50.5 1893,50.7 1894,50.8 1895,51 1896,51.1 1897,51.3 1898,51.5 1899,51.6 1900,51.8 1901,51.9 1902,52 1903,52.2 1904,52.4 1905,52.5 1906,52.9 1907,53.2 1908,53.6 1909,53.9 1910,54.3 1911,54.6 1912,55 1913,55 1914,55 1915,55 1916,55 1917,55 1918,55 1919,55 1920,55 1921,55 1922,55 1923,55 1924,55 1925,55 1926,55 1927,55 1928,55 1929,55 1930,55 1931,55 1932,55 1933,55 1934,55 1935,55 1936,55 1937,55 1938,55 1939,55.6 1940,56.1 1941,56.7 1942,57.3 1943,57.9 1944,58.4 1945,59 1946,60.2 1947,61.4 1948,62.6 1949,63.8 1950,65 1951,72.5 1952,80 1952,109 1951,109 1950,106.7 1949,104.3 1948,102 1947,99.7 1946,97.3 1945,95 1944,96.5 1943,98 1942,99.5 1941,101 1940,102.5 1939,104 1938,105.5 1937,107 1936,109.2 1935,111.5 1934,113.8 1933,116 1932,115.9 1931,115.8 1930,115.6 1929,115.5 1928,115.4 1927,115.2 1926,115.1 1925,115 1924,113.5 1923,112 1922,110.5 1921,109 1920,107.5 1919,106 1918,104.5 1917,103 1916,101.5 1915,100 1914,99 1913,98 1912,97 1911,96 1910,95 1909,94 1908,93 1907,92 1906,91.2 1905,90.3 1904,89.5 1903,88.7 1902,87.8 1901,87 1900,86.2 1899,85.3 1898,84.5 1897,83.7 1896,82.8 1895,82 1894,81.2 1893,80.5 1892,79.8 1891,79 1890,78.2 1889,77.5 1888,76.8 1887,76 1886,75.2 1885,74.5 1884,73.8 1883,73 1882,72.2 1881,71.5 1880,70.8 1879,70Z" fill="#000"/><line x1="1913" y1="55" x2="1938" y2="55" stroke="#222" stroke-width="1.2"/><line x1="1917" y1="59" x2="1926" y2="59" stroke="#222" stroke-width="1.1"/><path d="M1914,56 L1925,56 L1925,70 Z M1927,59.5 L1937,59.5 L1937,72 Z" fill="#fff"/><path d="M1259.3 56v3.2M1242.8 56v1.5M1249.7 56v1.8M1373.6 56.3v7.9M1349.8 56v1.9M1295.4 56v5.6M1266.7 56v1.2M1315.4 56v3M1386.7 56.5v1.4M1280.9 56v3.8M1305.1 56v1.4M1361.1 56.1v10.8M1352.9 56v2.3M1311.6 56v4.4M1297.3 56v1.4M1343.7 56v1.8M1252.3 56v1.9M1315.2 56v1.3M1357.3 56.1v14.1M1285.4 56v10M1360 56.1v2.1M1306.9 56v5M1324.1 56v3.1M1242.8 56v4.2M1368.1 56.2v4.3M1363.4 56.2v3.7M1263.4 56v11.2M1361.6 56.1v3.6M1330.1 56v3.2M1371.3 56.3v4.6M1249.2 56v5.3M1448.1 57.7v14.6M1468 58.2v17.9M1425 57.1v3M1520.6 59v11M1522.2 59v2.8M1429.5 57.2v5.9M1519.3 59v6M1440.1 57.5v9.1M1519 59v7.4M1515.2 59v6.3M1481 58.5v8.7M1525.3 59v6.7M1468.6 58.2v2.3M1502 59v7.5M1441.8 57.5v8.9M1468.2 58.2v2.4M1447.4 57.7v16.1M1464.6 58.1v7.4M1449.8 57.7v2M1452.5 57.8v10.4M1439.9 57.5v4.6M1434.7 57.4v11.6M1498 58.9v6.6M1462.6 58.1v7.9M1469.6 58.2v8.4M1516.5 59v3M1489.2 58.7v1.8M1477.7 58.4v8.2M1475.4 58.4v2.7M1515.5 59v6.6M1438 57.5v19M1482.5 58.6v9.4M1519.6 59v1.5M1528.5 59v15M1488.9 58.7v5.1M1456.6 57.9v4.7M1515.2 59v2.2M1525.3 59v2.4M1446.7 57.7v5.1M1425 57.1v4.1M1519.6 59v7.8M1519.2 59v6M1485.3 58.6v11.3M1424.6 57.1v8.9M1637.2 68.9v5.1M1611 64.1v11.7M1537.4 59.6v2M1610.3 64v2.4M1653.6 78.9v1.6M1548.5 60.1v4.8M1658.3 85.9v13.9M1560.3 60.7v3.9M1658 85.3v11.8M1534.5 59.5v2.5M1585.5 61.8v3.7M1590.8 62.6v2.8M1584.4 61.8v1.9M1534.8 59.5v1.5M1603.1 67.5v4M1602.7 67.6v5.2M1621.3 65.1v5.6M1524.2 59.1v8.9M1547.8 60.1v12M1571.9 61.2v3.9M1562.8 60.8v9M1575.6 61.4v5M1553.8 60.4v1.3M1530.1 59.3v7.7M1608.4 64.8v2.5M1593.8 64.6v3.3M1651.6 77.3v6M1554.2 60.4v3.9M1540.2 59.8v8.1M1630.6 66.2v4M1639.3 69.7v1.3M1598.9 68.3v13.5M1662.8 90.4v3.5M1604.3 66.8v2.3M1600.6 68.7v3.7M1553.1 60.3v3.1M1656.6 82.8v7.8M1595.9 66.1v11.1M1545.5 60v2.4M1602.3 67.9v1.1M1565 60.9v3.6M1675.3 61.8v4.9M1701.3 84.2v3.7M1670.8 60.6v3.5M1705.6 94.7v2.1M1673.8 61.4v2.8M1666.5 59.5v2.3M1675.1 61.7v13.2M1682.7 64.6v12.6M1698.9 79.6v5.6M1668.8 60.1v4M1674.2 61.5v1.5M1695.5 75.6v4M1675.7 61.9v9.7M1679.6 62.9v5.5M1673.7 61.4v4.5M1695.4 75.5v4.2M1693.4 73v10.1M1695.1 75.2v1.8M1701.6 85v2.1M1679.7 62.9v11.6M1693.3 73v1.3M1679.6 62.9v12.6M1669.7 60.3v1.1M1689.2 68.5v4.6M1674.4 61.6v3.7M1677.4 62.3v2.9M1706.8 97.5v4.1M1686 66.6v6.5M1688.3 68v6.1M1671.8 60.9v1.6M1679.1 62.8v1.8M1710.1 66v1.6M1719 84.8v3.2M1707.5 61.9v5.2M1707 61v5.7M1714.2 72.7v3.3M1708.1 62.8v1.5M1707 61v3.7M1717.2 79.8v12.8M1717.1 79.8v1M1709.7 65.4v5.6M1722.6 94.6v3.1M1707.3 61.5v2.6M1711.1 67.7v11.6M1717.8 81.6v3.3M1724.6 65.6v2.7M1734.7 96.5v3.8M1733.8 93.4v4M1728.9 76.2v6.2M1733 90.1v8M1735.8 100.8v11.7M1732.5 88.5v2.8M1733.8 93.4v11.5M1727.9 73.9v3.4M1734.3 95.1v15M1729.7 78.2v1.7M1787.8 74.1v4.3M1760.6 61.8v2.4M1784.6 72.9v2.4M1825.7 78.9v1.8M1784.7 72.9v4.9M1822.9 78v6.1M1847.8 92.2v2.5M1839.5 85.6v1.8M1853.8 96.3v6.7M1867.4 110.4v1.6M1870.5 115.6v2M1792.2 74.4v2.4M1857.1 98.2v1.6M1836.1 82.9v1.2M1750.8 61.2v4.5M1835.9 82.7v4M1805.1 71.1v1.6M1805.1 71.1v3.3M1805.9 71.4v6M1803.5 71.4v4.9M1852 95.2v3M1844.2 89.4v4.9M1860.6 100.8v5.1M1766.9 63.4v4M1824.6 78.5v8.5M1842.8 88.3v1.8M1874.8 128.4v3.4M1823.5 78.2v2.3M1865.3 107.4v7.1M1809.1 72.6v3M1808.7 72.5v4.4M1865.4 107.5v1.5M1856.5 97.9v5.5M1763.4 61.9v2.4M1842 87.6v6.7M1860 100v1.4M1773.7 68.1v9.3M1757.2 61.6v1.4M1799.7 72.4v1.1M1806 71.4v3.3M1827.3 79.4v1.8M1851.8 95.1v7.3M1747.3 61v3.7M1863.7 105.2v6M1817.7 76.1v5.1M1875.3 130v8.7M1747.1 61v10.1M1757.2 61.6v3.3M1793.5 74.1v1.7M1867.1 109.9v2.1M1878.5 141.8v1.5M1795.4 73.6v1.6M1834.2 81.7v1.3M1840.4 86.3v7M1844.4 89.5v5.5M1868 111.2v7.4M1821.2 77.4v13.9M1780.8 71.3v1.2M1749 61.1v3.2M1832.1 81v3M1865.7 107.9v1.4M1867.8 110.9v1.6M1785.1 73.1v1.8M1864.1 105.7v1.4M1822.3 77.8v7.1M1753.2 61.3v6.3M1774.5 68.7v1.4M1775.5 69.2v2.5M1763.5 61.9v1.1M1864.2 105.9v1.1M1806.9 71.7v12.6M1855 97v1.7M1928.2 114.4v4.9M1920.7 107.6v5.3M1924.1 112.7v8.1M1938.3 104.1v5.6M1885.5 73.9v7.5M1937.6 105.2v2.1M1920 106.6v4.5M1945 94v5M1904.2 88.7v2.3M1884.5 73.2v2.9M1899.8 85v7.4M1920.9 107.8v8.3M1929.3 114.5v2.2M1880.5 70.1v3.1M1938 104.5v11.6M1897.5 83.1v6M1949.8 105.2v1.5M1898.7 84.1v1.1M1945.8 95.8v1.2M1934.8 110.9v2.3M1886.7 74.8v7.3M1914.3 98.3v4.8M1881.2 70.6v4M1932.2 114.9v4.5M1930.1 114.6v1.1M1887.1 75.1v4.1M1926.8 114.2v11.7M1917.6 103v2.7M1897.7 83.3v2.2M1898 83.5v1.3M1882.7 71.8v5.1M1926.4 114.2v3.6M1892.5 79.2v6.9M1909.9 93.9v3.2M1910.1 94.1v3.9M1885.8 74.1v5.5M1891.3 78.2v15M1929.8 114.6v1.8" stroke="#555" stroke-width="1" fill="none"/><path d="M1341.2 56v3.8M1348 56v5.1M1368.8 56.2v6.4M1271.9 56v3.2M1296.6 56v10.4M1371.2 56.3v15M1315.5 56v5.3M1386.7 56.5v2.9M1274 56v1.2M1353.8 56v3.2M1264.5 56v2.1M1243.7 56v2M1289.2 56v4.6M1270.5 56v2.2M1269.6 56v1.1M1286.6 56v6.5M1379.6 56.4v1.9M1294.6 56v4.1M1361.9 56.1v1.4M1262.9 56v4.8M1364 56.2v1.3M1265.1 56v8.2M1343.6 56v2.5M1251.1 56v9.6M1244.4 56v1.4M1296.4 56v1.9M1303.6 56v4.7M1388.6 56.5v5.9M1371.9 56.3v4.3M1282.4 56v13.4M1260.9 56v6M1277.8 56v7.9M1253.9 56v3.6M1294.5 56v15M1312.3 56v5.8M1256 56v2.3M1253.1 56v3M1309.1 56v15M1340.4 56v4.1M1320.9 56v2M1381.1 56.4v3.7M1245.3 56v6.5M1257.9 56v6.9M1498.6 59v14.7M1526.8 59v1.4M1459.9 58v7.4M1425.9 57.1v3.2M1501.3 59v3.2M1460.2 58v3.3M1520.7 59v3.9M1485.3 58.6v13.4M1455.7 57.9v8.2M1469.4 58.2v3.4M1437.6 57.4v19M1456.5 57.9v2.7M1463.9 58.1v1.4M1463 58.1v12.2M1508 59v6.6M1463.7 58.1v2M1507.9 59v4.2M1471.3 58.3v9.3M1460.1 58v9.6M1421.2 57v16.9M1422 57v1.5M1444.9 57.6v1.1M1461.2 58v5.4M1517.6 59v8.8M1483.6 58.6v1M1454.9 57.9v7.8M1520.9 59v4.6M1427.8 57.2v10.4M1450.2 57.8v1.2M1422.3 57.1v9.6M1527.1 59v5.2M1484.4 58.6v6.4M1431.5 57.3v6.2M1444.6 57.6v11.3M1507.1 59v8.8M1518.6 59v19M1483.4 58.6v10.4M1457.8 57.9v3.1M1463.4 58.1v5.8M1480.9 58.5v7.8M1486.9 58.7v9.8M1470.8 58.3v13.8M1447.9 57.7v6.3M1469.3 58.2v4.6M1422.3 57.1v9.2M1437.5 57.4v2.4M1459.8 58v2.3M1422 57.1v11.1M1508.7 59v3.8M1430.7 57.3v1.9M1453.9 57.8v4.5M1421.3 57v1.1M1507.7 59v2M1469.3 58.2v3.2M1493.7 58.8v17.5M1584.5 61.8v12.5M1610.4 64v17M1619.8 65v5.9M1586.2 61.8v9.8M1563.7 60.8v3.1M1654.9 79.9v1.4M1529.4 59.3v9.1M1662.2 90.1v2.8M1642.8 71.1v6.1M1593.6 64.5v1.6M1612.7 64.3v15.4M1551.5 60.3v11.9M1524 59v10.8M1533.4 59.5v2.2M1571.7 61.2v9.7M1539.2 59.7v1.9M1554.1 60.4v1.8M1552.5 60.3v3.9M1614.3 64.4v4.7M1536.3 59.6v3.3M1551.7 60.3v1.2M1539 59.7v4.3M1566.1 60.9v2.3M1629.1 65.9v6.3M1632.8 67.1v9.2M1621.9 65.2v1.5M1538.5 59.7v7.4M1590.8 62.6v2.2M1566.1 60.9v17M1626 65.6v5.9M1645.1 72.1v3.5M1561.3 60.7v6.9M1642.5 71v1.6M1545.5 60v4.5M1578.7 61.5v7.1M1609.3 64.4v1.3M1557.7 60.6v1.7M1553.8 60.4v2M1617.9 64.8v15.4M1565.5 60.9v3.5M1598.7 68.1v4M1602.7 67.7v1.9M1578.2 61.5v1.5M1529.4 59.3v2M1612.6 64.3v6.7M1638.9 69.6v1.6M1534.2 59.5v9M1532.4 59.4v3.9M1555.9 60.5v6.1M1533.6 59.5v4.1M1603.3 67.3v4.8M1647.1 73.7v2.4M1534.8 59.5v10.4M1540.6 59.8v2.7M1607.2 65.4v2.1M1586.1 61.8v6.8M1554.3 60.4v3.3M1567.9 61v4.4M1607.3 65.3v5.2M1535.9 59.6v1.9M1608.6 64.7v5.7M1536.9 59.6v2.6M1535.8 59.6v8.3M1609.5 64.2v7.2M1635.6 68.2v14M1597.4 67.2v11.1M1625.9 65.6v2.6M1614.4 64.4v4.3M1612 64.2v2M1561 60.7v6.5M1578.5 61.5v10.2M1696.7 77v3.5M1705.7 94.7v1.3M1677.2 62.3v5.3M1678.5 62.6v1M1687.9 67.7v1.1M1671.7 60.9v5.4M1673.3 61.3v1.4M1693.5 73.2v3.2M1672.1 61v6.6M1692.1 71.6v1.6M1679 62.7v1.5M1680.9 63.5v8.5M1699 79.8v1.4M1679.1 62.8v11.9M1665.3 59.2v2.4M1699.8 80.8v2.2M1677.6 62.4v3.6M1687.6 67.6v6M1688.4 68v6.4M1676.6 62.1v1.7M1678.3 62.6v2.3M1673.1 61.2v7.7M1705.7 94.8v8.7M1699.9 80.9v1M1682.1 64.3v2.8M1684.3 65.6v11M1675.8 61.9v2.2M1676.8 62.2v1.7M1704.9 92.8v2M1697.5 78v8.2M1699.1 79.9v3.4M1689 68.4v3.2M1720.1 87.8v2.9M1718.9 84.6v5M1720.5 89v1.8M1707.5 61.8v2.1M1707.3 61.5v1.7M1716.6 78.4v3.8M1710.9 67.4v3.3M1721.1 90.4v5.1M1714.8 73.7v1.6M1723.1 96v3.6M1725.5 68v4.2M1734.6 96.2v7.2M1736.8 104.5v7M1729.6 77.9v1.4M1725.6 68.1v1.1M1734.2 94.9v7.2M1724 64.3v7.9M1723.9 64.1v13.5M1733.8 93.3v1.3M1736.3 102.5v5.7M1819.7 76.9v3.1M1864 105.5v3.1M1833.7 81.6v3.5M1759.3 61.7v3.2M1783.8 72.5v8.4M1755.2 61.5v2.2M1837.8 84.2v15M1793.8 74v5.2M1806.1 71.5v7.7M1839.1 85.3v9.5M1793.1 74.2v11.4M1846.5 91.2v6.1M1861.4 101.9v3.9M1818.6 76.4v3.2M1845.8 90.6v9.8M1763 61.9v2M1823.8 78.3v2.5M1776.2 69.5v10.7M1780.3 71.1v2.9M1753.5 61.4v12.3M1766.3 62.9v10.3M1843 88.4v4.9M1797.1 73.1v1.8M1779.6 70.8v3.3M1837.8 84.2v4.3M1819.5 76.8v7.4M1864.2 105.8v3.5M1833.3 81.4v1.3M1802.8 71.6v10.8M1757.4 61.6v2.3M1800.2 72.3v15M1753.8 61.4v3.3M1849.3 93.4v12.5M1778.6 70.5v1.7M1773.4 67.9v14.6M1762.4 61.9v4.6M1781.7 71.7v7.2M1837.5 84v9M1761.9 61.8v4.4M1750.6 61.2v6.5M1791.6 74.6v3.1M1777.7 70.1v2.7M1845 90v1.3M1785.2 73.1v11.8M1840.9 86.7v1.4M1827.7 79.6v2M1789.5 74.8v2.1M1774 68.3v1.5M1785.9 73.4v2.8M1804.6 71.1v7M1821.5 77.5v5M1757.7 61.6v14.8M1780.3 71.1v10M1868.6 112v5.2M1782.1 71.8v1.4M1866.9 109.7v2.3M1750.9 61.2v1.2M1785.6 73.2v3.3M1808.3 72.3v9.6M1770.1 65.6v9M1769.9 65.5v4.2M1821.9 77.6v2.8M1762.2 61.8v3.8M1812.5 74v8.5M1858.9 99.3v2.7M1845.6 90.5v7.5M1833.4 81.5v2.2M1790.5 74.9v3.1M1796.3 73.3v2.1M1858.3 99v8.9M1828.3 79.8v6M1812.2 73.9v4.2M1859.6 99.8v15M1814.3 74.7v4.1M1840.4 86.4v2.2M1830.3 80.4v7.9M1833.4 81.5v4.9M1796.8 73.2v2.6M1753.9 61.4v14.2M1784.3 72.7v6.4M1822.7 77.9v11.1M1808.4 72.4v1.6M1869.4 113.2v7.1M1806.7 71.7v2.4M1805.5 71.2v3.2M1783.6 72.4v8.2M1772.8 67.5v3.4M1786.7 73.7v2.1M1854.9 96.9v4.3M1776 69.4v9.5M1800.3 72.2v3.3M1799 72.6v3.3M1754.7 61.4v5.1M1799.5 72.5v12.6M1773.9 68.3v7.1M1823.3 78.1v3.2M1756 61.5v3.4M1792.4 74.4v12.4M1772.4 67.2v3.1M1758 61.6v2M1836.7 83.4v2.8M1806.3 71.5v1.9M1877.7 138.9v8.7M1756.4 61.5v1.2M1855 97v3.1M1855.7 97.4v1.4M1789.3 74.7v5.1M1755.7 61.5v12M1784.7 72.9v7.2M1813.9 74.6v3.1M1788.9 74.6v2.8M1878.8 143.1v2.6M1877.9 139.8v3.7M1849.8 93.9v3.2M1863.3 104.6v4.7M1861.5 102.1v11.4M1756.6 61.5v10.9M1842.4 87.9v1.5M1770.4 65.8v15M1808.6 72.4v4.3M1864 105.6v6.5M1872.7 122v2.6M1804.4 71.1v3.1M1815.9 75.4v5.9M1786.1 73.4v12.7M1770 65.5v3.8M1940.1 101.3v3.7M1910.1 94.1v2.6M1900.7 85.7v9.7M1910.4 94.4v6.1M1914.8 98.8v1.2M1887.7 75.5v3.7M1926.1 114.1v2.2M1934.2 112.2v1.5M1900 85.2v6.4M1900 85.1v2M1903.4 88v2.1M1935.7 109v1.6M1891.1 78.1v3.7M1936.5 107v6.9M1931 114.7v2.2M1913.2 97.2v7.8M1949.3 104.1v2.1M1880.4 70.1v3.8M1894.4 80.6v7.8M1920.6 107.4v4.5M1896.7 82.4v6.2M1889.5 76.8v3M1923.9 112.4v7M1887.4 75.3v4.9M1905.3 89.6v7.6M1889.9 77.2v3.5M1949.7 104.9v3.5M1882.1 71.3v2.9M1911.2 95.2v12.7M1900.6 85.7v3.6M1945.4 95v5.1M1897.7 83.3v1.5M1894.5 80.6v12.5M1925.5 114.1v7.6M1885.6 73.9v2.9M1929.4 114.6v2.6M1902.7 87.4v10.9M1890.2 77.4v2M1912.1 96.1v1.8M1928.7 114.5v14.6M1886 74.3v7M1881.2 70.7v1.9M1920.8 107.7v3.9M1945.8 95.9v4.6M1933.1 114.8v3.7M1895 81v2M1934.5 111.6v6M1917.7 103.1v1.2M1916.6 101.4v6.3M1879.8 69.6v7.2M1931.3 114.8v2.1M1944.6 94.6v1.5M1915.4 99.6v10.6M1880.5 70.2v3.2M1886.4 74.6v5.3M1936.2 107.8v7M1935.1 110.2v8.4M1884.6 73.2v3.2M1929.2 114.5v2.1M1890.9 77.9v3.9M1904.9 89.3v3.2M1887.4 75.3v3.8M1951.2 108v1M1896.7 82.4v6.1M1920.4 107.1v1.3M1895.8 81.7v2.8M1903.3 87.9v1M1934.7 111.2v6M1897.5 83.1v6.1M1947.8 100.6v6M1909.2 93.2v15" stroke="#000" stroke-width="1" fill="none"/><path d="M1418.3 273V502M1270.1 53V124.3M1274.1 53V73.6M1279.8 53V150.5M1288.9 53V96.9M1311.4 53V265.3M1340.4 53V189.6M1345.8 53V96M1363.4 53.2V129M1396.2 53.7V113M1436.3 56.4V96M1440 58.7V414M1466.6 59.9V84.6" stroke="#666" stroke-width="1.2" fill="none"/><path d="M1401.6 55V266.3M1418.3 44V273M1239.1 53V67.6M1290.9 53V244.5M1301.9 53V67M1306.8 53V79M1314.8 53V374M1326.1 53V67M1340.1 53V107.3M1353 53V216.1M1362.1 53.2V270M1371 53.3V123.4M1369 53.2V82.7M1380.8 53.4V84.6M1384.8 53.4V72M1397.5 53.8V128M1422.7 54.1V124.3M1440 58.7V142.3M1448.2 54.7V70M1477 87V167.9M1483.6 55.6V74M1498.4 89.3V176.4M1506.7 86.2V195.3M1517.7 85.6V97M1523 97V116.8M1528 56.2V71.4M1578 58.5V67M1598 64.6V67M1601.2 65.4V75.9M1656.3 79.3V91.7M1664.1 88V115.1M1669.4 57.3V105.7M1678.1 59.5V128.1M1687.1 64.3V89M1701.6 81.9V123.5M1706.7 94.3V99.2M1712.3 66.6V172M1718.8 81.3V125.3M1723.9 61V127.2M1737.5 104.1V110.4M1741.6 93V153.4M1746.8 124.8V131M1757.1 58.6V91.7M1761.8 58.8V132.8M1775.4 66.2V133.7M1791.3 71.7V88M1798.2 69.8V86.1M1822.4 74.8V86M1851.4 91.8V115.1M1855.1 94.1V101M1865.8 105.1V131.9M1869 109.6V119.5M1895.3 78.2V89M1907 88V92.7M1926 111.1V125.3M1933.2 111.5V117M1951.3 105V110.4" stroke="#111" stroke-width="1.3" fill="none"/><rect x="1238" y="537" width="72.2" height="112.2" fill="#BEBEBE"/><rect x="1310" y="537" width="1.6" height="112.2" fill="#8f8fd8"/><rect x="1311.5" y="537" width="13.4" height="112.2" fill="#BEBEBE"/><rect x="1324.7" y="537" width="1.4" height="112.2" fill="#9999dd"/><rect x="1326" y="537" width="9.2" height="112.2" fill="#BEBEBE"/><rect x="1335" y="537" width="2.1" height="112.2" fill="#99cccc"/><rect x="1336.9" y="537" width="3" height="112.2" fill="#c0b8b8"/><rect x="1339.8" y="537" width="2.1" height="112.2" fill="#a0a0e0"/><rect x="1341.8" y="537" width="2.6" height="112.2" fill="#ccccaa"/><rect x="1344.2" y="537" width="2" height="112.2" fill="#8866ee"/><rect x="1346.1" y="537" width="1.6" height="112.2" fill="#c8c8c8"/><rect x="1347.6" y="537" width="2.6" height="112.2" fill="#a0a0d8"/><rect x="1350" y="537" width="3.1" height="112.2" fill="#c8c8b0"/><rect x="1352.9" y="537" width="2.6" height="112.2" fill="#7070e0"/><rect x="1355.4" y="537" width="2.5" height="112.2" fill="#9090a0"/><rect x="1357.8" y="537" width="2.1" height="112.2" fill="#ccffee"/><rect x="1359.7" y="537" width="2.1" height="112.2" fill="#ddaacc"/><rect x="1361.7" y="537" width="2.5" height="112.2" fill="#44aaaa"/><rect x="1364.1" y="537" width="2.1" height="112.2" fill="#4466ff"/><rect x="1366.1" y="537" width="2.1" height="112.2" fill="#44bb88"/><rect x="1368" y="537" width="2.1" height="112.2" fill="#30a080"/><rect x="1370" y="537" width="2.6" height="112.2" fill="#22bb66"/><rect x="1372.4" y="537" width="1.5" height="112.2" fill="#446688"/><rect x="1373.8" y="537" width="2.1" height="112.2" fill="#ccccaa"/><rect x="1375.8" y="537" width="2.6" height="112.2" fill="#2222cc"/><rect x="1378.2" y="537" width="2.5" height="112.2" fill="#f0c0a0"/><rect x="1380.6" y="537" width="2.1" height="112.2" fill="#40a0a0"/><rect x="1382.6" y="537" width="2.1" height="112.2" fill="#dd8888"/><rect x="1384.5" y="537" width="2.1" height="112.2" fill="#bbdd55"/><rect x="1386.5" y="537" width="3.1" height="112.2" fill="#4060ff"/><rect x="1389.4" y="537" width="4.9" height="112.2" fill="#20c0a0"/><rect x="1394.2" y="537" width="1.6" height="112.2" fill="#222288"/><rect x="1395.7" y="537" width="3.5" height="112.2" fill="#40e0a0"/><rect x="1399.1" y="537" width="2.6" height="112.2" fill="#a0a0e8"/><rect x="1401.5" y="537" width="14.1" height="112.2" fill="#A020F0"/><rect x="1415.4" y="537" width="6.8" height="112.2" fill="#4169E1"/><rect x="1422.1" y="537" width="5.1" height="112.2" fill="#33cc33"/><rect x="1427" y="537" width="1.6" height="112.2" fill="#dd99aa"/><rect x="1428.5" y="537" width="4.9" height="112.2" fill="#55aa88"/><rect x="1433.3" y="537" width="2.6" height="112.2" fill="#aaff44"/><rect x="1435.8" y="537" width="3.1" height="112.2" fill="#3399ff"/><rect x="1438.7" y="537" width="2.5" height="112.2" fill="#aaaaaa"/><rect x="1441.1" y="537" width="2.6" height="112.2" fill="#228888"/><rect x="1443.5" y="537" width="3.6" height="112.2" fill="#77aa88"/><rect x="1446.9" y="537" width="2.1" height="112.2" fill="#226677"/><rect x="1448.9" y="537" width="2" height="112.2" fill="#2060e0"/><rect x="1450.8" y="537" width="3.1" height="112.2" fill="#20b0d0"/><rect x="1453.7" y="537" width="2.1" height="112.2" fill="#ff66ff"/><rect x="1455.7" y="537" width="3" height="112.2" fill="#77dd55"/><rect x="1458.6" y="537" width="2.6" height="112.2" fill="#33cc33"/><rect x="1461" y="537" width="2.1" height="112.2" fill="#111155"/><rect x="1463" y="537" width="3.6" height="112.2" fill="#3366ee"/><rect x="1466.4" y="537" width="3" height="112.2" fill="#22bb44"/><rect x="1469.3" y="537" width="2.1" height="112.2" fill="#ccaacc"/><rect x="1471.2" y="537" width="2.1" height="112.2" fill="#2244cc"/><rect x="1473.2" y="537" width="4.9" height="112.2" fill="#00d0d0"/><rect x="1478" y="537" width="2.1" height="112.2" fill="#4444ee"/><rect x="1480" y="537" width="2.6" height="112.2" fill="#44ee88"/><rect x="1482.4" y="537" width="2.5" height="112.2" fill="#228899"/><rect x="1484.8" y="537" width="3.1" height="112.2" fill="#3355dd"/><rect x="1487.7" y="537" width="1.6" height="112.2" fill="#33dd33"/><rect x="1489.2" y="537" width="2" height="112.2" fill="#0000ff"/><rect x="1491.1" y="537" width="3.6" height="112.2" fill="#2288aa"/><rect x="1494.5" y="537" width="4.1" height="112.2" fill="#bbaaaa"/><rect x="1498.4" y="537" width="2.6" height="112.2" fill="#1111ee"/><rect x="1500.9" y="537" width="3" height="112.2" fill="#aaee44"/><rect x="1503.8" y="537" width="3.6" height="112.2" fill="#ff8c00"/><rect x="1507.2" y="537" width="2.5" height="112.2" fill="#4499ff"/><rect x="1509.6" y="537" width="2.6" height="112.2" fill="#88aaaa"/><rect x="1512" y="537" width="4.1" height="112.2" fill="#99dddd"/><rect x="1515.9" y="537" width="6.9" height="112.2" fill="#E0FFFF"/><rect x="1522.7" y="537" width="1.6" height="112.2" fill="#aabbff"/><rect x="1524.2" y="537" width="2.5" height="112.2" fill="#3344ff"/><rect x="1526.6" y="537" width="2.1" height="112.2" fill="#dd7777"/><rect x="1528.6" y="537" width="2.1" height="112.2" fill="#33aa88"/><rect x="1530.5" y="537" width="5.9" height="112.2" fill="#44dd22"/><rect x="1536.3" y="537" width="4.1" height="112.2" fill="#33cc33"/><rect x="1540.2" y="537" width="4.9" height="112.2" fill="#00ee00"/><rect x="1545" y="537" width="5.2" height="112.2" fill="#44dd22"/><rect x="1550" y="537" width="5.9" height="112.2" fill="#00ff00"/><rect x="1555.8" y="537" width="1.6" height="112.2" fill="#33bb33"/><rect x="1557.2" y="537" width="4.5" height="112.2" fill="#00ff00"/><rect x="1561.6" y="537" width="5.1" height="112.2" fill="#33dd22"/><rect x="1566.5" y="537" width="5.9" height="112.2" fill="#00ff00"/><rect x="1572.3" y="537" width="4.9" height="112.2" fill="#22cc22"/><rect x="1577.1" y="537" width="12.9" height="112.2" fill="#00ff00"/><rect x="1589.8" y="537" width="4.1" height="112.2" fill="#33bb44"/><rect x="1593.7" y="537" width="8.4" height="112.2" fill="#FA8072"/><rect x="1602" y="537" width="62.4" height="112.2" fill="#00FF00"/><rect x="1664.3" y="537" width="1.9" height="112.2" fill="#aa44dd"/><rect x="1666" y="537" width="1.6" height="112.2" fill="#999999"/><rect x="1667.5" y="537" width="3.6" height="112.2" fill="#0000ff"/><rect x="1671" y="537" width="2.1" height="112.2" fill="#6677ee"/><rect x="1673" y="537" width="2.1" height="112.2" fill="#0000ff"/><rect x="1675" y="537" width="2.1" height="112.2" fill="#5566ee"/><rect x="1677" y="537" width="2.6" height="112.2" fill="#0000ff"/><rect x="1679.5" y="537" width="2.1" height="112.2" fill="#ccf0f0"/><rect x="1681.5" y="537" width="2.9" height="112.2" fill="#4455ee"/><rect x="1684.3" y="537" width="22.4" height="112.2" fill="#000000"/><rect x="1706.6" y="537" width="2.1" height="112.2" fill="#aa55dd"/><rect x="1708.5" y="537" width="2.6" height="112.2" fill="#0000ff"/><rect x="1711" y="537" width="3.6" height="112.2" fill="#1188ff"/><rect x="1714.4" y="537" width="9.3" height="112.2" fill="#00FFFF"/><rect x="1723.6" y="537" width="14.8" height="112.2" fill="#FF00FF"/><rect x="1738.2" y="537" width="8.9" height="112.2" fill="#999999"/><rect x="1747" y="537" width="1.6" height="112.2" fill="#3399aa"/><rect x="1748.5" y="537" width="2.1" height="112.2" fill="#0000ff"/><rect x="1750.5" y="537" width="2.1" height="112.2" fill="#9933dd"/><rect x="1752.4" y="537" width="4" height="112.2" fill="#8888bb"/><rect x="1756.3" y="537" width="2.1" height="112.2" fill="#cc7799"/><rect x="1758.2" y="537" width="5.9" height="112.2" fill="#2233ee"/><rect x="1764" y="537" width="1.1" height="112.2" fill="#9944dd"/><rect x="1765" y="537" width="2.1" height="112.2" fill="#2233ee"/><rect x="1767" y="537" width="3.1" height="112.2" fill="#8866aa"/><rect x="1769.9" y="537" width="2.5" height="112.2" fill="#3399aa"/><rect x="1772.3" y="537" width="3.1" height="112.2" fill="#0000ff"/><rect x="1775.2" y="537" width="2" height="112.2" fill="#aa9988"/><rect x="1777.1" y="537" width="2.1" height="112.2" fill="#0000ff"/><rect x="1779.1" y="537" width="3.1" height="112.2" fill="#aa88cc"/><rect x="1782" y="537" width="2.6" height="112.2" fill="#9944dd"/><rect x="1784.4" y="537" width="3.1" height="112.2" fill="#0000ff"/><rect x="1787.4" y="537" width="3.9" height="112.2" fill="#ff7755"/><rect x="1791.2" y="537" width="4" height="112.2" fill="#0000ff"/><rect x="1795.1" y="537" width="2.6" height="112.2" fill="#5588aa"/><rect x="1797.6" y="537" width="3.1" height="112.2" fill="#0000ff"/><rect x="1800.5" y="537" width="2.1" height="112.2" fill="#5577bb"/><rect x="1802.4" y="537" width="2.5" height="112.2" fill="#8844dd"/><rect x="1804.8" y="537" width="3.1" height="112.2" fill="#0000ff"/><rect x="1807.8" y="537" width="2.6" height="112.2" fill="#4466cc"/><rect x="1810.2" y="537" width="7.9" height="112.2" fill="#0000ff"/><rect x="1818" y="537" width="3.6" height="112.2" fill="#ff8855"/><rect x="1821.4" y="537" width="3.5" height="112.2" fill="#2244ee"/><rect x="1824.8" y="537" width="23.9" height="112.2" fill="#0000ff"/><rect x="1848.6" y="537" width="3.4" height="112.2" fill="#ADFF2F"/><rect x="1851.8" y="537" width="27.6" height="112.2" fill="#0000ff"/><rect x="1879.2" y="537" width="2" height="112.2" fill="#22bb44"/><rect x="1881.1" y="537" width="4.6" height="112.2" fill="#2299dd"/><rect x="1885.5" y="537" width="6.4" height="112.2" fill="#0000ff"/><rect x="1891.8" y="537" width="2.1" height="112.2" fill="#dd6688"/><rect x="1893.8" y="537" width="2.1" height="112.2" fill="#1188ff"/><rect x="1895.7" y="537" width="2.5" height="112.2" fill="#0000ff"/><rect x="1898.1" y="537" width="3.1" height="112.2" fill="#2266ff"/><rect x="1901" y="537" width="5.6" height="112.2" fill="#ADFF2F"/><rect x="1906.4" y="537" width="2.5" height="112.2" fill="#0000ff"/><rect x="1908.8" y="537" width="4.6" height="112.2" fill="#1166ff"/><rect x="1913.2" y="537" width="12.2" height="112.2" fill="#0000ff"/><rect x="1925.3" y="537" width="4.1" height="112.2" fill="#1199ff"/><rect x="1929.2" y="537" width="3.5" height="112.2" fill="#00FFFF"/><rect x="1932.6" y="537" width="4.6" height="112.2" fill="#0000ff"/><rect x="1937" y="537" width="3.1" height="112.2" fill="#11dd22"/><rect x="1939.9" y="537" width="1.6" height="112.2" fill="#9966cc"/><rect x="1941.4" y="537" width="10.7" height="112.2" fill="#FA8072"/><line x1="1238" y1="537" x2="1952" y2="537" stroke="#222" stroke-width="1.3"/><line x1="1238" y1="649.2" x2="1952" y2="649.2" stroke="#222" stroke-width="1.3"/><text x="1232.5" y="587.4" font-size="27.2" font-weight="bold" text-anchor="end">Dynamic</text><text x="1230" y="620" font-size="27.2" font-weight="bold" text-anchor="end">Tree Cut</text></svg></body></html>
